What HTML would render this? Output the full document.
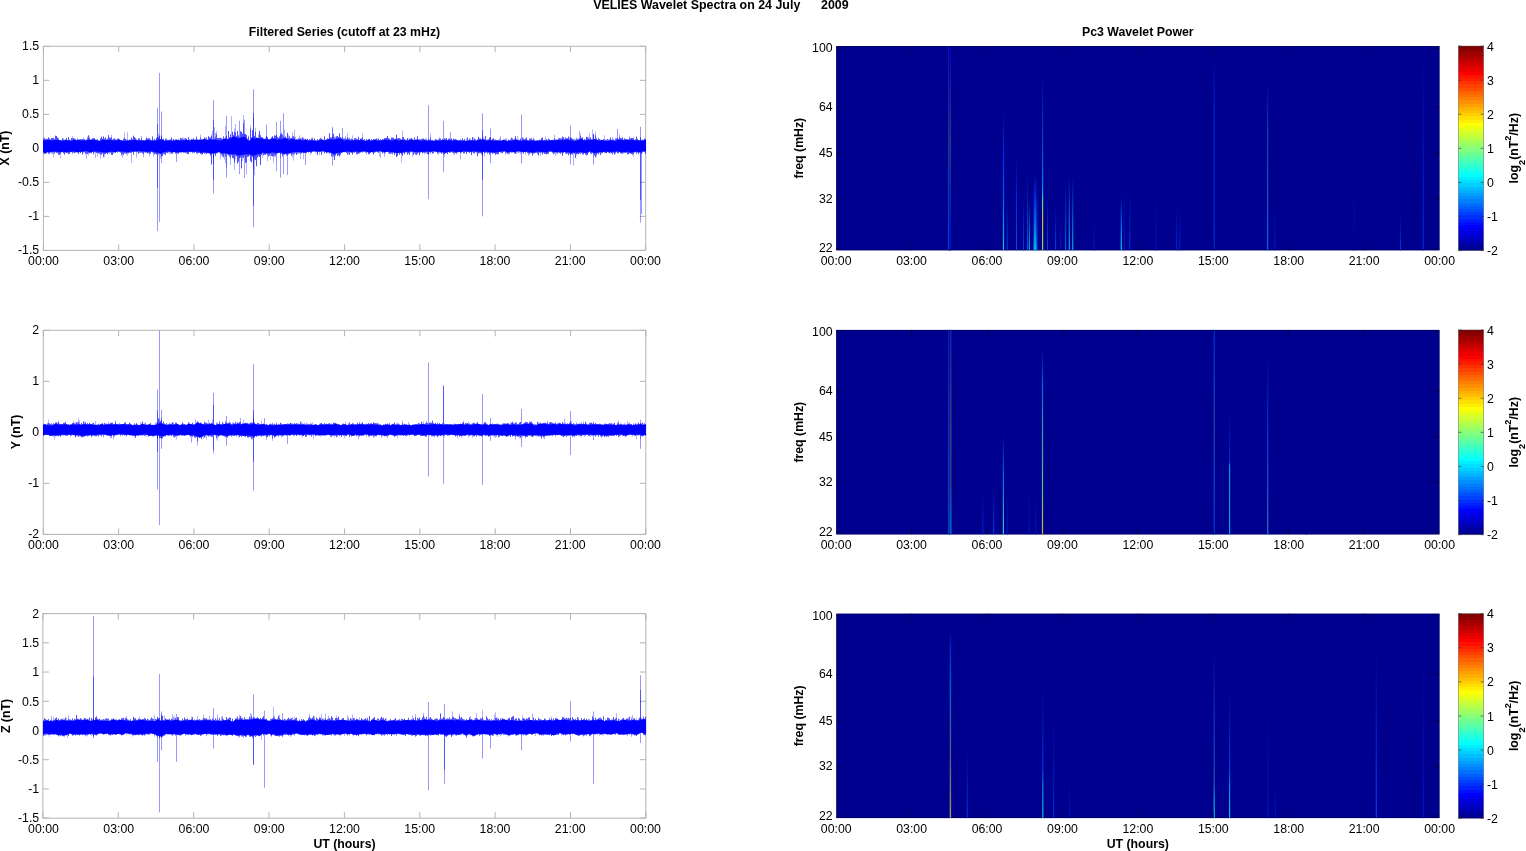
<!DOCTYPE html>
<html><head><meta charset="utf-8"><title>VELIES Wavelet Spectra</title>
<style>html,body{margin:0;padding:0;background:#fff;width:1526px;height:851px;overflow:hidden}svg{display:block;will-change:transform}</style>
</head><body>
<svg width="1526" height="851" viewBox="0 0 1526 851" font-family="'Liberation Sans', Arial, Helvetica, sans-serif" fill="#000"><defs><linearGradient id="g1" gradientUnits="userSpaceOnUse" x1="0" y1="46.00" x2="0" y2="250.40"><stop offset="0.0000" stop-color="rgb(0, 20, 180)"/><stop offset="0.4599" stop-color="rgb(20, 60, 150)"/><stop offset="0.9247" stop-color="rgb(0, 60, 220)"/><stop offset="0.9980" stop-color="rgb(0, 60, 220)"/></linearGradient><linearGradient id="g2" gradientUnits="userSpaceOnUse" x1="0" y1="46.00" x2="0" y2="250.40"><stop offset="0.0000" stop-color="rgb(0, 0, 160)"/><stop offset="0.4599" stop-color="rgb(10, 30, 150)"/><stop offset="0.9247" stop-color="rgb(0, 15, 175)"/><stop offset="0.9980" stop-color="rgb(0, 15, 175)"/></linearGradient><linearGradient id="g3" gradientUnits="userSpaceOnUse" x1="0" y1="46.00" x2="0" y2="250.40"><stop offset="0.0000" stop-color="rgb(0, 0, 185)"/><stop offset="0.4599" stop-color="rgb(60, 60, 130)"/><stop offset="0.9247" stop-color="rgb(0, 20, 190)"/><stop offset="0.9980" stop-color="rgb(0, 20, 190)"/></linearGradient><linearGradient id="g4" gradientUnits="userSpaceOnUse" x1="0" y1="107.00" x2="0" y2="250.40"><stop offset="0.0000" stop-color="rgb(0, 0, 143)"/><stop offset="0.3696" stop-color="rgb(0, 50, 230)"/><stop offset="0.6485" stop-color="rgb(0, 100, 240)"/><stop offset="0.9275" stop-color="rgb(0, 180, 220)"/><stop offset="0.9972" stop-color="rgb(30, 200, 200)"/></linearGradient><linearGradient id="g5" gradientUnits="userSpaceOnUse" x1="0" y1="195.00" x2="0" y2="250.40"><stop offset="0.0000" stop-color="rgb(0, 0, 143)"/><stop offset="0.9928" stop-color="rgb(0, 60, 230)"/></linearGradient><linearGradient id="g6" gradientUnits="userSpaceOnUse" x1="0" y1="156.00" x2="0" y2="250.40"><stop offset="0.0000" stop-color="rgb(0, 0, 143)"/><stop offset="0.4661" stop-color="rgb(0, 40, 230)"/><stop offset="0.9958" stop-color="rgb(0, 80, 240)"/></linearGradient><linearGradient id="g7" gradientUnits="userSpaceOnUse" x1="0" y1="195.00" x2="0" y2="250.40"><stop offset="0.0000" stop-color="rgb(0, 0, 143)"/><stop offset="0.9928" stop-color="rgb(0, 60, 230)"/></linearGradient><linearGradient id="g8" gradientUnits="userSpaceOnUse" x1="0" y1="171.00" x2="0" y2="250.40"><stop offset="0.0000" stop-color="rgb(0, 0, 143)"/><stop offset="0.9950" stop-color="rgb(0, 90, 240)"/></linearGradient><linearGradient id="g9" gradientUnits="userSpaceOnUse" x1="0" y1="201.00" x2="0" y2="250.40"><stop offset="0.0000" stop-color="rgb(0, 0, 143)"/><stop offset="0.9919" stop-color="rgb(0, 170, 220)"/></linearGradient><linearGradient id="g10" gradientUnits="userSpaceOnUse" x1="0" y1="185.00" x2="0" y2="250.40"><stop offset="0.0000" stop-color="rgb(0, 0, 143)"/><stop offset="0.6881" stop-color="rgb(0, 50, 230)"/><stop offset="0.9939" stop-color="rgb(0, 120, 240)"/></linearGradient><linearGradient id="g11" gradientUnits="userSpaceOnUse" x1="0" y1="171.00" x2="0" y2="250.40"><stop offset="0.0000" stop-color="rgb(0, 0, 143)"/><stop offset="0.3652" stop-color="rgb(0, 50, 240)"/><stop offset="0.7431" stop-color="rgb(0, 150, 240)"/><stop offset="0.9950" stop-color="rgb(0, 220, 230)"/></linearGradient><linearGradient id="g12" gradientUnits="userSpaceOnUse" x1="0" y1="175.00" x2="0" y2="250.40"><stop offset="0.0000" stop-color="rgb(0, 0, 143)"/><stop offset="0.3316" stop-color="rgb(0, 60, 240)"/><stop offset="0.7294" stop-color="rgb(0, 170, 240)"/><stop offset="0.9947" stop-color="rgb(20, 230, 220)"/></linearGradient><linearGradient id="g13" gradientUnits="userSpaceOnUse" x1="0" y1="190.00" x2="0" y2="250.40"><stop offset="0.0000" stop-color="rgb(0, 0, 143)"/><stop offset="0.6623" stop-color="rgb(0, 50, 230)"/><stop offset="0.9934" stop-color="rgb(0, 110, 240)"/></linearGradient><linearGradient id="g14" gradientUnits="userSpaceOnUse" x1="0" y1="74.00" x2="0" y2="250.40"><stop offset="0.0000" stop-color="rgb(0, 0, 143)"/><stop offset="0.4875" stop-color="rgb(0, 90, 220)"/><stop offset="0.6519" stop-color="rgb(0, 140, 230)"/><stop offset="0.7143" stop-color="rgb(60, 220, 150)"/><stop offset="0.8390" stop-color="rgb(220, 180, 40)"/><stop offset="0.9977" stop-color="rgb(150, 220, 80)"/></linearGradient><linearGradient id="g15" gradientUnits="userSpaceOnUse" x1="0" y1="195.00" x2="0" y2="250.40"><stop offset="0.0000" stop-color="rgb(0, 0, 143)"/><stop offset="0.9928" stop-color="rgb(0, 70, 230)"/></linearGradient><linearGradient id="g16" gradientUnits="userSpaceOnUse" x1="0" y1="206.00" x2="0" y2="250.40"><stop offset="0.0000" stop-color="rgb(0, 0, 143)"/><stop offset="0.9910" stop-color="rgb(0, 70, 230)"/></linearGradient><linearGradient id="g17" gradientUnits="userSpaceOnUse" x1="0" y1="215.00" x2="0" y2="250.40"><stop offset="0.0000" stop-color="rgb(0, 0, 143)"/><stop offset="0.9887" stop-color="rgb(0, 30, 200)"/></linearGradient><linearGradient id="g18" gradientUnits="userSpaceOnUse" x1="0" y1="180.00" x2="0" y2="250.40"><stop offset="0.0000" stop-color="rgb(0, 0, 143)"/><stop offset="0.9943" stop-color="rgb(0, 110, 240)"/></linearGradient><linearGradient id="g19" gradientUnits="userSpaceOnUse" x1="0" y1="176.00" x2="0" y2="250.40"><stop offset="0.0000" stop-color="rgb(0, 0, 143)"/><stop offset="0.9946" stop-color="rgb(0, 170, 230)"/></linearGradient><linearGradient id="g20" gradientUnits="userSpaceOnUse" x1="0" y1="177.00" x2="0" y2="250.40"><stop offset="0.0000" stop-color="rgb(0, 0, 143)"/><stop offset="0.9946" stop-color="rgb(0, 170, 230)"/></linearGradient><linearGradient id="g21" gradientUnits="userSpaceOnUse" x1="0" y1="222.00" x2="0" y2="250.40"><stop offset="0.0000" stop-color="rgb(0, 0, 143)"/><stop offset="0.9859" stop-color="rgb(0, 30, 200)"/></linearGradient><linearGradient id="g22" gradientUnits="userSpaceOnUse" x1="0" y1="196.00" x2="0" y2="250.40"><stop offset="0.0000" stop-color="rgb(0, 0, 143)"/><stop offset="0.5331" stop-color="rgb(0, 110, 240)"/><stop offset="0.9926" stop-color="rgb(0, 210, 230)"/></linearGradient><linearGradient id="g23" gradientUnits="userSpaceOnUse" x1="0" y1="189.00" x2="0" y2="250.40"><stop offset="0.0000" stop-color="rgb(0, 0, 143)"/><stop offset="0.9935" stop-color="rgb(0, 30, 200)"/></linearGradient><linearGradient id="g24" gradientUnits="userSpaceOnUse" x1="0" y1="191.00" x2="0" y2="250.40"><stop offset="0.0000" stop-color="rgb(0, 0, 143)"/><stop offset="0.9933" stop-color="rgb(0, 60, 230)"/></linearGradient><linearGradient id="g25" gradientUnits="userSpaceOnUse" x1="0" y1="191.00" x2="0" y2="250.40"><stop offset="0.0000" stop-color="rgb(0, 0, 143)"/><stop offset="0.9933" stop-color="rgb(0, 20, 185)"/></linearGradient><linearGradient id="g26" gradientUnits="userSpaceOnUse" x1="0" y1="201.00" x2="0" y2="250.40"><stop offset="0.0000" stop-color="rgb(0, 0, 143)"/><stop offset="0.9919" stop-color="rgb(0, 50, 220)"/></linearGradient><linearGradient id="g27" gradientUnits="userSpaceOnUse" x1="0" y1="204.00" x2="0" y2="250.40"><stop offset="0.0000" stop-color="rgb(0, 0, 143)"/><stop offset="0.9914" stop-color="rgb(0, 40, 215)"/></linearGradient><linearGradient id="g28" gradientUnits="userSpaceOnUse" x1="0" y1="56.00" x2="0" y2="250.40"><stop offset="0.0000" stop-color="rgb(0, 0, 143)"/><stop offset="0.2263" stop-color="rgb(0, 30, 200)"/><stop offset="0.9979" stop-color="rgb(0, 45, 205)"/></linearGradient><linearGradient id="g29" gradientUnits="userSpaceOnUse" x1="0" y1="84.00" x2="0" y2="250.40"><stop offset="0.0000" stop-color="rgb(0, 0, 143)"/><stop offset="0.2764" stop-color="rgb(20, 60, 180)"/><stop offset="0.6971" stop-color="rgb(30, 80, 190)"/><stop offset="0.9976" stop-color="rgb(0, 100, 230)"/></linearGradient><linearGradient id="g30" gradientUnits="userSpaceOnUse" x1="0" y1="205.00" x2="0" y2="250.40"><stop offset="0.0000" stop-color="rgb(0, 0, 143)"/><stop offset="0.9912" stop-color="rgb(0, 30, 200)"/></linearGradient><linearGradient id="g31" gradientUnits="userSpaceOnUse" x1="0" y1="186.00" x2="0" y2="250.40"><stop offset="0.0000" stop-color="rgb(0, 0, 143)"/><stop offset="0.4348" stop-color="rgb(0, 10, 165)"/><stop offset="0.9938" stop-color="rgb(0, 0, 143)"/></linearGradient><linearGradient id="g32" gradientUnits="userSpaceOnUse" x1="0" y1="216.00" x2="0" y2="250.40"><stop offset="0.0000" stop-color="rgb(0, 0, 143)"/><stop offset="0.9884" stop-color="rgb(0, 60, 230)"/></linearGradient><linearGradient id="g33" gradientUnits="userSpaceOnUse" x1="0" y1="47.00" x2="0" y2="250.40"><stop offset="0.0000" stop-color="rgb(0, 0, 143)"/><stop offset="0.9980" stop-color="rgb(0, 40, 210)"/></linearGradient><linearGradient id="cbar" x1="0" y1="0" x2="0" y2="1"><stop offset="0.00000" stop-color="rgb(128,0,0)"/><stop offset="0.01562" stop-color="rgb(128,0,0)"/><stop offset="0.01562" stop-color="rgb(143,0,0)"/><stop offset="0.03125" stop-color="rgb(143,0,0)"/><stop offset="0.03125" stop-color="rgb(159,0,0)"/><stop offset="0.04688" stop-color="rgb(159,0,0)"/><stop offset="0.04688" stop-color="rgb(175,0,0)"/><stop offset="0.06250" stop-color="rgb(175,0,0)"/><stop offset="0.06250" stop-color="rgb(191,0,0)"/><stop offset="0.07812" stop-color="rgb(191,0,0)"/><stop offset="0.07812" stop-color="rgb(207,0,0)"/><stop offset="0.09375" stop-color="rgb(207,0,0)"/><stop offset="0.09375" stop-color="rgb(223,0,0)"/><stop offset="0.10938" stop-color="rgb(223,0,0)"/><stop offset="0.10938" stop-color="rgb(239,0,0)"/><stop offset="0.12500" stop-color="rgb(239,0,0)"/><stop offset="0.12500" stop-color="rgb(255,0,0)"/><stop offset="0.14062" stop-color="rgb(255,0,0)"/><stop offset="0.14062" stop-color="rgb(255,16,0)"/><stop offset="0.15625" stop-color="rgb(255,16,0)"/><stop offset="0.15625" stop-color="rgb(255,32,0)"/><stop offset="0.17188" stop-color="rgb(255,32,0)"/><stop offset="0.17188" stop-color="rgb(255,48,0)"/><stop offset="0.18750" stop-color="rgb(255,48,0)"/><stop offset="0.18750" stop-color="rgb(255,64,0)"/><stop offset="0.20312" stop-color="rgb(255,64,0)"/><stop offset="0.20312" stop-color="rgb(255,80,0)"/><stop offset="0.21875" stop-color="rgb(255,80,0)"/><stop offset="0.21875" stop-color="rgb(255,96,0)"/><stop offset="0.23438" stop-color="rgb(255,96,0)"/><stop offset="0.23438" stop-color="rgb(255,112,0)"/><stop offset="0.25000" stop-color="rgb(255,112,0)"/><stop offset="0.25000" stop-color="rgb(255,128,0)"/><stop offset="0.26562" stop-color="rgb(255,128,0)"/><stop offset="0.26562" stop-color="rgb(255,143,0)"/><stop offset="0.28125" stop-color="rgb(255,143,0)"/><stop offset="0.28125" stop-color="rgb(255,159,0)"/><stop offset="0.29688" stop-color="rgb(255,159,0)"/><stop offset="0.29688" stop-color="rgb(255,175,0)"/><stop offset="0.31250" stop-color="rgb(255,175,0)"/><stop offset="0.31250" stop-color="rgb(255,191,0)"/><stop offset="0.32812" stop-color="rgb(255,191,0)"/><stop offset="0.32812" stop-color="rgb(255,207,0)"/><stop offset="0.34375" stop-color="rgb(255,207,0)"/><stop offset="0.34375" stop-color="rgb(255,223,0)"/><stop offset="0.35938" stop-color="rgb(255,223,0)"/><stop offset="0.35938" stop-color="rgb(255,239,0)"/><stop offset="0.37500" stop-color="rgb(255,239,0)"/><stop offset="0.37500" stop-color="rgb(255,255,0)"/><stop offset="0.39062" stop-color="rgb(255,255,0)"/><stop offset="0.39062" stop-color="rgb(239,255,16)"/><stop offset="0.40625" stop-color="rgb(239,255,16)"/><stop offset="0.40625" stop-color="rgb(223,255,32)"/><stop offset="0.42188" stop-color="rgb(223,255,32)"/><stop offset="0.42188" stop-color="rgb(207,255,48)"/><stop offset="0.43750" stop-color="rgb(207,255,48)"/><stop offset="0.43750" stop-color="rgb(191,255,64)"/><stop offset="0.45312" stop-color="rgb(191,255,64)"/><stop offset="0.45312" stop-color="rgb(175,255,80)"/><stop offset="0.46875" stop-color="rgb(175,255,80)"/><stop offset="0.46875" stop-color="rgb(159,255,96)"/><stop offset="0.48438" stop-color="rgb(159,255,96)"/><stop offset="0.48438" stop-color="rgb(143,255,112)"/><stop offset="0.50000" stop-color="rgb(143,255,112)"/><stop offset="0.50000" stop-color="rgb(128,255,128)"/><stop offset="0.51562" stop-color="rgb(128,255,128)"/><stop offset="0.51562" stop-color="rgb(112,255,143)"/><stop offset="0.53125" stop-color="rgb(112,255,143)"/><stop offset="0.53125" stop-color="rgb(96,255,159)"/><stop offset="0.54688" stop-color="rgb(96,255,159)"/><stop offset="0.54688" stop-color="rgb(80,255,175)"/><stop offset="0.56250" stop-color="rgb(80,255,175)"/><stop offset="0.56250" stop-color="rgb(64,255,191)"/><stop offset="0.57812" stop-color="rgb(64,255,191)"/><stop offset="0.57812" stop-color="rgb(48,255,207)"/><stop offset="0.59375" stop-color="rgb(48,255,207)"/><stop offset="0.59375" stop-color="rgb(32,255,223)"/><stop offset="0.60938" stop-color="rgb(32,255,223)"/><stop offset="0.60938" stop-color="rgb(16,255,239)"/><stop offset="0.62500" stop-color="rgb(16,255,239)"/><stop offset="0.62500" stop-color="rgb(0,255,255)"/><stop offset="0.64062" stop-color="rgb(0,255,255)"/><stop offset="0.64062" stop-color="rgb(0,239,255)"/><stop offset="0.65625" stop-color="rgb(0,239,255)"/><stop offset="0.65625" stop-color="rgb(0,223,255)"/><stop offset="0.67188" stop-color="rgb(0,223,255)"/><stop offset="0.67188" stop-color="rgb(0,207,255)"/><stop offset="0.68750" stop-color="rgb(0,207,255)"/><stop offset="0.68750" stop-color="rgb(0,191,255)"/><stop offset="0.70312" stop-color="rgb(0,191,255)"/><stop offset="0.70312" stop-color="rgb(0,175,255)"/><stop offset="0.71875" stop-color="rgb(0,175,255)"/><stop offset="0.71875" stop-color="rgb(0,159,255)"/><stop offset="0.73438" stop-color="rgb(0,159,255)"/><stop offset="0.73438" stop-color="rgb(0,143,255)"/><stop offset="0.75000" stop-color="rgb(0,143,255)"/><stop offset="0.75000" stop-color="rgb(0,128,255)"/><stop offset="0.76562" stop-color="rgb(0,128,255)"/><stop offset="0.76562" stop-color="rgb(0,112,255)"/><stop offset="0.78125" stop-color="rgb(0,112,255)"/><stop offset="0.78125" stop-color="rgb(0,96,255)"/><stop offset="0.79688" stop-color="rgb(0,96,255)"/><stop offset="0.79688" stop-color="rgb(0,80,255)"/><stop offset="0.81250" stop-color="rgb(0,80,255)"/><stop offset="0.81250" stop-color="rgb(0,64,255)"/><stop offset="0.82812" stop-color="rgb(0,64,255)"/><stop offset="0.82812" stop-color="rgb(0,48,255)"/><stop offset="0.84375" stop-color="rgb(0,48,255)"/><stop offset="0.84375" stop-color="rgb(0,32,255)"/><stop offset="0.85938" stop-color="rgb(0,32,255)"/><stop offset="0.85938" stop-color="rgb(0,16,255)"/><stop offset="0.87500" stop-color="rgb(0,16,255)"/><stop offset="0.87500" stop-color="rgb(0,0,255)"/><stop offset="0.89062" stop-color="rgb(0,0,255)"/><stop offset="0.89062" stop-color="rgb(0,0,239)"/><stop offset="0.90625" stop-color="rgb(0,0,239)"/><stop offset="0.90625" stop-color="rgb(0,0,223)"/><stop offset="0.92188" stop-color="rgb(0,0,223)"/><stop offset="0.92188" stop-color="rgb(0,0,207)"/><stop offset="0.93750" stop-color="rgb(0,0,207)"/><stop offset="0.93750" stop-color="rgb(0,0,191)"/><stop offset="0.95312" stop-color="rgb(0,0,191)"/><stop offset="0.95312" stop-color="rgb(0,0,175)"/><stop offset="0.96875" stop-color="rgb(0,0,175)"/><stop offset="0.96875" stop-color="rgb(0,0,159)"/><stop offset="0.98438" stop-color="rgb(0,0,159)"/><stop offset="0.98438" stop-color="rgb(0,0,143)"/><stop offset="1.00000" stop-color="rgb(0,0,143)"/></linearGradient><linearGradient id="g34" gradientUnits="userSpaceOnUse" x1="0" y1="329.90" x2="0" y2="534.50"><stop offset="0.0000" stop-color="rgb(0, 40, 200)"/><stop offset="0.4594" stop-color="rgb(0, 70, 215)"/><stop offset="0.9971" stop-color="rgb(0, 80, 220)"/></linearGradient><linearGradient id="g35" gradientUnits="userSpaceOnUse" x1="0" y1="329.90" x2="0" y2="534.50"><stop offset="0.0000" stop-color="rgb(0, 10, 170)"/><stop offset="0.4594" stop-color="rgb(20, 30, 150)"/><stop offset="0.9971" stop-color="rgb(0, 60, 190)"/></linearGradient><linearGradient id="g36" gradientUnits="userSpaceOnUse" x1="0" y1="329.90" x2="0" y2="534.50"><stop offset="0.0000" stop-color="rgb(40, 40, 160)"/><stop offset="0.4594" stop-color="rgb(100, 80, 100)"/><stop offset="0.7527" stop-color="rgb(90, 80, 110)"/><stop offset="0.9238" stop-color="rgb(0, 150, 200)"/><stop offset="0.9971" stop-color="rgb(0, 150, 200)"/></linearGradient><linearGradient id="g37" gradientUnits="userSpaceOnUse" x1="0" y1="490.90" x2="0" y2="534.50"><stop offset="0.0000" stop-color="rgb(0, 0, 143)"/><stop offset="0.9862" stop-color="rgb(0, 40, 220)"/></linearGradient><linearGradient id="g38" gradientUnits="userSpaceOnUse" x1="0" y1="487.40" x2="0" y2="534.50"><stop offset="0.0000" stop-color="rgb(0, 0, 143)"/><stop offset="0.9873" stop-color="rgb(0, 70, 230)"/></linearGradient><linearGradient id="g39" gradientUnits="userSpaceOnUse" x1="0" y1="434.50" x2="0" y2="534.50"><stop offset="0.0000" stop-color="rgb(0, 0, 143)"/><stop offset="0.3940" stop-color="rgb(0, 100, 230)"/><stop offset="0.9940" stop-color="rgb(60, 200, 180)"/></linearGradient><linearGradient id="g40" gradientUnits="userSpaceOnUse" x1="0" y1="492.90" x2="0" y2="534.50"><stop offset="0.0000" stop-color="rgb(0, 0, 143)"/><stop offset="0.9856" stop-color="rgb(0, 25, 190)"/></linearGradient><linearGradient id="g41" gradientUnits="userSpaceOnUse" x1="0" y1="487.40" x2="0" y2="534.50"><stop offset="0.0000" stop-color="rgb(0, 0, 143)"/><stop offset="0.9873" stop-color="rgb(0, 25, 190)"/></linearGradient><linearGradient id="g42" gradientUnits="userSpaceOnUse" x1="0" y1="492.90" x2="0" y2="534.50"><stop offset="0.0000" stop-color="rgb(0, 0, 143)"/><stop offset="0.9856" stop-color="rgb(0, 25, 190)"/></linearGradient><linearGradient id="g43" gradientUnits="userSpaceOnUse" x1="0" y1="348.90" x2="0" y2="534.50"><stop offset="0.0000" stop-color="rgb(0, 0, 143)"/><stop offset="0.1886" stop-color="rgb(0, 100, 220)"/><stop offset="0.4580" stop-color="rgb(60, 160, 170)"/><stop offset="0.8028" stop-color="rgb(100, 200, 120)"/><stop offset="0.9537" stop-color="rgb(200, 180, 60)"/><stop offset="0.9968" stop-color="rgb(200, 180, 60)"/></linearGradient><linearGradient id="g44" gradientUnits="userSpaceOnUse" x1="0" y1="329.90" x2="0" y2="534.50"><stop offset="0.0000" stop-color="rgb(0, 50, 215)"/><stop offset="0.4594" stop-color="rgb(40, 70, 170)"/><stop offset="0.9971" stop-color="rgb(0, 60, 220)"/></linearGradient><linearGradient id="g45" gradientUnits="userSpaceOnUse" x1="0" y1="409.50" x2="0" y2="534.50"><stop offset="0.0000" stop-color="rgb(0, 0, 143)"/><stop offset="0.4192" stop-color="rgb(0, 40, 210)"/><stop offset="0.4512" stop-color="rgb(0, 150, 220)"/><stop offset="0.9952" stop-color="rgb(0, 160, 220)"/></linearGradient><linearGradient id="g46" gradientUnits="userSpaceOnUse" x1="0" y1="356.40" x2="0" y2="534.50"><stop offset="0.0000" stop-color="rgb(0, 0, 143)"/><stop offset="0.4351" stop-color="rgb(0, 60, 220)"/><stop offset="0.9966" stop-color="rgb(40, 120, 200)"/></linearGradient><linearGradient id="g47" gradientUnits="userSpaceOnUse" x1="0" y1="397.90" x2="0" y2="534.50"><stop offset="0.0000" stop-color="rgb(0, 0, 143)"/><stop offset="0.6296" stop-color="rgb(0, 5, 155)"/><stop offset="0.8492" stop-color="rgb(0, 0, 143)"/></linearGradient><linearGradient id="g48" gradientUnits="userSpaceOnUse" x1="0" y1="630.60" x2="0" y2="818.10"><stop offset="0.0000" stop-color="rgb(0, 0, 143)"/><stop offset="0.0907" stop-color="rgb(0, 40, 200)"/><stop offset="0.2965" stop-color="rgb(0, 100, 200)"/><stop offset="0.6827" stop-color="rgb(90, 90, 120)"/><stop offset="0.9973" stop-color="rgb(150, 160, 90)"/></linearGradient><linearGradient id="g49" gradientUnits="userSpaceOnUse" x1="0" y1="749.10" x2="0" y2="818.10"><stop offset="0.0000" stop-color="rgb(0, 0, 143)"/><stop offset="0.9928" stop-color="rgb(0, 60, 220)"/></linearGradient><linearGradient id="g50" gradientUnits="userSpaceOnUse" x1="0" y1="683.60" x2="0" y2="818.10"><stop offset="0.0000" stop-color="rgb(0, 0, 143)"/><stop offset="0.6245" stop-color="rgb(0, 50, 220)"/><stop offset="0.7361" stop-color="rgb(0, 120, 230)"/><stop offset="0.9963" stop-color="rgb(0, 200, 220)"/></linearGradient><linearGradient id="g51" gradientUnits="userSpaceOnUse" x1="0" y1="717.60" x2="0" y2="818.10"><stop offset="0.0000" stop-color="rgb(0, 0, 143)"/><stop offset="0.9950" stop-color="rgb(0, 50, 220)"/></linearGradient><linearGradient id="g52" gradientUnits="userSpaceOnUse" x1="0" y1="779.60" x2="0" y2="818.10"><stop offset="0.0000" stop-color="rgb(0, 0, 143)"/><stop offset="0.9870" stop-color="rgb(0, 25, 190)"/></linearGradient><linearGradient id="g53" gradientUnits="userSpaceOnUse" x1="0" y1="650.30" x2="0" y2="818.10"><stop offset="0.0000" stop-color="rgb(0, 0, 143)"/><stop offset="0.4011" stop-color="rgb(20, 50, 190)"/><stop offset="0.7884" stop-color="rgb(40, 80, 180)"/><stop offset="0.9076" stop-color="rgb(0, 170, 220)"/><stop offset="0.9970" stop-color="rgb(0, 200, 220)"/></linearGradient><linearGradient id="g54" gradientUnits="userSpaceOnUse" x1="0" y1="692.00" x2="0" y2="818.10"><stop offset="0.0000" stop-color="rgb(0, 0, 143)"/><stop offset="0.5995" stop-color="rgb(0, 60, 225)"/><stop offset="0.7581" stop-color="rgb(0, 140, 230)"/><stop offset="0.9960" stop-color="rgb(0, 190, 225)"/></linearGradient><linearGradient id="g55" gradientUnits="userSpaceOnUse" x1="0" y1="709.60" x2="0" y2="818.10"><stop offset="0.0000" stop-color="rgb(0, 0, 143)"/><stop offset="0.9954" stop-color="rgb(0, 25, 190)"/></linearGradient><linearGradient id="g56" gradientUnits="userSpaceOnUse" x1="0" y1="782.60" x2="0" y2="818.10"><stop offset="0.0000" stop-color="rgb(0, 0, 143)"/><stop offset="0.9859" stop-color="rgb(0, 25, 190)"/></linearGradient><linearGradient id="g57" gradientUnits="userSpaceOnUse" x1="0" y1="649.00" x2="0" y2="818.10"><stop offset="0.0000" stop-color="rgb(0, 0, 143)"/><stop offset="0.9970" stop-color="rgb(0, 60, 255)"/></linearGradient><linearGradient id="g58" gradientUnits="userSpaceOnUse" x1="0" y1="651.60" x2="0" y2="818.10"><stop offset="0.0000" stop-color="rgb(0, 0, 143)"/><stop offset="0.9970" stop-color="rgb(0, 25, 195)"/></linearGradient></defs><rect width="1526" height="851" fill="#fff"/><text x="720.90" y="9.40" text-anchor="middle" font-weight="bold" font-size="12.42" >VELIES Wavelet Spectra on 24 July&#160;&#160;&#160;&#160;&#160;&#160;2009</text>
<text x="344.50" y="36.20" text-anchor="middle" font-weight="bold" font-size="12.3" >Filtered Series (cutoff at 23 mHz)</text>
<text x="1137.80" y="36.20" text-anchor="middle" font-weight="bold" font-size="12.3" >Pc3 Wavelet Power</text>
<path d="M43.4 46.3H645.7V250.4H43.4Z" fill="none" stroke="#b4b4b4" stroke-width="1"/>
<path d="M43.40 46.3v6M43.40 250.4v-6M118.69 46.3v6M118.69 250.4v-6M193.98 46.3v6M193.98 250.4v-6M269.26 46.3v6M269.26 250.4v-6M344.55 46.3v6M344.55 250.4v-6M419.84 46.3v6M419.84 250.4v-6M495.13 46.3v6M495.13 250.4v-6M570.41 46.3v6M570.41 250.4v-6M645.70 46.3v6M645.70 250.4v-6M43.4 46.30h6M645.7 46.30h-6M43.4 80.32h6M645.7 80.32h-6M43.4 114.33h6M645.7 114.33h-6M43.4 148.35h6M645.7 148.35h-6M43.4 182.37h6M645.7 182.37h-6M43.4 216.38h6M645.7 216.38h-6M43.4 250.40h6M645.7 250.40h-6" stroke="#b4b4b4" stroke-width="1" fill="none"/>
<path d="M43.5 137.1V153.1M44.5 138.1V154.0M45.5 139.1V153.8M46.5 138.8V153.7M47.5 139.0V152.2M48.5 137.4V153.7M49.5 138.6V153.9M50.5 139.6V152.5M51.5 137.8V153.4M52.5 138.0V154.5M53.5 137.9V157.3M54.5 139.1V153.7M55.5 135.3V152.2M56.5 136.0V152.9M57.5 137.5V152.9M58.5 138.5V154.7M59.5 140.0V154.7M60.5 140.1V158.4M61.5 140.4V152.3M62.5 138.4V152.2M63.5 138.2V153.4M64.5 139.8V154.5M65.5 138.9V152.6M66.5 138.2V153.1M67.5 140.2V152.8M68.5 137.1V154.1M69.5 139.6V153.8M70.5 140.1V152.2M71.5 137.9V152.1M72.5 135.8V154.3M73.5 138.1V152.5M74.5 138.5V153.1M75.5 139.2V152.6M76.5 140.2V152.1M77.5 138.7V152.7M78.5 139.6V154.0M79.5 139.3V152.2M80.5 139.4V153.4M81.5 139.1V152.0M82.5 139.2V154.4M83.5 137.3V152.4M84.5 139.1V152.7M85.5 140.1V154.8M86.5 139.1V158.8M87.5 136.4V154.0M88.5 135.3V155.4M89.5 136.4V153.3M90.5 139.8V152.5M91.5 139.3V153.2M92.5 138.3V151.9M93.5 138.2V154.8M94.5 138.1V152.5M95.5 139.5V158.3M96.5 139.7V153.0M97.5 139.4V157.0M98.5 140.3V153.3M99.5 140.6V153.7M100.5 138.3V158.7M101.5 136.0V154.6M102.5 138.7V153.1M103.5 136.4V157.7M104.5 138.6V157.2M105.5 137.4V154.1M106.5 139.5V153.0M107.5 138.7V154.2M108.5 135.2V152.6M109.5 136.9V154.3M110.5 137.9V152.8M111.5 134.8V154.8M112.5 139.6V154.8M113.5 139.1V153.8M114.5 138.3V152.5M115.5 139.4V152.9M116.5 139.7V151.9M117.5 138.7V152.6M118.5 137.8V151.5M119.5 139.1V152.1M120.5 140.1V152.6M121.5 140.4V156.1M122.5 140.2V158.3M123.5 138.8V155.0M124.5 132.6V153.2M125.5 139.0V153.3M126.5 139.6V154.1M127.5 132.2V155.9M128.5 140.4V153.3M129.5 139.6V152.6M130.5 139.7V152.9M131.5 137.7V162.9M132.5 139.2V151.8M133.5 135.7V155.3M134.5 137.0V151.7M135.5 137.8V151.5M136.5 139.2V157.7M137.5 140.3V152.2M138.5 138.4V153.7M139.5 138.6V152.7M140.5 140.1V152.6M141.5 135.6V152.6M142.5 140.3V153.2M143.5 140.1V157.3M144.5 140.5V152.7M145.5 139.7V152.7M146.5 137.7V152.5M147.5 138.6V153.4M148.5 137.7V153.0M149.5 138.4V156.7M150.5 139.5V153.6M151.5 140.3V151.6M152.5 136.5V152.4M153.5 140.5V156.6M154.5 138.9V154.4M155.5 140.0V153.8M156.5 137.8V154.3M157.5 137.1V153.2M158.5 133.7V154.4M159.5 135.7V153.3M160.5 139.1V158.6M161.5 135.5V157.1M162.5 139.1V155.9M163.5 138.7V153.8M164.5 140.6V154.4M165.5 138.9V154.9M166.5 138.0V153.0M167.5 140.4V153.1M168.5 140.3V152.8M169.5 139.4V154.0M170.5 139.5V153.9M171.5 137.5V153.6M172.5 140.6V153.6M173.5 139.0V152.2M174.5 140.0V152.4M175.5 139.4V153.5M176.5 139.3V152.9M177.5 140.0V154.3M178.5 139.3V153.7M179.5 140.4V152.2M180.5 137.9V152.6M181.5 138.4V153.6M182.5 137.4V152.1M183.5 137.6V152.8M184.5 137.9V152.5M185.5 138.1V153.0M186.5 138.8V153.8M187.5 140.0V154.3M188.5 137.0V154.2M189.5 139.5V152.2M190.5 139.8V152.2M191.5 138.9V151.8M192.5 139.3V153.9M193.5 137.8V152.5M194.5 139.8V152.8M195.5 139.5V152.0M196.5 136.7V153.3M197.5 139.6V153.5M198.5 139.6V153.1M199.5 139.4V152.9M200.5 134.7V153.8M201.5 139.3V155.2M202.5 139.5V154.3M203.5 139.1V152.7M204.5 137.3V153.6M205.5 138.5V153.7M206.5 137.6V154.0M207.5 139.6V153.1M208.5 136.3V153.3M209.5 137.4V153.4M210.5 137.6V156.5M211.5 134.0V164.5M212.5 130.7V153.6M213.5 139.1V164.1M214.5 127.1V153.8M215.5 132.9V155.8M216.5 131.1V153.4M217.5 138.1V153.2M218.5 138.0V152.4M219.5 137.9V152.5M220.5 137.3V159.4M221.5 138.1V155.7M222.5 139.0V157.0M223.5 136.4V157.9M224.5 138.5V159.7M225.5 125.9V163.5M226.5 136.2V168.6M227.5 138.8V154.2M228.5 131.0V156.0M229.5 137.0V156.4M230.5 133.9V165.2M231.5 115.8V155.3M232.5 131.8V157.8M233.5 135.0V158.5M234.5 128.5V169.9M235.5 123.9V159.6M236.5 136.2V156.3M237.5 131.0V163.5M238.5 135.3V161.9M239.5 137.2V158.2M240.5 131.2V157.5M241.5 131.9V168.9M242.5 133.7V161.1M243.5 115.0V158.0M244.5 134.2V155.5M245.5 133.9V162.7M246.5 135.0V174.3M247.5 138.8V156.8M248.5 135.6V156.5M249.5 139.9V155.7M250.5 125.3V161.0M251.5 137.3V162.5M252.5 130.2V156.9M253.5 117.6V169.3M254.5 135.9V175.4M255.5 127.7V160.1M256.5 137.5V166.6M257.5 137.9V157.7M258.5 134.0V156.1M259.5 130.9V157.1M260.5 134.3V164.9M261.5 137.2V155.1M262.5 137.4V158.0M263.5 138.5V155.3M264.5 138.8V154.7M265.5 138.3V154.8M266.5 136.0V153.7M267.5 137.1V161.1M268.5 139.0V156.5M269.5 139.3V155.6M270.5 138.6V159.6M271.5 137.3V155.9M272.5 136.2V156.5M273.5 138.3V162.6M274.5 135.3V157.2M275.5 135.9V156.3M276.5 134.9V154.0M277.5 137.1V153.5M278.5 137.9V152.9M279.5 136.5V153.0M280.5 134.3V158.5M281.5 132.6V153.8M282.5 134.7V157.0M283.5 136.7V154.4M284.5 129.4V154.6M285.5 136.1V154.3M286.5 138.2V156.1M287.5 132.9V155.3M288.5 135.1V155.0M289.5 136.3V153.8M290.5 138.0V153.7M291.5 138.1V155.6M292.5 132.3V157.3M293.5 136.1V160.6M294.5 129.7V155.5M295.5 136.6V153.6M296.5 139.0V154.9M297.5 139.2V153.5M298.5 138.4V154.3M299.5 135.2V153.1M300.5 138.3V159.1M301.5 138.0V153.7M302.5 137.1V152.6M303.5 138.4V159.3M304.5 139.3V153.1M305.5 138.7V152.8M306.5 139.5V153.3M307.5 138.8V151.8M308.5 140.1V152.6M309.5 139.0V151.9M310.5 140.1V154.9M311.5 138.4V153.1M312.5 137.3V151.6M313.5 140.0V151.6M314.5 138.4V151.5M315.5 140.5V152.3M316.5 140.7V152.2M317.5 139.3V154.9M318.5 140.0V151.9M319.5 138.9V154.8M320.5 138.1V151.9M321.5 138.4V154.7M322.5 139.4V152.2M323.5 139.8V152.0M324.5 135.6V153.3M325.5 140.1V152.1M326.5 139.0V153.4M327.5 138.3V152.5M328.5 139.0V152.5M329.5 133.4V153.9M330.5 137.5V152.7M331.5 137.7V156.5M332.5 128.8V154.6M333.5 133.7V156.3M334.5 137.3V160.0M335.5 136.2V155.6M336.5 135.9V153.8M337.5 136.1V155.9M338.5 137.0V155.2M339.5 133.5V156.4M340.5 137.2V154.8M341.5 137.8V152.7M342.5 136.8V152.5M343.5 138.5V152.4M344.5 138.7V152.2M345.5 135.9V152.1M346.5 139.0V152.8M347.5 133.4V154.5M348.5 138.4V154.9M349.5 137.5V154.6M350.5 139.4V152.3M351.5 138.8V152.4M352.5 135.4V154.8M353.5 140.0V152.5M354.5 138.2V152.7M355.5 138.1V151.8M356.5 138.8V154.1M357.5 139.3V154.3M358.5 136.8V153.5M359.5 139.9V153.4M360.5 138.7V152.5M361.5 138.5V152.1M362.5 133.5V152.5M363.5 139.8V152.0M364.5 139.0V151.9M365.5 140.4V152.8M366.5 138.9V154.8M367.5 139.9V152.4M368.5 139.1V154.3M369.5 138.8V153.8M370.5 140.4V152.9M371.5 139.2V152.1M372.5 140.1V152.6M373.5 139.1V154.5M374.5 139.3V152.7M375.5 138.9V152.2M376.5 138.4V151.6M377.5 139.6V152.3M378.5 138.4V152.7M379.5 140.0V156.5M380.5 139.2V158.2M381.5 140.0V151.6M382.5 138.9V153.9M383.5 139.3V152.6M384.5 138.2V156.8M385.5 138.0V152.7M386.5 137.9V152.0M387.5 136.1V151.7M388.5 138.1V153.8M389.5 138.7V153.8M390.5 139.7V153.8M391.5 137.6V154.1M392.5 137.7V154.6M393.5 137.7V152.6M394.5 139.0V155.1M395.5 138.8V153.2M396.5 134.8V157.1M397.5 138.5V155.7M398.5 138.0V153.0M399.5 138.2V154.7M400.5 138.8V153.1M401.5 139.8V162.7M402.5 130.5V155.8M403.5 137.0V152.8M404.5 139.0V154.2M405.5 138.8V152.5M406.5 139.9V152.3M407.5 138.1V154.5M408.5 139.7V153.3M409.5 138.7V154.8M410.5 138.8V152.9M411.5 138.1V151.9M412.5 138.7V156.9M413.5 139.8V155.0M414.5 137.5V153.7M415.5 139.4V154.4M416.5 139.6V154.8M417.5 136.4V153.7M418.5 139.5V152.7M419.5 139.2V155.1M420.5 139.6V153.3M421.5 138.9V152.1M422.5 138.8V153.4M423.5 138.5V152.6M424.5 139.4V154.5M425.5 139.3V152.7M426.5 137.8V153.9M427.5 140.6V154.0M428.5 139.0V154.4M429.5 139.7V152.6M430.5 133.8V154.3M431.5 140.1V152.1M432.5 140.2V153.8M433.5 140.5V153.7M434.5 140.4V151.7M435.5 138.9V152.1M436.5 139.6V151.9M437.5 140.2V153.5M438.5 138.9V155.2M439.5 137.3V153.3M440.5 138.4V152.7M441.5 139.9V153.7M442.5 138.8V152.5M443.5 140.0V154.8M444.5 138.0V156.9M445.5 138.7V153.3M446.5 138.0V152.5M447.5 140.0V154.0M448.5 138.7V152.1M449.5 138.7V152.8M450.5 139.7V152.5M451.5 138.5V151.6M452.5 140.5V152.7M453.5 138.2V154.6M454.5 139.1V154.9M455.5 139.1V153.0M456.5 139.6V153.7M457.5 140.0V152.8M458.5 140.4V152.2M459.5 140.2V152.1M460.5 139.3V159.5M461.5 140.2V152.5M462.5 138.2V152.0M463.5 140.4V153.4M464.5 139.1V153.3M465.5 140.7V151.8M466.5 138.2V153.9M467.5 136.9V151.7M468.5 140.0V152.1M469.5 138.7V152.9M470.5 139.5V152.2M471.5 140.0V155.1M472.5 137.1V152.4M473.5 137.6V153.0M474.5 137.7V154.0M475.5 139.3V152.1M476.5 140.3V153.2M477.5 139.3V156.2M478.5 136.9V153.4M479.5 138.1V153.1M480.5 137.9V153.2M481.5 139.3V155.3M482.5 137.8V156.2M483.5 136.7V152.0M484.5 139.3V156.5M485.5 136.0V152.9M486.5 139.7V152.3M487.5 139.7V153.6M488.5 139.5V152.7M489.5 137.4V154.5M490.5 137.6V152.9M491.5 139.7V152.6M492.5 138.9V154.0M493.5 138.2V153.1M494.5 139.8V153.2M495.5 139.5V154.8M496.5 140.2V153.9M497.5 140.4V154.5M498.5 140.1V154.0M499.5 138.1V152.0M500.5 136.3V152.4M501.5 140.6V153.6M502.5 140.1V153.1M503.5 139.6V151.7M504.5 139.7V151.4M505.5 138.7V155.1M506.5 138.0V152.8M507.5 140.9V153.8M508.5 139.3V154.6M509.5 140.3V153.4M510.5 139.6V152.2M511.5 137.6V152.9M512.5 138.6V152.4M513.5 139.6V152.2M514.5 137.8V153.4M515.5 136.3V153.8M516.5 139.3V153.8M517.5 136.0V152.7M518.5 138.9V152.7M519.5 140.2V152.6M520.5 138.6V154.3M521.5 140.6V152.4M522.5 137.5V152.3M523.5 137.6V153.8M524.5 139.3V152.0M525.5 137.9V154.7M526.5 137.5V152.1M527.5 140.1V153.1M528.5 140.7V156.0M529.5 137.9V154.2M530.5 138.7V152.7M531.5 137.9V153.1M532.5 140.0V155.5M533.5 137.7V153.4M534.5 139.2V153.5M535.5 140.7V153.0M536.5 140.4V152.8M537.5 139.9V153.8M538.5 140.4V155.5M539.5 139.7V152.9M540.5 139.8V156.3M541.5 138.1V152.6M542.5 137.6V154.5M543.5 140.4V152.6M544.5 139.5V153.9M545.5 136.3V153.7M546.5 139.2V154.8M547.5 140.4V154.0M548.5 138.0V153.6M549.5 139.4V151.9M550.5 140.2V151.6M551.5 140.1V151.7M552.5 139.8V152.7M553.5 139.7V154.4M554.5 134.5V153.5M555.5 139.5V156.0M556.5 139.3V154.1M557.5 139.7V153.6M558.5 138.4V152.6M559.5 138.0V153.0M560.5 138.3V153.8M561.5 138.6V152.9M562.5 135.7V155.7M563.5 137.3V153.2M564.5 138.8V152.1M565.5 136.8V153.5M566.5 138.4V154.0M567.5 138.4V153.4M568.5 136.5V155.2M569.5 137.4V153.8M570.5 137.0V154.9M571.5 137.9V154.3M572.5 138.8V155.0M573.5 139.4V165.5M574.5 138.6V153.8M575.5 139.6V157.9M576.5 137.3V155.8M577.5 138.2V154.0M578.5 138.9V154.1M579.5 130.8V153.3M580.5 133.0V153.8M581.5 137.9V153.0M582.5 137.4V154.9M583.5 139.9V155.0M584.5 139.1V153.1M585.5 139.6V154.5M586.5 136.8V155.3M587.5 137.2V154.9M588.5 137.0V152.8M589.5 133.4V151.8M590.5 137.3V153.4M591.5 139.4V153.9M592.5 129.6V152.9M593.5 134.2V155.5M594.5 139.1V155.4M595.5 131.6V158.2M596.5 138.5V156.5M597.5 139.8V153.8M598.5 137.6V154.2M599.5 139.1V152.7M600.5 139.9V155.0M601.5 139.7V153.2M602.5 140.0V153.1M603.5 139.1V152.1M604.5 135.3V152.6M605.5 140.0V153.1M606.5 139.0V153.4M607.5 139.0V152.2M608.5 139.7V152.7M609.5 139.5V153.2M610.5 137.3V153.6M611.5 140.1V153.2M612.5 137.1V154.4M613.5 138.9V152.6M614.5 140.4V154.6M615.5 138.1V153.8M616.5 138.5V152.2M617.5 138.3V152.9M618.5 138.9V153.4M619.5 134.6V152.2M620.5 138.1V153.1M621.5 138.1V153.8M622.5 137.3V153.5M623.5 139.7V153.1M624.5 138.3V152.5M625.5 139.0V152.8M626.5 139.0V152.7M627.5 139.7V154.6M628.5 139.4V154.1M629.5 135.7V153.2M630.5 138.5V153.3M631.5 137.8V154.0M632.5 138.2V154.6M633.5 137.3V156.9M634.5 139.8V152.6M635.5 139.4V152.2M636.5 136.6V154.6M637.5 138.9V152.5M638.5 140.1V154.2M639.5 140.0V152.6M640.5 137.5V152.8M641.5 140.1V153.6M642.5 139.5V153.6M643.5 140.3V151.4M644.5 138.6V152.2M645.5 138.9V154.3" stroke="#0000ff" stroke-opacity="0.3" stroke-width="1" fill="none"/>
<path d="M43.5 139.6V153.1M44.5 138.1V154.0M45.5 139.1V153.7M46.5 138.8V153.1M47.5 139.0V152.2M48.5 137.4V153.7M49.5 138.6V153.8M50.5 139.6V152.5M51.5 138.2V152.6M52.5 138.0V152.5M53.5 137.9V152.3M54.5 139.1V153.7M55.5 135.9V152.2M56.5 136.0V152.9M57.5 137.5V152.8M58.5 138.5V154.7M59.5 140.0V154.7M60.5 140.1V153.7M61.5 140.4V152.3M62.5 138.4V152.2M63.5 139.7V153.1M64.5 139.8V154.5M65.5 139.8V152.6M66.5 138.2V153.1M67.5 140.2V152.8M68.5 137.1V154.1M69.5 139.6V153.8M70.5 140.4V152.2M71.5 137.9V152.1M72.5 138.6V152.6M73.5 138.1V152.5M74.5 138.5V153.1M75.5 139.3V152.6M76.5 140.2V152.1M77.5 138.7V152.4M78.5 139.6V154.0M79.5 139.3V152.2M80.5 139.4V153.1M81.5 139.1V152.0M82.5 139.2V154.4M83.5 139.5V152.4M84.5 139.1V151.7M85.5 140.1V153.6M86.5 140.1V153.4M87.5 138.3V154.0M88.5 135.3V152.9M89.5 138.3V153.3M90.5 139.8V152.5M91.5 139.5V153.2M92.5 138.3V151.9M93.5 138.2V153.7M94.5 138.1V152.5M95.5 139.5V152.0M96.5 139.7V153.0M97.5 139.4V153.2M98.5 140.3V153.3M99.5 140.6V153.7M100.5 138.3V154.4M101.5 137.1V154.6M102.5 138.7V153.1M103.5 136.4V156.7M104.5 138.6V154.1M105.5 137.4V154.1M106.5 139.5V153.0M107.5 138.7V154.2M108.5 135.2V152.6M109.5 137.8V152.2M110.5 137.9V152.8M111.5 137.2V154.8M112.5 139.6V154.8M113.5 139.1V152.4M114.5 138.3V152.5M115.5 139.4V152.9M116.5 139.7V151.9M117.5 138.7V152.6M118.5 138.9V151.5M119.5 139.1V152.1M120.5 140.1V152.6M121.5 140.4V154.6M122.5 140.2V153.8M123.5 138.8V155.0M124.5 137.8V153.2M125.5 139.0V153.3M126.5 139.6V154.1M127.5 140.1V152.6M128.5 140.4V153.3M129.5 139.6V152.6M130.5 139.7V152.9M131.5 137.7V152.7M132.5 139.2V151.8M133.5 135.7V154.2M134.5 137.0V151.7M135.5 138.4V151.5M136.5 139.6V152.3M137.5 140.3V152.2M138.5 138.4V153.7M139.5 138.6V152.7M140.5 140.1V152.6M141.5 138.2V152.6M142.5 140.3V153.2M143.5 140.1V154.3M144.5 140.5V151.9M145.5 139.7V152.7M146.5 137.7V152.5M147.5 138.6V153.4M148.5 138.8V153.0M149.5 138.4V153.7M150.5 139.5V153.6M151.5 140.4V151.6M152.5 136.6V152.4M153.5 140.5V152.9M154.5 138.9V154.4M155.5 140.0V153.8M156.5 137.8V154.3M157.5 137.7V153.2M158.5 137.0V154.4M159.5 135.7V153.3M160.5 139.1V154.0M161.5 135.5V155.7M162.5 139.1V155.9M163.5 138.7V153.8M164.5 140.6V154.2M165.5 138.9V154.9M166.5 139.2V152.8M167.5 140.4V153.1M168.5 140.3V152.1M169.5 140.2V151.7M170.5 139.5V152.3M171.5 137.5V153.6M172.5 140.6V153.6M173.5 139.0V152.2M174.5 140.0V152.4M175.5 139.4V153.5M176.5 139.3V152.9M177.5 140.0V152.8M178.5 139.3V153.7M179.5 140.4V152.2M180.5 137.9V152.6M181.5 138.4V152.2M182.5 139.1V152.1M183.5 139.6V152.8M184.5 139.6V152.5M185.5 138.1V153.0M186.5 138.8V152.7M187.5 140.0V153.6M188.5 137.0V154.1M189.5 139.5V152.2M190.5 139.8V152.2M191.5 138.9V151.8M192.5 139.3V152.4M193.5 138.6V152.5M194.5 139.8V152.8M195.5 139.5V152.0M196.5 136.7V153.3M197.5 139.6V153.5M198.5 139.6V153.1M199.5 139.4V152.9M200.5 137.5V153.8M201.5 139.3V153.9M202.5 139.5V154.3M203.5 139.1V152.7M204.5 137.3V153.6M205.5 138.5V153.0M206.5 137.7V154.0M207.5 139.6V153.1M208.5 136.3V153.3M209.5 137.4V153.4M210.5 137.6V155.2M211.5 136.1V164.5M212.5 138.9V153.6M213.5 139.1V158.5M214.5 139.0V153.8M215.5 136.7V155.8M216.5 134.2V153.4M217.5 138.1V153.2M218.5 138.0V152.4M219.5 137.9V152.5M220.5 138.3V153.9M221.5 138.1V154.4M222.5 139.0V155.6M223.5 136.4V156.8M224.5 138.5V153.4M225.5 137.4V156.6M226.5 136.2V154.4M227.5 138.8V154.2M228.5 131.0V154.9M229.5 137.0V156.4M230.5 134.8V158.3M231.5 137.4V155.3M232.5 131.8V157.8M233.5 135.0V158.5M234.5 131.8V162.9M235.5 132.4V155.5M236.5 136.2V156.3M237.5 131.0V163.5M238.5 135.3V161.5M239.5 137.2V158.2M240.5 131.2V157.5M241.5 131.9V168.0M242.5 133.7V157.1M243.5 123.1V158.0M244.5 134.2V155.5M245.5 133.9V162.7M246.5 135.0V162.2M247.5 138.8V156.8M248.5 136.6V156.5M249.5 139.9V155.7M250.5 128.5V161.0M251.5 137.3V162.5M252.5 130.2V156.9M253.5 136.9V162.2M254.5 135.9V159.4M255.5 131.9V160.1M256.5 137.5V165.9M257.5 137.9V157.4M258.5 137.5V156.1M259.5 130.9V157.1M260.5 135.5V164.9M261.5 137.2V155.1M262.5 137.4V153.1M263.5 138.5V155.3M264.5 138.8V154.7M265.5 138.3V154.8M266.5 136.0V153.7M267.5 137.1V154.7M268.5 139.0V156.5M269.5 139.4V155.6M270.5 138.6V154.0M271.5 137.5V155.9M272.5 136.2V156.5M273.5 138.3V155.9M274.5 135.3V154.9M275.5 135.9V156.3M276.5 134.9V153.4M277.5 137.1V153.5M278.5 137.9V152.9M279.5 136.5V153.0M280.5 134.3V153.9M281.5 133.5V153.8M282.5 134.7V155.9M283.5 137.2V154.4M284.5 137.3V154.6M285.5 136.8V153.9M286.5 138.2V154.6M287.5 132.9V155.3M288.5 138.2V153.8M289.5 136.3V153.8M290.5 138.0V153.7M291.5 138.1V155.6M292.5 136.4V154.0M293.5 136.4V154.1M294.5 137.5V153.3M295.5 139.8V152.8M296.5 139.0V154.9M297.5 139.2V153.5M298.5 138.4V152.7M299.5 138.5V153.1M300.5 138.3V153.7M301.5 139.3V153.2M302.5 137.1V152.6M303.5 138.4V153.0M304.5 139.3V153.1M305.5 138.7V152.8M306.5 139.5V153.1M307.5 138.8V151.8M308.5 140.1V152.6M309.5 139.0V151.9M310.5 140.1V152.4M311.5 138.4V153.1M312.5 138.5V151.6M313.5 140.3V151.6M314.5 138.4V151.5M315.5 140.5V152.3M316.5 140.7V152.2M317.5 139.3V154.9M318.5 140.0V151.9M319.5 139.1V152.0M320.5 138.1V151.9M321.5 138.9V154.7M322.5 139.4V151.1M323.5 139.8V152.0M324.5 136.7V153.3M325.5 140.1V152.1M326.5 139.0V153.4M327.5 138.3V152.5M328.5 139.0V152.5M329.5 133.4V153.5M330.5 137.5V152.7M331.5 137.7V156.5M332.5 136.9V154.1M333.5 133.7V156.3M334.5 137.3V160.0M335.5 138.5V155.6M336.5 136.4V153.8M337.5 136.1V155.9M338.5 137.0V155.2M339.5 133.5V156.4M340.5 137.2V154.8M341.5 137.8V152.7M342.5 139.1V152.5M343.5 138.5V152.0M344.5 138.7V152.2M345.5 137.8V152.1M346.5 139.0V152.8M347.5 137.3V154.5M348.5 138.4V152.4M349.5 138.9V154.6M350.5 139.4V152.3M351.5 138.8V152.4M352.5 139.0V154.4M353.5 140.0V152.5M354.5 138.2V152.7M355.5 138.1V151.8M356.5 138.8V154.1M357.5 139.3V154.3M358.5 136.8V153.5M359.5 139.9V153.4M360.5 138.7V152.5M361.5 138.5V152.1M362.5 137.4V152.5M363.5 139.8V152.0M364.5 139.0V151.9M365.5 140.4V152.5M366.5 138.9V152.7M367.5 139.9V152.1M368.5 139.1V154.3M369.5 138.8V153.8M370.5 140.4V152.9M371.5 139.2V152.1M372.5 140.1V152.6M373.5 139.1V154.5M374.5 139.3V152.7M375.5 139.6V152.2M376.5 138.5V151.5M377.5 139.6V152.3M378.5 138.4V152.7M379.5 140.0V151.3M380.5 139.3V151.3M381.5 140.0V151.6M382.5 138.9V152.8M383.5 139.3V152.6M384.5 138.2V153.7M385.5 138.0V152.7M386.5 137.9V152.0M387.5 136.1V151.7M388.5 138.1V152.6M389.5 138.7V153.8M390.5 139.7V153.8M391.5 137.6V152.8M392.5 137.7V153.8M393.5 137.7V152.6M394.5 139.0V155.1M395.5 138.8V152.7M396.5 134.8V157.1M397.5 138.5V155.7M398.5 138.0V153.0M399.5 138.2V154.7M400.5 138.8V153.1M401.5 139.8V154.3M402.5 137.3V155.8M403.5 137.0V152.8M404.5 139.0V154.1M405.5 140.2V152.5M406.5 140.1V152.3M407.5 138.1V154.5M408.5 139.7V153.3M409.5 138.7V154.8M410.5 138.8V151.5M411.5 138.1V151.9M412.5 138.9V152.1M413.5 139.8V154.6M414.5 137.5V152.5M415.5 139.6V154.4M416.5 139.6V154.8M417.5 136.4V153.7M418.5 139.5V152.7M419.5 139.2V155.1M420.5 139.6V152.4M421.5 138.9V152.1M422.5 138.8V153.4M423.5 138.5V152.6M424.5 139.4V152.7M425.5 139.3V152.7M426.5 140.2V152.2M427.5 140.6V154.0M428.5 139.2V154.4M429.5 139.7V152.2M430.5 137.5V152.6M431.5 140.1V152.1M432.5 140.2V153.4M433.5 140.5V152.9M434.5 140.4V151.7M435.5 138.9V152.1M436.5 139.6V151.9M437.5 140.2V153.5M438.5 139.7V152.4M439.5 138.6V152.3M440.5 138.9V152.7M441.5 139.9V153.7M442.5 138.8V152.5M443.5 140.0V153.7M444.5 138.5V154.1M445.5 138.7V153.3M446.5 138.0V152.5M447.5 140.0V154.0M448.5 138.7V152.1M449.5 138.7V152.8M450.5 139.7V152.5M451.5 138.6V151.6M452.5 140.5V152.6M453.5 138.8V152.9M454.5 139.1V152.9M455.5 139.1V153.0M456.5 139.6V153.7M457.5 140.0V152.3M458.5 140.4V152.2M459.5 140.4V152.1M460.5 139.3V153.1M461.5 140.2V152.5M462.5 138.2V151.7M463.5 140.4V153.4M464.5 139.1V153.3M465.5 140.7V151.8M466.5 140.6V153.9M467.5 137.8V151.7M468.5 140.3V152.1M469.5 138.7V152.9M470.5 139.5V152.2M471.5 140.0V155.1M472.5 137.1V151.9M473.5 140.1V153.0M474.5 139.2V153.2M475.5 139.3V152.1M476.5 140.3V152.1M477.5 139.3V156.2M478.5 136.9V153.3M479.5 138.7V153.1M480.5 138.8V153.2M481.5 139.3V153.5M482.5 137.8V154.9M483.5 139.5V152.0M484.5 139.3V153.4M485.5 136.0V152.9M486.5 139.7V152.3M487.5 139.7V153.6M488.5 139.5V152.7M489.5 137.6V154.5M490.5 137.6V152.9M491.5 140.1V152.6M492.5 138.9V153.6M493.5 138.2V153.1M494.5 139.8V153.2M495.5 139.5V154.8M496.5 140.2V153.9M497.5 140.4V154.5M498.5 140.3V154.0M499.5 140.7V152.0M500.5 139.2V152.4M501.5 140.6V152.4M502.5 140.1V153.1M503.5 139.6V151.7M504.5 139.7V151.4M505.5 139.3V152.6M506.5 140.2V152.8M507.5 140.9V153.8M508.5 139.8V153.5M509.5 140.3V153.4M510.5 139.6V152.2M511.5 137.6V152.5M512.5 138.6V152.4M513.5 139.6V152.2M514.5 139.8V153.4M515.5 136.3V153.8M516.5 139.3V151.8M517.5 140.1V151.4M518.5 140.1V152.7M519.5 140.2V151.5M520.5 138.6V151.7M521.5 140.6V152.4M522.5 137.5V152.3M523.5 139.1V153.8M524.5 139.3V152.0M525.5 138.8V152.6M526.5 137.7V152.1M527.5 140.1V153.1M528.5 140.7V153.5M529.5 139.3V154.2M530.5 138.7V152.7M531.5 138.8V153.1M532.5 140.0V155.5M533.5 138.5V153.4M534.5 140.6V153.5M535.5 140.7V153.0M536.5 140.4V152.8M537.5 139.9V153.8M538.5 140.4V155.5M539.5 139.7V152.3M540.5 139.8V152.8M541.5 138.1V152.6M542.5 137.6V154.5M543.5 140.4V152.6M544.5 140.1V153.9M545.5 140.0V153.7M546.5 139.2V154.2M547.5 140.4V154.0M548.5 139.0V153.6M549.5 139.4V151.9M550.5 140.2V151.6M551.5 140.1V151.7M552.5 139.8V152.7M553.5 140.0V154.2M554.5 138.0V152.9M555.5 139.5V152.6M556.5 139.7V152.6M557.5 139.7V153.6M558.5 138.4V152.6M559.5 138.1V153.0M560.5 138.3V153.8M561.5 138.6V152.9M562.5 137.1V155.7M563.5 137.3V152.9M564.5 138.8V152.1M565.5 137.8V153.5M566.5 138.4V153.9M567.5 138.4V153.4M568.5 136.5V155.2M569.5 139.9V153.4M570.5 137.6V154.9M571.5 137.9V154.3M572.5 138.8V153.7M573.5 139.4V153.0M574.5 140.6V153.8M575.5 139.6V157.9M576.5 139.0V154.0M577.5 139.5V154.0M578.5 139.7V154.1M579.5 138.1V153.3M580.5 136.2V153.8M581.5 137.9V153.0M582.5 137.4V154.2M583.5 139.9V153.8M584.5 139.1V153.1M585.5 139.6V154.5M586.5 136.8V155.3M587.5 137.2V154.9M588.5 138.6V152.8M589.5 139.5V151.6M590.5 137.3V153.4M591.5 139.4V153.9M592.5 139.4V152.9M593.5 134.2V153.8M594.5 139.1V155.4M595.5 135.5V157.0M596.5 138.5V155.0M597.5 139.8V152.9M598.5 138.1V154.2M599.5 139.1V152.7M600.5 139.9V155.0M601.5 139.7V153.2M602.5 140.0V153.1M603.5 139.1V152.1M604.5 139.5V152.6M605.5 140.0V153.1M606.5 140.2V153.1M607.5 139.0V152.2M608.5 139.7V152.7M609.5 139.5V153.2M610.5 137.7V152.6M611.5 140.1V153.2M612.5 139.3V154.4M613.5 139.9V152.6M614.5 140.4V154.6M615.5 139.1V153.2M616.5 138.5V152.2M617.5 138.3V152.9M618.5 139.2V153.4M619.5 136.9V152.2M620.5 138.1V153.1M621.5 138.4V153.8M622.5 137.4V153.5M623.5 139.7V153.1M624.5 138.3V152.5M625.5 139.0V152.8M626.5 139.4V152.7M627.5 139.7V154.2M628.5 139.4V154.1M629.5 137.8V153.2M630.5 138.5V153.3M631.5 137.8V154.0M632.5 138.2V154.6M633.5 138.1V153.9M634.5 139.9V152.6M635.5 139.4V152.2M636.5 136.6V153.3M637.5 138.9V152.5M638.5 140.1V154.2M639.5 140.0V152.6M640.5 137.5V152.8M641.5 140.5V153.6M642.5 139.5V152.1M643.5 140.3V151.4M644.5 138.6V152.2M645.5 138.9V153.4" stroke="#0000ff" stroke-opacity="0.55" stroke-width="1" fill="none"/>
<path d="M43.5 140.3V152.2M44.5 140.3V152.6M45.5 140.3V152.7M46.5 140.2V152.5M47.5 140.1V152.2M48.5 139.9V152.1M49.5 139.8V152.0M50.5 140.1V151.9M51.5 140.4V151.8M52.5 140.3V151.7M53.5 140.2V151.7M54.5 140.1V151.6M55.5 140.1V151.5M56.5 139.9V151.7M57.5 139.9V152.0M58.5 140.0V152.2M59.5 140.3V152.0M60.5 140.4V152.0M61.5 140.5V151.9M62.5 140.7V151.8M63.5 140.7V151.7M64.5 140.5V151.9M65.5 140.2V152.0M66.5 140.0V152.1M67.5 140.3V152.1M68.5 140.6V152.0M69.5 140.7V151.8M70.5 140.8V151.8M71.5 140.8V151.8M72.5 140.5V151.6M73.5 140.1V151.4M74.5 139.9V151.5M75.5 140.1V151.8M76.5 140.3V152.1M77.5 140.3V152.2M78.5 140.1V152.0M79.5 140.1V151.8M80.5 140.2V151.8M81.5 140.3V151.7M82.5 140.3V151.7M83.5 140.4V151.5M84.5 140.5V151.3M85.5 140.5V151.1M86.5 140.3V151.2M87.5 140.0V151.4M88.5 139.7V151.8M89.5 139.7V152.1M90.5 139.8V152.4M91.5 139.8V152.2M92.5 139.8V151.8M93.5 139.8V151.4M94.5 139.9V151.4M95.5 140.2V151.5M96.5 140.4V151.6M97.5 140.7V151.7M98.5 141.0V151.6M99.5 141.0V151.7M100.5 140.6V152.0M101.5 140.1V152.2M102.5 139.6V152.3M103.5 139.7V152.4M104.5 140.0V152.4M105.5 140.1V152.5M106.5 140.0V152.5M107.5 139.9V152.4M108.5 140.0V152.2M109.5 139.9V151.9M110.5 139.9V151.7M111.5 140.1V151.7M112.5 140.3V151.8M113.5 140.4V151.8M114.5 140.4V152.0M115.5 140.4V152.0M116.5 140.4V151.7M117.5 140.2V151.3M118.5 140.0V151.3M119.5 140.1V151.5M120.5 140.4V151.6M121.5 140.6V151.6M122.5 140.9V151.7M123.5 141.1V151.7M124.5 140.9V151.8M125.5 140.8V151.8M126.5 140.8V152.1M127.5 140.7V152.4M128.5 140.6V152.2M129.5 140.4V151.8M130.5 140.3V151.6M131.5 140.3V151.6M132.5 140.4V151.6M133.5 140.2V151.5M134.5 139.9V151.5M135.5 139.9V151.4M136.5 140.2V151.3M137.5 140.4V151.2M138.5 140.5V151.0M139.5 140.4V151.0M140.5 140.3V151.2M141.5 140.4V151.5M142.5 140.6V151.5M143.5 140.8V151.4M144.5 140.7V151.4M145.5 140.4V151.7M146.5 140.1V151.9M147.5 140.0V151.9M148.5 140.1V151.7M149.5 140.4V151.7M150.5 140.6V151.6M151.5 140.6V151.5M152.5 140.5V151.5M153.5 140.5V151.8M154.5 140.6V152.1M155.5 140.7V152.3M156.5 140.5V152.3M157.5 140.0V152.5M158.5 139.5V152.7M159.5 139.6V153.0M160.5 139.4V153.5M161.5 139.4V153.4M162.5 139.8V152.8M163.5 140.4V152.2M164.5 140.7V152.0M165.5 140.8V152.0M166.5 140.6V151.8M167.5 140.4V151.5M168.5 140.3V151.4M169.5 140.4V151.6M170.5 140.4V151.9M171.5 140.5V152.1M172.5 140.6V152.2M173.5 140.7V152.1M174.5 140.7V152.0M175.5 140.5V152.0M176.5 140.3V152.4M177.5 140.2V152.5M178.5 140.3V152.3M179.5 140.4V152.2M180.5 140.5V152.2M181.5 140.4V152.0M182.5 140.3V151.8M183.5 140.3V151.9M184.5 140.2V152.0M185.5 140.0V151.9M186.5 139.8V151.8M187.5 140.0V151.8M188.5 140.3V151.8M189.5 140.5V151.7M190.5 140.4V151.6M191.5 140.0V151.6M192.5 139.9V151.7M193.5 140.0V151.7M194.5 139.9V151.7M195.5 139.8V151.7M196.5 139.8V151.7M197.5 139.9V151.6M198.5 140.0V151.7M199.5 140.1V152.1M200.5 140.1V152.6M201.5 139.9V152.8M202.5 139.6V152.6M203.5 139.3V152.4M204.5 139.3V152.3M205.5 139.7V152.4M206.5 140.2V152.6M207.5 140.1V152.7M208.5 139.8V152.9M209.5 139.4V153.3M210.5 139.2V153.6M211.5 139.6V153.6M212.5 140.2V153.3M213.5 140.0V153.1M214.5 139.6V153.1M215.5 139.5V153.0M216.5 139.7V152.7M217.5 140.1V152.3M218.5 140.4V152.0M219.5 140.4V152.2M220.5 140.4V152.7M221.5 140.3V153.0M222.5 139.8V153.2M223.5 139.2V153.4M224.5 138.9V153.4M225.5 139.0V153.3M226.5 139.3V153.5M227.5 139.4V153.9M228.5 139.2V154.1M229.5 138.7V154.2M230.5 138.3V154.2M231.5 137.8V154.1M232.5 137.0V154.3M233.5 136.5V154.4M234.5 136.8V154.0M235.5 137.2V154.0M236.5 137.4V154.7M237.5 137.8V155.4M238.5 138.3V155.4M239.5 138.4V155.2M240.5 137.7V155.1M241.5 137.2V155.0M242.5 137.1V154.8M243.5 137.0V154.7M244.5 136.9V154.4M245.5 137.3V154.3M246.5 138.6V154.3M247.5 139.8V154.4M248.5 140.6V154.3M249.5 141.0V154.3M250.5 140.2V154.7M251.5 138.5V155.1M252.5 137.8V155.3M253.5 138.3V155.4M254.5 138.7V155.4M255.5 138.4V155.3M256.5 138.0V154.7M257.5 138.1V154.2M258.5 138.4V154.0M259.5 138.5V154.2M260.5 138.4V154.1M261.5 138.4V153.3M262.5 138.7V152.6M263.5 139.2V152.7M264.5 139.4V153.2M265.5 139.4V153.3M266.5 139.4V153.2M267.5 139.5V153.1M268.5 139.7V153.1M269.5 139.7V153.0M270.5 139.6V152.8M271.5 139.0V152.5M272.5 138.5V152.4M273.5 138.4V152.6M274.5 138.7V152.9M275.5 139.1V153.0M276.5 139.6V152.9M277.5 139.8V152.8M278.5 139.4V152.7M279.5 139.1V152.4M280.5 139.3V152.3M281.5 139.3V152.6M282.5 139.0V153.2M283.5 138.6V153.6M284.5 138.3V153.7M285.5 138.4V153.6M286.5 138.5V153.4M287.5 138.9V153.2M288.5 139.5V153.1M289.5 139.9V153.1M290.5 139.5V152.8M291.5 139.0V152.5M292.5 138.9V152.3M293.5 139.1V152.1M294.5 139.5V152.1M295.5 139.8V152.1M296.5 140.0V152.1M297.5 140.1V152.0M298.5 140.0V151.9M299.5 139.8V151.9M300.5 139.7V152.0M301.5 140.0V152.1M302.5 140.3V152.3M303.5 140.3V152.5M304.5 140.1V152.5M305.5 139.9V152.4M306.5 140.0V152.1M307.5 140.4V151.8M308.5 140.6V151.8M309.5 140.5V151.8M310.5 140.3V151.8M311.5 140.3V151.6M312.5 140.4V151.3M313.5 140.5V151.2M314.5 140.5V151.1M315.5 140.7V151.3M316.5 140.8V151.4M317.5 140.7V151.5M318.5 140.5V151.5M319.5 140.3V151.5M320.5 140.1V151.4M321.5 139.9V151.1M322.5 140.0V150.9M323.5 140.2V150.9M324.5 140.3V151.2M325.5 140.2V151.7M326.5 140.2V152.1M327.5 139.8V152.1M328.5 139.2V152.1M329.5 139.0V152.3M330.5 139.3V152.6M331.5 139.5V152.9M332.5 139.6V153.4M333.5 139.6V153.9M334.5 139.6V154.0M335.5 139.2V153.5M336.5 138.9V153.0M337.5 138.7V152.8M338.5 138.5V152.8M339.5 138.7V152.8M340.5 139.0V152.7M341.5 139.2V152.5M342.5 139.6V152.1M343.5 140.2V151.8M344.5 140.6V151.8M345.5 140.5V151.8M346.5 140.0V151.6M347.5 139.9V151.5M348.5 140.2V151.5M349.5 140.6V151.7M350.5 140.7V152.2M351.5 140.5V152.4M352.5 140.3V152.0M353.5 140.3V151.6M354.5 140.2V151.5M355.5 140.3V151.7M356.5 140.3V151.7M357.5 140.3V151.7M358.5 140.2V151.8M359.5 140.0V152.0M360.5 139.7V151.8M361.5 139.7V151.5M362.5 140.1V151.2M363.5 140.5V151.0M364.5 140.8V151.1M365.5 141.0V151.3M366.5 141.0V151.6M367.5 140.6V152.0M368.5 140.2V152.3M369.5 140.3V152.4M370.5 140.7V152.1M371.5 140.8V152.0M372.5 140.6V152.0M373.5 140.2V151.9M374.5 139.7V151.6M375.5 139.8V151.4M376.5 140.2V151.4M377.5 140.7V151.5M378.5 140.7V151.4M379.5 140.6V151.2M380.5 140.6V151.3M381.5 140.6V151.6M382.5 140.5V151.8M383.5 140.1V151.9M384.5 139.7V152.0M385.5 139.6V152.0M386.5 139.7V151.8M387.5 139.9V151.6M388.5 140.0V151.7M389.5 140.1V152.0M390.5 140.3V152.1M391.5 140.5V152.1M392.5 140.5V152.1M393.5 140.2V152.3M394.5 139.7V152.6M395.5 139.6V152.7M396.5 139.6V153.0M397.5 140.0V153.2M398.5 140.3V152.8M399.5 140.3V152.6M400.5 140.0V152.7M401.5 139.9V152.8M402.5 139.9V152.5M403.5 140.0V152.1M404.5 140.4V151.8M405.5 140.6V151.7M406.5 140.4V151.7M407.5 140.3V151.8M408.5 140.4V151.8M409.5 140.3V151.6M410.5 139.9V151.4M411.5 139.8V151.4M412.5 140.0V151.5M413.5 140.3V151.6M414.5 140.4V151.9M415.5 140.0V152.1M416.5 139.7V152.1M417.5 139.8V152.0M418.5 140.0V151.9M419.5 140.4V151.8M420.5 140.7V151.8M421.5 140.7V151.8M422.5 140.5V151.8M423.5 140.3V151.9M424.5 140.2V151.9M425.5 140.2V151.7M426.5 140.4V151.5M427.5 140.6V151.5M428.5 140.7V151.6M429.5 140.6V151.7M430.5 140.6V151.7M431.5 140.7V151.6M432.5 140.8V151.2M433.5 140.9V151.0M434.5 140.9V151.0M435.5 140.7V151.3M436.5 140.5V151.8M437.5 140.5V151.9M438.5 140.7V151.8M439.5 140.7V151.6M440.5 140.6V151.9M441.5 140.5V152.1M442.5 140.2V152.2M443.5 140.1V152.3M444.5 140.1V152.6M445.5 140.3V152.7M446.5 140.4V152.4M447.5 140.4V152.2M448.5 140.4V152.0M449.5 140.2V151.8M450.5 140.2V151.5M451.5 140.3V151.5M452.5 140.5V151.5M453.5 140.5V151.6M454.5 140.4V151.9M455.5 140.2V152.2M456.5 140.3V152.1M457.5 140.6V151.9M458.5 140.7V151.8M459.5 140.8V151.9M460.5 140.8V152.0M461.5 140.9V151.9M462.5 140.8V151.5M463.5 140.5V151.2M464.5 140.6V151.2M465.5 140.9V151.5M466.5 141.0V151.7M467.5 140.9V151.6M468.5 140.7V151.5M469.5 140.6V151.7M470.5 140.6V151.8M471.5 140.5V151.7M472.5 140.4V151.5M473.5 140.4V151.3M474.5 140.6V151.3M475.5 140.9V151.5M476.5 140.8V151.6M477.5 140.4V151.6M478.5 140.0V151.7M479.5 139.9V151.8M480.5 139.9V151.8M481.5 139.9V151.9M482.5 139.7V152.0M483.5 139.5V151.9M484.5 139.8V151.7M485.5 140.5V151.6M486.5 140.8V151.7M487.5 140.7V151.8M488.5 140.3V152.0M489.5 140.0V152.3M490.5 140.2V152.3M491.5 140.6V152.3M492.5 140.6V152.3M493.5 140.5V152.5M494.5 140.6V152.6M495.5 140.7V152.5M496.5 140.6V152.3M497.5 140.4V152.0M498.5 140.5V151.8M499.5 140.7V151.7M500.5 140.9V151.6M501.5 140.8V151.5M502.5 140.4V151.4M503.5 140.0V151.3M504.5 140.2V151.2M505.5 140.7V151.5M506.5 141.0V151.9M507.5 141.0V152.1M508.5 140.7V152.0M509.5 140.5V151.8M510.5 140.5V151.7M511.5 140.6V151.7M512.5 140.6V151.8M513.5 140.3V152.0M514.5 139.9V152.2M515.5 139.6V152.1M516.5 139.8V151.6M517.5 140.2V151.2M518.5 140.5V151.1M519.5 140.6V151.2M520.5 140.7V151.6M521.5 140.7V151.8M522.5 140.6V151.7M523.5 140.5V151.8M524.5 140.3V152.0M525.5 140.3V152.0M526.5 140.4V151.7M527.5 140.6V151.6M528.5 140.7V151.8M529.5 140.7V152.1M530.5 140.6V152.3M531.5 140.5V152.5M532.5 140.5V152.6M533.5 140.6V152.5M534.5 140.8V152.2M535.5 140.8V151.8M536.5 140.9V151.6M537.5 140.9V151.7M538.5 140.9V151.8M539.5 140.8V151.9M540.5 140.6V151.8M541.5 140.4V151.8M542.5 140.5V151.9M543.5 140.6V152.2M544.5 140.7V152.2M545.5 140.7V152.2M546.5 140.6V152.2M547.5 140.6V152.0M548.5 140.6V151.5M549.5 140.5V151.2M550.5 140.4V151.3M551.5 140.3V151.4M552.5 140.3V151.7M553.5 140.4V152.0M554.5 140.5V152.0M555.5 140.4V151.9M556.5 140.2V152.0M557.5 140.0V152.0M558.5 140.0V151.8M559.5 140.1V151.8M560.5 140.2V152.0M561.5 140.0V152.0M562.5 139.8V152.1M563.5 139.9V152.0M564.5 140.1V151.9M565.5 140.0V152.0M566.5 139.6V152.2M567.5 139.3V152.3M568.5 139.5V152.3M569.5 139.9V152.5M570.5 140.1V152.8M571.5 140.2V152.9M572.5 140.5V152.7M573.5 140.7V152.5M574.5 140.8V152.4M575.5 140.8V152.4M576.5 140.6V152.6M577.5 140.1V152.7M578.5 139.8V152.5M579.5 139.6V152.2M580.5 139.3V152.0M581.5 139.1V152.1M582.5 139.4V152.4M583.5 140.0V152.7M584.5 140.4V152.8M585.5 140.5V152.8M586.5 140.2V152.8M587.5 139.8V152.5M588.5 139.6V152.0M589.5 139.6V151.5M590.5 139.8V151.6M591.5 139.8V152.0M592.5 139.7V152.3M593.5 139.4V152.5M594.5 139.3V152.8M595.5 139.4V152.9M596.5 139.7V152.9M597.5 140.0V152.6M598.5 140.4V152.2M599.5 140.6V152.1M600.5 140.5V152.0M601.5 140.2V152.0M602.5 140.3V152.0M603.5 140.5V152.0M604.5 140.8V151.9M605.5 140.8V151.7M606.5 140.9V151.6M607.5 141.1V151.8M608.5 140.9V151.9M609.5 140.5V152.0M610.5 140.2V151.9M611.5 140.2V151.8M612.5 140.4V151.7M613.5 140.5V151.8M614.5 140.8V151.8M615.5 140.8V151.7M616.5 140.4V151.3M617.5 139.9V151.2M618.5 139.6V151.6M619.5 139.5V152.0M620.5 139.7V152.2M621.5 139.9V152.0M622.5 140.0V151.8M623.5 140.2V152.0M624.5 140.2V152.3M625.5 139.9V152.2M626.5 139.7V151.9M627.5 139.7V151.6M628.5 140.0V151.9M629.5 140.1V152.4M630.5 139.9V152.7M631.5 139.8V152.5M632.5 139.9V152.3M633.5 140.1V152.0M634.5 140.4V151.8M635.5 140.4V151.7M636.5 140.2V151.7M637.5 140.1V151.8M638.5 140.4V152.0M639.5 140.7V152.1M640.5 140.7V152.0M641.5 140.7V151.7M642.5 140.7V151.4M643.5 140.4V151.4M644.5 140.1V151.4M645.5 140.0V151.2" stroke="#0000ff" stroke-width="1" fill="none"/>
<path d="M157.5 108.0V231.0M159.5 72.8V221.8M161.5 111.5V163.0M176.5 140.0V162.0M213.5 100.0V193.5M226.5 115.8V177.6M239.5 120.8V174.0M244.5 119.6V178.0M253.5 89.3V227.0M266.5 124.6V150.0M276.5 122.0V171.0M280.5 120.8V177.7M283.5 113.3V174.0M287.5 140.0V175.0M305.5 140.0V165.0M332.5 127.0V165.6M342.5 128.0V150.0M428.5 105.2V199.2M443.5 120.9V172.2M450.5 132.0V150.0M482.5 113.3V216.4M490.5 128.5V163.3M521.5 114.5V163.3M570.5 125.4V164.3M593.5 134.0V164.6M617.5 129.0V150.0M640.5 126.7V222.5M641.5 140.0V214.0" stroke="#0000ff" stroke-opacity="0.4" stroke-width="1" fill="none"/>
<path d="M157.5 124.0V188.0M253.5 113.0V206.0M213.5 120.0V180.0M482.5 130.0V180.0M640.5 150.0V200.0" stroke="#0000ff" stroke-opacity="0.45" stroke-width="1" fill="none"/>
<text x="39.20" y="50.20" text-anchor="end" font-weight="normal" font-size="12.3" >1.5</text>
<text x="39.20" y="84.20" text-anchor="end" font-weight="normal" font-size="12.3" >1</text>
<text x="39.20" y="118.20" text-anchor="end" font-weight="normal" font-size="12.3" >0.5</text>
<text x="39.20" y="152.20" text-anchor="end" font-weight="normal" font-size="12.3" >0</text>
<text x="39.20" y="186.20" text-anchor="end" font-weight="normal" font-size="12.3" >-0.5</text>
<text x="39.20" y="220.20" text-anchor="end" font-weight="normal" font-size="12.3" >-1</text>
<text x="39.20" y="254.20" text-anchor="end" font-weight="normal" font-size="12.3" >-1.5</text>
<text x="43.50" y="265.10" text-anchor="middle" font-weight="normal" font-size="12.3" >00:00</text>
<text x="118.75" y="265.10" text-anchor="middle" font-weight="normal" font-size="12.3" >03:00</text>
<text x="194.00" y="265.10" text-anchor="middle" font-weight="normal" font-size="12.3" >06:00</text>
<text x="269.25" y="265.10" text-anchor="middle" font-weight="normal" font-size="12.3" >09:00</text>
<text x="344.50" y="265.10" text-anchor="middle" font-weight="normal" font-size="12.3" >12:00</text>
<text x="419.75" y="265.10" text-anchor="middle" font-weight="normal" font-size="12.3" >15:00</text>
<text x="495.00" y="265.10" text-anchor="middle" font-weight="normal" font-size="12.3" >18:00</text>
<text x="570.25" y="265.10" text-anchor="middle" font-weight="normal" font-size="12.3" >21:00</text>
<text x="645.50" y="265.10" text-anchor="middle" font-weight="normal" font-size="12.3" >00:00</text>
<text transform="translate(9.3 148.00) rotate(-90)" text-anchor="middle" font-weight="bold" font-size="12.3">X (nT)</text>
<path d="M43.3 330.3H645.8V534.4H43.3Z" fill="none" stroke="#b4b4b4" stroke-width="1"/>
<path d="M43.30 330.3v6M43.30 534.4v-6M118.61 330.3v6M118.61 534.4v-6M193.93 330.3v6M193.93 534.4v-6M269.24 330.3v6M269.24 534.4v-6M344.55 330.3v6M344.55 534.4v-6M419.86 330.3v6M419.86 534.4v-6M495.18 330.3v6M495.18 534.4v-6M570.49 330.3v6M570.49 534.4v-6M645.80 330.3v6M645.80 534.4v-6M43.3 330.30h6M645.8 330.30h-6M43.3 381.32h6M645.8 381.32h-6M43.3 432.35h6M645.8 432.35h-6M43.3 483.38h6M645.8 483.38h-6M43.3 534.40h6M645.8 534.40h-6" stroke="#b4b4b4" stroke-width="1" fill="none"/>
<path d="M43.5 424.3V435.8M44.5 423.9V435.5M45.5 424.1V434.7M46.5 424.8V434.8M47.5 423.5V434.9M48.5 419.6V435.1M49.5 423.5V436.0M50.5 423.9V436.0M51.5 423.5V435.8M52.5 424.6V436.2M53.5 423.3V436.2M54.5 423.4V439.5M55.5 422.4V436.2M56.5 422.3V436.0M57.5 423.3V435.5M58.5 420.4V437.0M59.5 423.7V435.7M60.5 423.8V437.1M61.5 424.2V435.6M62.5 424.1V435.1M63.5 423.0V436.0M64.5 423.0V435.1M65.5 421.4V435.9M66.5 423.9V435.6M67.5 424.7V435.7M68.5 424.2V435.0M69.5 424.8V434.9M70.5 424.2V436.1M71.5 424.2V435.4M72.5 423.1V434.8M73.5 420.7V435.1M74.5 423.1V435.4M75.5 422.3V437.3M76.5 422.2V435.4M77.5 421.8V435.6M78.5 418.5V437.0M79.5 420.5V436.2M80.5 424.6V437.1M81.5 423.1V437.5M82.5 424.5V437.0M83.5 421.5V437.9M84.5 421.2V436.6M85.5 422.3V435.8M86.5 423.9V435.5M87.5 423.2V437.2M88.5 424.1V435.9M89.5 422.9V435.5M90.5 423.9V435.2M91.5 424.1V436.8M92.5 423.4V435.9M93.5 422.9V435.4M94.5 424.4V435.9M95.5 421.1V436.4M96.5 424.8V436.6M97.5 424.7V435.4M98.5 423.7V437.3M99.5 424.8V434.8M100.5 423.7V435.2M101.5 423.8V436.2M102.5 423.2V434.5M103.5 424.7V437.5M104.5 422.6V434.7M105.5 423.8V434.8M106.5 423.6V435.5M107.5 424.3V435.7M108.5 421.5V435.5M109.5 423.7V436.0M110.5 423.1V438.4M111.5 422.6V438.3M112.5 422.8V435.2M113.5 424.2V439.2M114.5 424.1V436.7M115.5 420.0V435.3M116.5 424.2V435.2M117.5 423.8V435.0M118.5 424.4V434.6M119.5 423.5V434.4M120.5 424.1V435.8M121.5 424.1V434.8M122.5 424.0V435.4M123.5 423.9V434.8M124.5 422.4V435.3M125.5 422.4V435.1M126.5 424.4V436.3M127.5 424.2V435.0M128.5 424.2V435.0M129.5 422.6V435.6M130.5 423.2V435.3M131.5 424.2V435.4M132.5 425.0V435.8M133.5 424.8V435.6M134.5 423.3V437.2M135.5 424.6V437.7M136.5 423.2V435.5M137.5 424.2V435.7M138.5 424.9V435.8M139.5 425.1V435.3M140.5 422.1V435.4M141.5 423.3V435.3M142.5 420.8V435.7M143.5 423.9V435.2M144.5 423.6V435.8M145.5 422.1V436.9M146.5 424.4V435.3M147.5 424.7V435.2M148.5 424.2V437.1M149.5 423.9V435.8M150.5 423.1V436.0M151.5 424.9V435.7M152.5 424.8V436.9M153.5 424.9V436.4M154.5 424.9V435.8M155.5 423.4V435.7M156.5 422.0V435.4M157.5 422.6V438.9M158.5 418.4V435.8M159.5 419.1V437.8M160.5 421.0V438.2M161.5 417.7V438.6M162.5 423.6V438.3M163.5 421.8V436.8M164.5 423.3V436.3M165.5 424.3V436.3M166.5 423.2V435.2M167.5 424.5V435.7M168.5 424.0V435.8M169.5 422.5V435.5M170.5 423.9V435.5M171.5 423.6V436.1M172.5 422.3V435.3M173.5 422.0V436.6M174.5 424.5V437.4M175.5 422.7V436.8M176.5 422.8V439.4M177.5 423.9V436.1M178.5 424.0V435.4M179.5 425.0V435.6M180.5 424.9V434.9M181.5 424.4V435.6M182.5 421.9V435.7M183.5 423.8V435.4M184.5 424.0V435.5M185.5 424.1V435.4M186.5 424.9V435.1M187.5 424.1V435.2M188.5 422.4V434.8M189.5 422.7V435.5M190.5 424.0V436.5M191.5 423.9V435.9M192.5 422.1V436.9M193.5 424.2V435.5M194.5 424.5V437.4M195.5 419.4V437.7M196.5 421.6V436.7M197.5 421.4V445.3M198.5 422.2V437.3M199.5 423.0V438.1M200.5 422.4V437.7M201.5 422.9V439.7M202.5 424.1V437.0M203.5 423.8V438.8M204.5 421.3V437.6M205.5 422.7V436.5M206.5 422.9V439.5M207.5 423.5V435.6M208.5 419.6V437.1M209.5 422.9V435.9M210.5 422.8V436.5M211.5 423.0V437.5M212.5 419.2V436.8M213.5 424.3V434.8M214.5 424.7V435.0M215.5 425.0V435.4M216.5 422.2V439.3M217.5 423.5V440.8M218.5 423.9V437.1M219.5 420.9V435.9M220.5 424.1V435.4M221.5 424.5V435.3M222.5 422.1V435.9M223.5 423.7V436.0M224.5 424.0V436.4M225.5 420.7V437.1M226.5 422.3V436.4M227.5 423.5V437.6M228.5 423.2V436.1M229.5 421.8V436.0M230.5 422.8V436.2M231.5 424.2V436.4M232.5 422.5V435.3M233.5 422.8V435.9M234.5 423.7V435.9M235.5 421.5V435.2M236.5 423.5V436.2M237.5 422.2V435.2M238.5 423.2V437.9M239.5 422.0V437.0M240.5 417.8V435.6M241.5 423.9V436.7M242.5 423.3V436.2M243.5 419.7V436.0M244.5 423.2V436.3M245.5 422.3V436.9M246.5 423.4V435.8M247.5 422.9V437.7M248.5 423.7V437.4M249.5 423.4V437.0M250.5 422.7V437.2M251.5 422.5V439.9M252.5 422.7V439.4M253.5 416.9V437.2M254.5 422.5V437.7M255.5 423.8V436.1M256.5 424.2V436.8M257.5 422.9V435.6M258.5 423.1V436.3M259.5 424.3V436.5M260.5 424.0V436.0M261.5 420.7V436.6M262.5 424.0V435.8M263.5 423.6V436.0M264.5 424.0V435.3M265.5 424.5V435.4M266.5 423.9V440.4M267.5 424.7V437.0M268.5 425.1V435.5M269.5 424.0V436.4M270.5 423.6V435.0M271.5 424.2V435.7M272.5 422.6V440.8M273.5 424.5V435.7M274.5 423.3V437.9M275.5 424.4V436.8M276.5 421.8V436.4M277.5 424.9V435.5M278.5 423.8V436.5M279.5 424.6V435.2M280.5 422.8V435.5M281.5 423.5V437.6M282.5 424.2V436.4M283.5 424.5V435.8M284.5 424.3V435.2M285.5 424.0V435.3M286.5 424.2V435.6M287.5 423.5V435.2M288.5 423.9V435.2M289.5 423.6V435.3M290.5 423.0V435.5M291.5 423.5V434.7M292.5 422.9V434.6M293.5 424.4V435.7M294.5 423.2V435.4M295.5 423.9V434.8M296.5 423.3V436.0M297.5 423.1V434.7M298.5 423.7V435.2M299.5 424.2V435.3M300.5 421.1V435.2M301.5 421.6V435.3M302.5 423.5V437.6M303.5 424.1V435.8M304.5 422.5V434.9M305.5 424.4V437.0M306.5 422.4V436.4M307.5 423.8V434.6M308.5 423.9V434.8M309.5 424.3V435.5M310.5 423.7V434.9M311.5 423.7V436.6M312.5 422.3V435.3M313.5 424.7V438.8M314.5 424.6V434.8M315.5 424.2V436.0M316.5 424.6V435.7M317.5 424.8V435.2M318.5 425.2V435.7M319.5 423.9V435.7M320.5 423.4V436.7M321.5 423.0V435.4M322.5 424.0V435.5M323.5 424.5V435.3M324.5 423.1V435.3M325.5 424.0V435.5M326.5 423.7V435.4M327.5 424.2V434.8M328.5 423.6V434.9M329.5 423.2V435.5M330.5 423.9V437.6M331.5 423.7V436.9M332.5 424.4V435.6M333.5 422.6V435.8M334.5 423.3V437.7M335.5 422.3V435.8M336.5 423.6V437.7M337.5 423.9V436.4M338.5 424.0V434.9M339.5 424.1V436.0M340.5 425.1V435.2M341.5 424.9V436.9M342.5 423.8V435.1M343.5 423.7V435.7M344.5 424.2V438.3M345.5 421.8V436.1M346.5 424.7V436.0M347.5 425.0V434.6M348.5 423.6V434.7M349.5 422.6V437.1M350.5 424.6V435.2M351.5 424.1V436.4M352.5 422.9V436.0M353.5 423.7V436.0M354.5 424.4V435.7M355.5 424.0V435.1M356.5 424.5V436.2M357.5 422.7V435.4M358.5 424.0V439.2M359.5 421.6V437.0M360.5 423.8V435.4M361.5 423.6V435.5M362.5 422.1V435.6M363.5 424.3V436.0M364.5 424.0V435.1M365.5 424.4V434.5M366.5 423.6V436.2M367.5 424.1V434.6M368.5 423.1V436.4M369.5 424.4V437.3M370.5 423.3V435.4M371.5 423.3V436.0M372.5 424.0V435.5M373.5 422.2V438.1M374.5 423.2V436.2M375.5 423.2V436.3M376.5 423.5V436.3M377.5 423.1V435.1M378.5 423.8V434.9M379.5 424.4V435.3M380.5 424.3V435.0M381.5 425.1V438.0M382.5 425.3V436.4M383.5 424.4V435.7M384.5 424.7V436.2M385.5 423.6V436.0M386.5 424.0V436.8M387.5 423.5V438.2M388.5 424.3V435.7M389.5 422.8V435.1M390.5 425.0V434.9M391.5 424.4V435.2M392.5 423.9V435.4M393.5 423.9V435.7M394.5 422.7V436.6M395.5 424.6V436.1M396.5 423.8V436.0M397.5 422.7V438.0M398.5 422.8V435.3M399.5 424.3V435.4M400.5 424.8V435.4M401.5 424.9V435.3M402.5 420.6V435.3M403.5 424.7V436.0M404.5 423.8V435.1M405.5 424.1V435.8M406.5 424.3V436.8M407.5 424.8V435.4M408.5 422.0V435.0M409.5 424.1V435.9M410.5 425.1V434.7M411.5 425.2V434.6M412.5 424.7V434.9M413.5 424.7V435.1M414.5 424.4V436.0M415.5 424.1V436.1M416.5 424.0V435.7M417.5 424.3V434.8M418.5 423.0V435.0M419.5 422.6V434.8M420.5 424.1V436.0M421.5 421.6V436.0M422.5 423.7V436.0M423.5 421.3V436.0M424.5 424.0V436.0M425.5 423.2V436.6M426.5 420.8V436.5M427.5 423.0V435.1M428.5 424.4V435.1M429.5 422.7V435.9M430.5 422.6V435.0M431.5 422.5V436.2M432.5 420.6V436.2M433.5 423.1V436.7M434.5 423.9V437.6M435.5 422.9V435.5M436.5 424.2V436.2M437.5 422.4V437.1M438.5 424.0V436.0M439.5 423.1V435.4M440.5 424.0V436.1M441.5 424.3V435.6M442.5 423.2V435.2M443.5 424.1V435.6M444.5 423.8V437.1M445.5 424.4V434.8M446.5 424.1V434.9M447.5 424.4V435.6M448.5 424.4V435.5M449.5 423.9V435.4M450.5 424.0V434.8M451.5 424.3V434.9M452.5 424.4V435.0M453.5 424.7V435.1M454.5 423.6V435.2M455.5 424.0V436.5M456.5 424.0V435.4M457.5 424.5V438.4M458.5 424.1V435.2M459.5 424.1V436.6M460.5 423.6V436.0M461.5 424.1V437.9M462.5 422.9V436.2M463.5 421.6V435.6M464.5 424.6V435.7M465.5 423.0V435.9M466.5 423.2V435.2M467.5 423.1V435.5M468.5 422.1V437.3M469.5 423.6V436.3M470.5 424.5V435.5M471.5 424.3V435.3M472.5 423.5V437.8M473.5 422.8V436.4M474.5 422.3V436.3M475.5 423.6V435.1M476.5 423.4V436.5M477.5 422.2V435.2M478.5 423.8V435.5M479.5 424.0V436.1M480.5 424.3V435.8M481.5 424.6V436.2M482.5 424.4V436.8M483.5 423.8V435.0M484.5 422.3V435.3M485.5 422.4V436.0M486.5 423.0V435.8M487.5 423.9V435.3M488.5 425.0V436.7M489.5 423.9V436.4M490.5 424.0V435.4M491.5 424.1V436.0M492.5 423.5V436.0M493.5 424.5V436.5M494.5 424.0V436.4M495.5 423.9V438.0M496.5 423.9V437.3M497.5 423.6V435.3M498.5 424.3V437.3M499.5 423.8V436.5M500.5 424.6V435.6M501.5 424.8V435.9M502.5 423.4V436.1M503.5 423.4V435.7M504.5 423.5V435.5M505.5 423.4V436.6M506.5 423.0V436.8M507.5 423.3V436.5M508.5 423.2V435.9M509.5 424.2V435.4M510.5 422.4V437.0M511.5 422.7V435.0M512.5 421.8V436.5M513.5 422.6V436.0M514.5 423.7V435.5M515.5 422.1V439.8M516.5 422.7V436.1M517.5 424.2V436.7M518.5 423.9V436.8M519.5 422.7V438.5M520.5 421.8V437.8M521.5 424.5V435.7M522.5 424.1V437.2M523.5 423.4V435.8M524.5 422.9V436.0M525.5 421.9V437.5M526.5 422.0V436.8M527.5 422.3V436.8M528.5 423.6V435.4M529.5 421.0V435.6M530.5 421.8V435.5M531.5 421.7V437.1M532.5 423.1V437.0M533.5 424.4V436.3M534.5 424.6V435.4M535.5 424.3V435.9M536.5 424.7V436.6M537.5 421.7V435.7M538.5 422.5V436.5M539.5 422.0V436.2M540.5 422.9V436.4M541.5 423.5V438.5M542.5 423.4V435.9M543.5 423.1V437.9M544.5 422.6V439.3M545.5 422.7V436.0M546.5 423.5V436.0M547.5 420.9V435.6M548.5 423.9V436.0M549.5 422.5V435.7M550.5 422.1V435.7M551.5 422.3V435.4M552.5 422.8V436.5M553.5 423.6V434.9M554.5 423.3V434.8M555.5 422.2V436.1M556.5 424.3V435.0M557.5 422.6V435.1M558.5 423.3V435.0M559.5 422.8V434.8M560.5 423.0V435.3M561.5 424.2V435.8M562.5 422.0V436.3M563.5 423.4V436.9M564.5 418.8V436.3M565.5 422.4V435.6M566.5 423.7V437.4M567.5 423.5V435.7M568.5 424.1V435.7M569.5 423.0V435.8M570.5 421.6V435.0M571.5 420.8V435.4M572.5 424.0V436.8M573.5 423.3V436.2M574.5 423.9V437.8M575.5 424.4V435.7M576.5 422.0V436.0M577.5 423.9V435.4M578.5 423.8V435.7M579.5 423.3V435.5M580.5 423.1V436.2M581.5 421.6V436.7M582.5 424.1V435.1M583.5 421.5V435.2M584.5 424.1V437.1M585.5 421.5V435.5M586.5 423.6V434.8M587.5 424.8V434.8M588.5 424.0V435.9M589.5 422.6V435.9M590.5 422.9V436.9M591.5 422.7V436.4M592.5 423.7V435.7M593.5 421.4V435.0M594.5 424.2V435.5M595.5 423.0V436.4M596.5 424.4V435.4M597.5 424.2V435.1M598.5 424.1V436.6M599.5 423.7V434.9M600.5 423.9V436.2M601.5 424.5V437.2M602.5 424.3V436.3M603.5 424.7V435.4M604.5 423.8V437.1M605.5 423.6V436.1M606.5 424.0V437.1M607.5 424.0V436.4M608.5 423.8V437.3M609.5 423.3V435.3M610.5 423.6V435.9M611.5 423.2V435.7M612.5 424.6V435.4M613.5 423.5V435.7M614.5 422.9V435.5M615.5 424.9V434.9M616.5 424.6V435.6M617.5 422.7V435.0M618.5 420.7V437.0M619.5 424.5V436.6M620.5 423.4V435.4M621.5 423.9V435.0M622.5 424.5V435.8M623.5 424.3V436.0M624.5 423.5V435.7M625.5 424.7V437.3M626.5 424.5V436.3M627.5 421.0V435.2M628.5 423.0V435.3M629.5 422.0V434.8M630.5 424.1V434.8M631.5 424.0V435.2M632.5 425.0V436.8M633.5 423.7V435.1M634.5 424.8V435.7M635.5 423.3V435.9M636.5 424.0V439.2M637.5 423.8V435.3M638.5 422.5V435.4M639.5 424.1V435.1M640.5 423.2V439.2M641.5 423.2V436.2M642.5 422.6V436.3M643.5 424.3V436.1M644.5 423.1V435.4M645.5 424.0V435.8" stroke="#0000ff" stroke-opacity="0.3" stroke-width="1" fill="none"/>
<path d="M43.5 424.3V435.8M44.5 423.9V435.0M45.5 424.1V434.7M46.5 424.8V434.8M47.5 423.5V434.9M48.5 423.0V435.1M49.5 423.5V436.0M50.5 423.9V436.0M51.5 423.5V435.8M52.5 424.6V436.2M53.5 423.3V436.2M54.5 424.0V435.9M55.5 422.6V436.2M56.5 422.3V436.0M57.5 423.3V435.5M58.5 422.1V435.7M59.5 423.9V435.7M60.5 423.9V436.3M61.5 424.2V435.6M62.5 424.1V435.1M63.5 423.0V434.8M64.5 423.0V435.1M65.5 422.0V435.9M66.5 423.9V435.6M67.5 424.7V435.7M68.5 424.2V435.0M69.5 424.8V434.9M70.5 424.7V436.1M71.5 424.2V435.4M72.5 423.1V434.8M73.5 422.7V435.1M74.5 423.6V435.4M75.5 424.3V437.3M76.5 422.2V435.4M77.5 423.3V435.6M78.5 422.1V437.0M79.5 423.8V435.8M80.5 424.6V436.0M81.5 423.1V437.2M82.5 424.5V437.0M83.5 421.5V436.2M84.5 423.8V436.4M85.5 422.3V435.8M86.5 424.1V435.5M87.5 423.2V436.0M88.5 424.1V435.9M89.5 422.9V435.5M90.5 423.9V435.2M91.5 424.1V436.8M92.5 423.4V435.9M93.5 422.9V435.4M94.5 424.4V435.9M95.5 424.7V436.2M96.5 424.8V436.1M97.5 424.7V435.4M98.5 423.9V435.9M99.5 424.8V434.8M100.5 424.1V435.2M101.5 423.8V436.2M102.5 423.2V434.5M103.5 424.7V435.8M104.5 423.2V434.7M105.5 423.8V434.8M106.5 423.6V435.5M107.5 424.3V435.7M108.5 424.0V435.5M109.5 423.7V436.0M110.5 423.1V436.0M111.5 422.6V436.6M112.5 422.8V435.2M113.5 424.2V436.7M114.5 424.1V435.6M115.5 422.2V435.3M116.5 424.2V435.2M117.5 423.8V435.0M118.5 424.6V434.6M119.5 423.5V434.4M120.5 424.1V435.8M121.5 424.1V434.8M122.5 424.0V435.4M123.5 423.9V434.8M124.5 423.1V435.3M125.5 422.4V435.1M126.5 424.4V436.3M127.5 424.2V435.0M128.5 424.2V435.0M129.5 422.6V435.3M130.5 424.0V435.3M131.5 424.2V435.4M132.5 425.0V435.8M133.5 424.8V435.6M134.5 423.5V435.7M135.5 424.6V437.7M136.5 423.2V435.5M137.5 424.2V435.7M138.5 424.9V435.8M139.5 425.1V435.3M140.5 424.7V435.4M141.5 424.2V435.3M142.5 421.9V435.7M143.5 423.9V434.7M144.5 423.6V435.8M145.5 424.4V435.0M146.5 424.4V435.3M147.5 424.7V435.2M148.5 424.2V436.2M149.5 423.9V435.8M150.5 423.1V436.0M151.5 424.9V435.7M152.5 424.8V436.1M153.5 424.9V436.4M154.5 424.9V435.8M155.5 423.4V435.7M156.5 424.2V435.4M157.5 422.6V438.3M158.5 418.4V435.8M159.5 422.6V437.8M160.5 421.0V438.2M161.5 419.7V438.6M162.5 423.6V438.3M163.5 421.8V436.8M164.5 423.8V436.3M165.5 424.3V436.3M166.5 423.2V435.2M167.5 424.5V435.4M168.5 424.0V435.8M169.5 423.7V435.5M170.5 423.9V435.1M171.5 423.6V436.1M172.5 422.3V434.5M173.5 423.8V436.6M174.5 424.5V437.4M175.5 422.7V436.4M176.5 422.8V435.3M177.5 423.9V436.1M178.5 424.0V435.4M179.5 425.0V435.6M180.5 424.9V434.9M181.5 424.4V435.6M182.5 422.8V435.7M183.5 423.8V435.4M184.5 424.0V435.5M185.5 424.7V435.4M186.5 424.9V435.1M187.5 424.1V435.2M188.5 422.4V434.8M189.5 423.5V435.5M190.5 424.0V436.5M191.5 423.9V435.9M192.5 423.1V436.9M193.5 424.3V435.5M194.5 424.5V437.4M195.5 423.6V437.7M196.5 423.0V436.7M197.5 421.4V441.7M198.5 422.2V437.3M199.5 423.0V438.1M200.5 422.4V437.7M201.5 423.3V438.6M202.5 424.1V437.0M203.5 423.8V435.8M204.5 422.3V437.5M205.5 422.7V436.2M206.5 422.9V435.0M207.5 423.5V435.6M208.5 424.3V436.2M209.5 422.9V435.9M210.5 424.0V435.6M211.5 423.0V436.7M212.5 422.9V436.5M213.5 424.3V434.8M214.5 424.7V435.0M215.5 425.0V435.4M216.5 423.8V437.7M217.5 423.5V435.3M218.5 423.9V436.8M219.5 422.4V435.9M220.5 424.1V435.2M221.5 424.5V435.3M222.5 422.1V435.9M223.5 423.7V436.0M224.5 424.0V436.4M225.5 422.2V437.1M226.5 423.7V436.4M227.5 423.5V437.6M228.5 423.3V436.1M229.5 421.9V436.0M230.5 423.1V435.2M231.5 424.2V436.4M232.5 424.4V435.3M233.5 422.8V435.9M234.5 423.8V435.9M235.5 422.3V435.2M236.5 423.5V436.2M237.5 422.7V435.2M238.5 423.2V435.1M239.5 422.0V437.0M240.5 421.6V435.6M241.5 423.9V436.7M242.5 423.3V436.2M243.5 423.6V436.0M244.5 423.2V436.3M245.5 423.1V436.9M246.5 423.4V435.8M247.5 423.1V437.4M248.5 423.7V437.4M249.5 423.4V437.0M250.5 422.7V437.2M251.5 422.5V438.6M252.5 422.7V438.2M253.5 418.7V436.8M254.5 422.5V437.7M255.5 423.8V436.1M256.5 424.2V436.8M257.5 422.9V435.6M258.5 423.1V435.6M259.5 424.3V435.6M260.5 424.0V435.6M261.5 424.2V436.6M262.5 424.0V435.8M263.5 423.6V436.0M264.5 424.0V435.3M265.5 424.5V435.4M266.5 423.9V437.2M267.5 424.7V437.0M268.5 425.1V435.5M269.5 424.0V436.4M270.5 423.6V435.0M271.5 424.2V435.0M272.5 423.7V438.4M273.5 424.5V435.7M274.5 424.2V437.3M275.5 424.7V436.8M276.5 423.7V435.7M277.5 424.9V435.5M278.5 423.8V436.5M279.5 424.6V435.2M280.5 422.8V435.3M281.5 423.5V435.6M282.5 424.2V436.4M283.5 424.5V435.8M284.5 424.3V435.2M285.5 424.0V435.3M286.5 424.2V435.6M287.5 423.5V435.2M288.5 423.9V435.2M289.5 423.6V435.3M290.5 423.0V435.5M291.5 423.5V434.7M292.5 424.0V434.6M293.5 424.4V435.7M294.5 423.2V435.4M295.5 423.9V434.8M296.5 423.3V436.0M297.5 424.6V434.7M298.5 423.7V435.1M299.5 424.2V435.3M300.5 422.4V435.2M301.5 424.2V435.3M302.5 423.5V435.8M303.5 424.1V435.8M304.5 424.5V434.9M305.5 424.4V437.0M306.5 424.5V436.4M307.5 423.8V434.6M308.5 423.9V434.8M309.5 424.3V435.5M310.5 423.7V434.9M311.5 423.7V436.5M312.5 424.9V435.1M313.5 424.7V435.1M314.5 424.6V434.6M315.5 424.2V436.0M316.5 424.6V435.7M317.5 424.8V435.2M318.5 425.2V435.7M319.5 423.9V435.7M320.5 423.4V435.5M321.5 423.0V435.4M322.5 424.0V435.5M323.5 424.5V435.3M324.5 423.1V435.3M325.5 424.0V435.5M326.5 423.7V435.4M327.5 424.2V434.8M328.5 423.6V434.9M329.5 423.2V434.8M330.5 424.6V435.6M331.5 423.7V436.6M332.5 424.4V435.6M333.5 422.6V435.8M334.5 423.3V435.1M335.5 423.4V435.8M336.5 423.6V436.7M337.5 423.9V436.4M338.5 424.5V434.9M339.5 424.1V436.0M340.5 425.1V435.2M341.5 424.9V436.9M342.5 423.8V435.1M343.5 423.7V435.7M344.5 424.2V435.2M345.5 424.2V436.1M346.5 424.7V436.0M347.5 425.0V434.6M348.5 423.6V434.7M349.5 422.6V436.6M350.5 424.6V435.2M351.5 424.1V436.4M352.5 423.4V436.0M353.5 423.7V436.0M354.5 424.4V435.7M355.5 424.0V435.1M356.5 424.5V436.2M357.5 422.7V435.4M358.5 424.0V435.6M359.5 423.3V435.8M360.5 423.8V435.4M361.5 423.6V435.5M362.5 422.4V435.6M363.5 424.3V435.4M364.5 424.1V435.1M365.5 424.4V434.5M366.5 423.6V435.4M367.5 424.1V434.6M368.5 423.1V436.4M369.5 424.4V435.4M370.5 423.3V435.4M371.5 423.3V436.0M372.5 424.0V435.5M373.5 422.2V436.6M374.5 423.2V436.2M375.5 423.2V436.3M376.5 423.5V436.1M377.5 423.1V435.1M378.5 423.8V434.9M379.5 424.4V435.3M380.5 424.3V434.9M381.5 425.1V436.1M382.5 425.3V435.4M383.5 424.4V435.7M384.5 424.7V436.2M385.5 424.3V436.0M386.5 424.4V435.7M387.5 423.7V436.5M388.5 424.3V435.7M389.5 423.5V434.7M390.5 425.1V434.9M391.5 424.4V435.2M392.5 423.9V435.2M393.5 423.9V435.7M394.5 422.7V436.6M395.5 424.6V436.1M396.5 423.8V436.0M397.5 424.2V435.1M398.5 424.1V435.3M399.5 424.3V435.4M400.5 424.8V435.4M401.5 424.9V435.3M402.5 423.0V435.3M403.5 424.7V436.0M404.5 423.8V435.1M405.5 424.1V435.8M406.5 424.3V435.7M407.5 424.8V435.4M408.5 424.9V435.0M409.5 424.1V435.4M410.5 425.1V434.7M411.5 425.2V434.6M412.5 424.7V434.9M413.5 424.7V435.1M414.5 424.4V436.0M415.5 424.1V436.1M416.5 424.0V435.7M417.5 424.3V434.8M418.5 423.0V435.0M419.5 423.9V434.8M420.5 424.1V436.0M421.5 421.6V436.0M422.5 423.7V436.0M423.5 423.8V436.0M424.5 424.0V436.0M425.5 423.4V436.6M426.5 422.6V436.5M427.5 423.0V435.1M428.5 424.4V435.1M429.5 422.7V435.2M430.5 422.6V435.0M431.5 422.9V436.2M432.5 420.8V436.2M433.5 423.1V435.9M434.5 423.9V436.1M435.5 422.9V435.5M436.5 424.2V436.2M437.5 423.2V437.1M438.5 424.5V436.0M439.5 423.1V435.4M440.5 424.0V436.1M441.5 424.3V435.6M442.5 423.2V435.2M443.5 424.1V435.6M444.5 423.8V435.8M445.5 424.4V434.6M446.5 424.1V434.9M447.5 424.4V435.6M448.5 424.4V435.5M449.5 424.6V435.4M450.5 424.0V434.8M451.5 424.3V434.9M452.5 424.4V435.0M453.5 424.7V435.1M454.5 423.6V435.2M455.5 424.0V436.5M456.5 424.0V435.4M457.5 424.5V436.0M458.5 424.1V435.1M459.5 424.1V436.6M460.5 423.6V436.0M461.5 424.1V435.5M462.5 422.9V435.7M463.5 421.6V435.6M464.5 424.6V435.5M465.5 423.0V435.9M466.5 423.5V435.1M467.5 423.1V435.2M468.5 423.9V435.3M469.5 423.6V435.5M470.5 424.5V435.5M471.5 424.3V435.0M472.5 423.5V435.2M473.5 422.8V435.9M474.5 423.6V436.3M475.5 423.8V435.1M476.5 423.4V436.5M477.5 422.2V435.2M478.5 423.8V435.5M479.5 424.0V436.1M480.5 424.4V435.8M481.5 424.6V436.2M482.5 424.5V435.7M483.5 423.8V435.0M484.5 422.3V435.3M485.5 422.4V436.0M486.5 424.2V435.5M487.5 424.5V435.3M488.5 425.0V436.7M489.5 423.9V436.0M490.5 424.4V435.4M491.5 424.1V435.2M492.5 423.5V435.4M493.5 424.5V435.0M494.5 424.0V436.4M495.5 423.9V435.3M496.5 423.9V435.3M497.5 423.6V435.3M498.5 424.3V437.3M499.5 424.3V436.5M500.5 424.6V435.6M501.5 424.8V435.9M502.5 424.4V436.1M503.5 423.4V435.4M504.5 423.5V435.5M505.5 423.4V435.7M506.5 424.0V436.8M507.5 423.3V436.5M508.5 423.2V435.9M509.5 424.2V435.4M510.5 424.7V437.0M511.5 422.7V435.0M512.5 421.8V436.5M513.5 423.3V436.0M514.5 423.7V435.5M515.5 422.8V436.8M516.5 422.7V436.1M517.5 424.2V436.5M518.5 423.9V436.8M519.5 422.7V435.8M520.5 421.9V437.8M521.5 424.5V435.7M522.5 424.1V436.3M523.5 423.4V435.8M524.5 422.9V436.0M525.5 421.9V437.5M526.5 422.0V436.8M527.5 422.3V436.8M528.5 423.6V435.4M529.5 422.6V435.6M530.5 421.8V435.5M531.5 421.7V436.3M532.5 423.2V437.0M533.5 424.4V436.3M534.5 424.6V435.4M535.5 424.3V435.9M536.5 424.7V435.5M537.5 421.9V435.7M538.5 423.7V436.5M539.5 423.9V436.2M540.5 422.9V436.4M541.5 423.5V438.5M542.5 423.4V435.9M543.5 423.1V437.3M544.5 423.0V436.8M545.5 422.7V436.0M546.5 423.5V436.0M547.5 422.4V435.6M548.5 424.0V436.0M549.5 422.6V435.7M550.5 422.1V435.2M551.5 422.3V435.4M552.5 422.8V435.5M553.5 423.6V434.9M554.5 423.3V434.7M555.5 423.0V436.1M556.5 424.3V435.0M557.5 423.8V435.1M558.5 423.3V435.0M559.5 422.8V434.8M560.5 423.0V435.3M561.5 424.2V435.8M562.5 422.3V436.3M563.5 423.4V436.9M564.5 423.8V436.3M565.5 423.9V435.6M566.5 423.9V436.6M567.5 423.5V435.7M568.5 424.1V435.4M569.5 423.0V435.8M570.5 421.7V435.0M571.5 423.8V435.4M572.5 424.0V436.8M573.5 423.3V436.1M574.5 423.9V436.2M575.5 424.4V435.7M576.5 423.8V436.0M577.5 423.9V434.9M578.5 423.8V435.2M579.5 423.9V435.5M580.5 424.0V436.2M581.5 423.5V436.0M582.5 424.1V435.1M583.5 423.3V435.2M584.5 424.1V434.9M585.5 422.0V435.5M586.5 423.8V434.8M587.5 424.8V434.8M588.5 424.0V435.9M589.5 423.5V435.9M590.5 422.9V434.8M591.5 422.7V434.8M592.5 423.7V435.7M593.5 422.9V435.0M594.5 424.3V435.5M595.5 423.0V436.4M596.5 424.4V435.4M597.5 424.2V435.1M598.5 424.1V436.6M599.5 423.7V434.9M600.5 423.9V436.2M601.5 424.5V437.2M602.5 424.3V436.3M603.5 424.7V435.4M604.5 423.8V437.1M605.5 423.6V436.1M606.5 424.0V436.3M607.5 424.0V436.4M608.5 423.8V436.4M609.5 423.3V435.3M610.5 423.6V435.9M611.5 423.2V435.7M612.5 424.6V435.4M613.5 423.8V435.7M614.5 422.9V435.5M615.5 424.9V434.9M616.5 424.9V435.6M617.5 423.5V435.0M618.5 422.5V436.6M619.5 424.5V436.2M620.5 423.9V435.4M621.5 423.9V435.0M622.5 424.5V435.8M623.5 424.3V436.0M624.5 423.7V435.7M625.5 424.7V436.4M626.5 424.7V436.3M627.5 424.2V435.2M628.5 424.3V435.3M629.5 423.9V434.8M630.5 424.1V434.8M631.5 424.0V435.2M632.5 425.0V434.9M633.5 423.7V435.1M634.5 424.8V435.7M635.5 423.3V435.9M636.5 424.3V435.0M637.5 423.8V435.3M638.5 422.5V435.4M639.5 424.1V435.1M640.5 423.2V435.6M641.5 423.8V436.2M642.5 422.6V436.3M643.5 424.3V436.1M644.5 423.4V435.1M645.5 424.0V435.8" stroke="#0000ff" stroke-opacity="0.55" stroke-width="1" fill="none"/>
<path d="M43.5 424.7V435.0M44.5 424.6V434.8M45.5 424.6V434.6M46.5 424.9V434.6M47.5 425.1V434.7M48.5 425.2V434.9M49.5 425.4V435.1M50.5 425.5V435.4M51.5 425.4V435.4M52.5 425.1V435.2M53.5 424.7V435.0M54.5 424.4V435.1M55.5 424.2V435.3M56.5 424.2V435.4M57.5 424.3V435.4M58.5 424.5V435.2M59.5 424.6V435.0M60.5 424.6V434.8M61.5 424.7V434.7M62.5 424.5V434.6M63.5 424.3V434.6M64.5 424.3V434.8M65.5 424.3V434.9M66.5 424.4V434.8M67.5 424.7V434.7M68.5 424.9V434.7M69.5 425.0V434.7M70.5 424.9V434.7M71.5 424.7V434.6M72.5 424.4V434.7M73.5 424.3V434.9M74.5 424.4V435.1M75.5 424.6V435.4M76.5 424.7V435.4M77.5 424.6V435.2M78.5 424.4V435.1M79.5 424.4V435.2M80.5 424.7V435.4M81.5 424.7V435.6M82.5 424.5V435.8M83.5 424.2V435.9M84.5 424.1V435.9M85.5 424.3V435.7M86.5 424.5V435.3M87.5 424.6V435.1M88.5 424.5V435.1M89.5 424.4V435.1M90.5 424.4V435.1M91.5 424.5V435.2M92.5 424.8V435.1M93.5 425.0V435.0M94.5 425.1V434.9M95.5 425.0V434.9M96.5 424.9V434.9M97.5 425.1V434.8M98.5 425.2V434.6M99.5 424.9V434.6M100.5 424.5V434.6M101.5 424.2V434.3M102.5 424.4V434.2M103.5 424.7V434.3M104.5 424.9V434.6M105.5 424.8V434.7M106.5 424.6V434.8M107.5 424.5V434.9M108.5 424.5V435.2M109.5 424.3V435.5M110.5 424.2V435.5M111.5 424.3V435.3M112.5 424.6V435.0M113.5 424.5V434.9M114.5 424.4V434.9M115.5 424.3V434.9M116.5 424.2V434.7M117.5 424.4V434.3M118.5 424.7V434.2M119.5 424.7V434.2M120.5 424.6V434.2M121.5 424.4V434.3M122.5 424.2V434.3M123.5 424.2V434.5M124.5 424.3V434.7M125.5 424.4V434.7M126.5 424.5V434.6M127.5 424.6V434.6M128.5 424.5V434.7M129.5 424.5V434.8M130.5 424.8V435.0M131.5 425.0V435.2M132.5 425.2V435.3M133.5 425.3V435.3M134.5 425.2V435.5M135.5 425.0V435.6M136.5 425.0V435.4M137.5 425.1V435.1M138.5 425.2V435.1M139.5 425.1V435.0M140.5 424.8V434.9M141.5 424.3V434.9M142.5 424.1V434.8M143.5 424.3V434.6M144.5 424.7V434.4M145.5 425.0V434.3M146.5 425.0V434.5M147.5 424.9V435.0M148.5 424.8V435.5M149.5 424.7V435.7M150.5 424.8V435.5M151.5 425.0V435.5M152.5 425.1V435.5M153.5 425.1V435.6M154.5 425.1V435.5M155.5 425.0V435.4M156.5 424.8V435.3M157.5 424.4V435.4M158.5 423.8V435.3M159.5 423.3V435.4M160.5 423.1V435.8M161.5 423.4V436.0M162.5 423.7V435.9M163.5 424.1V435.8M164.5 424.6V435.7M165.5 424.9V435.4M166.5 425.1V435.0M167.5 425.1V434.9M168.5 425.1V435.0M169.5 424.9V434.9M170.5 424.7V434.7M171.5 424.7V434.6M172.5 424.9V434.5M173.5 424.9V434.6M174.5 424.5V435.0M175.5 424.1V435.2M176.5 424.1V435.3M177.5 424.4V435.3M178.5 424.9V435.2M179.5 425.1V435.1M180.5 424.9V434.9M181.5 424.6V434.8M182.5 424.7V434.9M183.5 424.8V435.2M184.5 424.9V435.4M185.5 425.0V435.3M186.5 424.9V435.0M187.5 424.5V434.7M188.5 424.1V434.8M189.5 424.0V435.1M190.5 424.1V435.3M191.5 424.4V435.2M192.5 424.8V435.1M193.5 424.9V435.3M194.5 424.6V435.6M195.5 423.9V435.9M196.5 423.2V436.2M197.5 422.9V436.6M198.5 423.2V436.9M199.5 423.6V437.1M200.5 423.7V437.0M201.5 423.8V436.7M202.5 424.2V436.2M203.5 424.6V435.7M204.5 424.5V435.2M205.5 424.3V434.9M206.5 424.3V434.9M207.5 424.5V435.0M208.5 424.4V435.1M209.5 424.2V435.2M210.5 424.1V435.1M211.5 424.1V434.7M212.5 424.2V434.5M213.5 424.5V434.5M214.5 424.9V434.7M215.5 425.2V434.9M216.5 425.1V435.1M217.5 424.6V435.3M218.5 424.3V435.3M219.5 424.3V435.1M220.5 424.5V435.1M221.5 424.7V435.0M222.5 424.7V435.1M223.5 424.3V435.3M224.5 424.0V435.4M225.5 424.0V435.5M226.5 423.8V435.9M227.5 423.6V435.9M228.5 423.6V435.3M229.5 424.0V434.8M230.5 424.5V434.9M231.5 424.8V435.1M232.5 424.7V435.2M233.5 424.3V435.2M234.5 424.2V435.2M235.5 424.3V435.1M236.5 424.3V434.9M237.5 424.0V434.8M238.5 423.8V435.0M239.5 424.0V435.3M240.5 424.4V435.5M241.5 424.3V435.4M242.5 424.1V435.3M243.5 423.9V435.5M244.5 423.8V435.7M245.5 423.6V435.8M246.5 423.6V435.7M247.5 423.9V435.7M248.5 424.3V435.7M249.5 424.6V435.7M250.5 424.4V435.8M251.5 424.2V435.9M252.5 423.9V436.0M253.5 423.9V436.2M254.5 423.9V436.2M255.5 424.2V435.9M256.5 424.5V435.7M257.5 424.7V435.6M258.5 424.8V435.4M259.5 424.7V435.2M260.5 424.6V435.2M261.5 424.4V435.2M262.5 424.3V435.2M263.5 424.3V435.2M264.5 424.6V435.3M265.5 424.9V435.3M266.5 425.2V435.2M267.5 425.3V435.0M268.5 425.1V434.9M269.5 425.0V434.8M270.5 425.0V434.7M271.5 425.2V434.7M272.5 425.5V435.0M273.5 425.4V435.4M274.5 425.1V435.7M275.5 424.9V435.6M276.5 424.9V435.3M277.5 425.0V435.1M278.5 424.9V435.0M279.5 424.8V435.0M280.5 424.9V435.1M281.5 425.0V435.1M282.5 424.9V435.1M283.5 424.6V435.0M284.5 424.4V434.9M285.5 424.3V434.8M286.5 424.4V434.8M287.5 424.6V434.9M288.5 424.6V435.1M289.5 424.6V435.2M290.5 424.6V434.9M291.5 424.7V434.6M292.5 424.7V434.5M293.5 424.6V434.4M294.5 424.4V434.4M295.5 424.4V434.5M296.5 424.4V434.6M297.5 424.6V434.5M298.5 424.7V434.5M299.5 424.6V434.6M300.5 424.6V434.6M301.5 424.8V434.7M302.5 424.8V435.0M303.5 424.6V435.2M304.5 424.7V434.9M305.5 424.8V434.5M306.5 425.0V434.5M307.5 425.2V434.5M308.5 425.2V434.6M309.5 425.1V434.6M310.5 425.1V434.6M311.5 425.2V434.3M312.5 425.1V434.0M313.5 425.0V434.1M314.5 424.8V434.5M315.5 424.7V434.7M316.5 424.8V434.7M317.5 425.1V434.7M318.5 425.3V434.9M319.5 425.0V435.0M320.5 424.6V434.9M321.5 424.4V435.0M322.5 424.5V435.2M323.5 424.6V435.2M324.5 424.7V435.2M325.5 424.7V435.0M326.5 424.6V434.8M327.5 424.5V434.7M328.5 424.5V434.7M329.5 424.6V434.8M330.5 424.7V434.9M331.5 424.8V435.0M332.5 424.7V435.2M333.5 424.3V435.1M334.5 423.7V434.9M335.5 423.7V434.7M336.5 424.2V434.7M337.5 424.6V434.6M338.5 424.8V434.7M339.5 425.0V434.9M340.5 425.1V435.1M341.5 425.0V434.9M342.5 424.9V434.7M343.5 424.6V434.6M344.5 424.4V434.8M345.5 424.6V434.9M346.5 424.9V434.7M347.5 425.2V434.4M348.5 425.3V434.4M349.5 425.0V434.7M350.5 424.7V434.9M351.5 424.5V435.2M352.5 424.6V435.4M353.5 424.7V435.2M354.5 424.9V434.8M355.5 424.9V434.5M356.5 424.8V434.6M357.5 424.5V434.9M358.5 424.3V435.1M359.5 424.4V435.2M360.5 424.5V435.3M361.5 424.4V435.3M362.5 424.3V435.2M363.5 424.5V434.8M364.5 424.8V434.5M365.5 424.8V434.3M366.5 424.6V434.2M367.5 424.6V434.5M368.5 424.6V435.0M369.5 424.5V435.4M370.5 424.3V435.3M371.5 424.2V435.0M372.5 424.4V434.8M373.5 424.6V434.9M374.5 424.6V435.0M375.5 424.5V435.0M376.5 424.7V435.0M377.5 424.9V434.9M378.5 425.1V434.8M379.5 425.3V434.7M380.5 425.4V434.9M381.5 425.4V434.9M382.5 425.4V435.0M383.5 425.2V435.3M384.5 424.9V435.6M385.5 424.6V435.6M386.5 424.7V435.2M387.5 424.9V434.8M388.5 425.0V434.8M389.5 425.2V434.7M390.5 425.4V434.5M391.5 425.1V434.5M392.5 424.6V434.9M393.5 424.4V435.3M394.5 424.6V435.3M395.5 424.9V435.1M396.5 425.0V434.9M397.5 424.9V434.8M398.5 424.9V434.9M399.5 425.1V434.9M400.5 425.3V435.0M401.5 425.2V434.9M402.5 425.0V434.9M403.5 424.8V434.9M404.5 424.9V435.1M405.5 425.1V435.0M406.5 425.1V434.8M407.5 425.0V434.5M408.5 425.0V434.4M409.5 425.2V434.6M410.5 425.4V434.7M411.5 425.4V434.5M412.5 425.1V434.4M413.5 424.8V434.5M414.5 424.8V434.8M415.5 424.9V434.9M416.5 424.9V434.8M417.5 424.8V434.7M418.5 424.8V434.7M419.5 424.7V434.6M420.5 424.4V434.6M421.5 424.2V434.8M422.5 424.2V435.0M423.5 424.4V435.2M424.5 424.5V435.2M425.5 424.7V435.2M426.5 424.8V435.0M427.5 424.8V434.7M428.5 424.7V434.7M429.5 424.5V434.9M430.5 424.4V435.0M431.5 424.2V434.9M432.5 424.2V435.1M433.5 424.2V435.3M434.5 424.1V435.2M435.5 424.1V434.9M436.5 424.3V434.8M437.5 424.5V434.8M438.5 424.5V435.0M439.5 424.3V435.1M440.5 424.2V435.1M441.5 424.5V435.1M442.5 424.9V435.0M443.5 425.0V434.7M444.5 424.9V434.4M445.5 424.6V434.5M446.5 424.4V434.6M447.5 424.5V434.7M448.5 424.6V434.7M449.5 424.6V434.6M450.5 424.7V434.6M451.5 424.9V434.6M452.5 424.9V434.7M453.5 424.8V434.9M454.5 424.7V435.0M455.5 424.7V435.2M456.5 424.7V435.2M457.5 424.5V435.0M458.5 424.4V435.0M459.5 424.2V435.3M460.5 424.2V435.5M461.5 424.2V435.5M462.5 424.3V435.4M463.5 424.4V435.2M464.5 424.6V435.3M465.5 424.6V435.2M466.5 424.4V434.8M467.5 424.3V434.4M468.5 424.6V434.4M469.5 424.8V434.7M470.5 424.8V434.8M471.5 424.8V434.7M472.5 424.7V434.8M473.5 424.3V435.1M474.5 424.1V435.2M475.5 424.2V435.0M476.5 424.3V434.8M477.5 424.1V434.9M478.5 424.1V434.9M479.5 424.3V435.0M480.5 424.5V435.3M481.5 424.7V435.5M482.5 424.8V435.3M483.5 424.7V434.8M484.5 424.4V434.5M485.5 424.3V434.7M486.5 424.5V435.0M487.5 425.0V435.2M488.5 425.1V435.5M489.5 424.9V435.5M490.5 424.6V435.1M491.5 424.6V434.9M492.5 424.6V434.9M493.5 424.5V434.9M494.5 424.5V435.0M495.5 424.5V435.1M496.5 424.6V435.1M497.5 424.7V434.9M498.5 424.8V434.9M499.5 425.0V435.0M500.5 425.1V435.1M501.5 424.9V435.3M502.5 424.6V435.3M503.5 424.5V435.2M504.5 424.4V435.3M505.5 424.4V435.6M506.5 424.2V435.9M507.5 424.2V435.7M508.5 424.5V435.4M509.5 424.8V435.1M510.5 424.8V434.9M511.5 424.6V434.9M512.5 424.3V435.2M513.5 424.3V435.3M514.5 424.5V435.3M515.5 424.6V435.3M516.5 424.8V435.2M517.5 424.9V435.3M518.5 424.8V435.4M519.5 424.8V435.4M520.5 424.7V435.3M521.5 424.7V435.0M522.5 424.5V434.9M523.5 424.2V435.3M524.5 423.8V435.8M525.5 423.8V435.8M526.5 423.9V435.4M527.5 423.9V435.1M528.5 423.8V435.1M529.5 423.6V435.2M530.5 423.5V435.2M531.5 423.7V435.2M532.5 424.1V435.3M533.5 424.7V435.4M534.5 425.2V435.2M535.5 425.5V435.0M536.5 425.1V435.1M537.5 424.6V435.2M538.5 424.3V435.3M539.5 424.1V435.3M540.5 423.9V435.4M541.5 423.9V435.6M542.5 423.8V435.6M543.5 423.7V435.6M544.5 423.8V435.5M545.5 424.1V435.3M546.5 424.2V435.3M547.5 424.3V435.1M548.5 424.4V435.0M549.5 424.5V435.1M550.5 424.4V435.1M551.5 424.2V434.9M552.5 424.0V434.9M553.5 423.9V434.8M554.5 424.0V434.6M555.5 424.3V434.6M556.5 424.5V434.7M557.5 424.4V434.9M558.5 424.2V434.9M559.5 423.9V434.8M560.5 424.0V434.8M561.5 424.2V435.0M562.5 424.3V435.2M563.5 424.2V435.3M564.5 424.3V435.2M565.5 424.4V435.1M566.5 424.4V435.1M567.5 424.3V435.2M568.5 424.2V435.2M569.5 424.3V435.0M570.5 424.4V434.8M571.5 424.3V435.1M572.5 424.5V435.4M573.5 425.0V435.4M574.5 425.4V435.2M575.5 425.3V434.9M576.5 425.0V434.7M577.5 424.7V434.6M578.5 424.4V434.7M579.5 424.3V434.6M580.5 424.4V434.5M581.5 424.4V434.6M582.5 424.3V434.8M583.5 424.3V434.9M584.5 424.4V434.7M585.5 424.3V434.5M586.5 424.4V434.4M587.5 424.8V434.5M588.5 425.0V434.5M589.5 424.9V434.4M590.5 424.7V434.5M591.5 424.5V434.7M592.5 424.4V434.8M593.5 424.4V434.9M594.5 424.4V434.9M595.5 424.4V434.8M596.5 424.5V434.6M597.5 424.5V434.6M598.5 424.6V434.7M599.5 424.7V434.9M600.5 424.8V434.9M601.5 424.9V434.9M602.5 425.0V435.1M603.5 425.0V435.3M604.5 424.8V435.5M605.5 424.6V435.4M606.5 424.7V435.4M607.5 424.7V435.4M608.5 424.7V435.3M609.5 424.7V435.3M610.5 424.7V435.2M611.5 424.8V435.2M612.5 424.7V435.4M613.5 424.7V435.4M614.5 424.8V435.1M615.5 425.0V434.9M616.5 425.1V434.8M617.5 424.9V434.8M618.5 424.7V434.6M619.5 424.8V434.3M620.5 424.8V434.3M621.5 424.9V434.5M622.5 425.1V434.6M623.5 425.2V434.9M624.5 425.3V435.3M625.5 425.1V435.5M626.5 424.8V435.3M627.5 424.6V435.0M628.5 424.5V434.6M629.5 424.6V434.4M630.5 424.8V434.4M631.5 425.2V434.4M632.5 425.4V434.5M633.5 425.1V434.7M634.5 424.8V434.9M635.5 424.8V435.0M636.5 425.0V434.8M637.5 425.0V434.7M638.5 424.7V434.5M639.5 424.4V434.5M640.5 424.3V434.6M641.5 424.5V435.0M642.5 424.9V435.2M643.5 425.0V435.1M644.5 424.8V435.0M645.5 424.7V435.0" stroke="#0000ff" stroke-width="1" fill="none"/>
<path d="M157.5 389.4V489.3M159.5 330.5V525.2M161.5 409.7V448.8M191.5 425.0V442.5M213.5 392.7V453.4M226.5 416.0V445.8M253.5 364.2V490.5M264.5 418.0V430.0M287.5 430.0V443.8M428.5 362.4V476.6M443.5 385.7V483.7M482.5 394.0V484.7M490.5 418.0V440.7M521.5 408.9V446.8M570.5 411.0V455.0M593.5 425.0V440.0M640.5 419.8V448.8" stroke="#0000ff" stroke-opacity="0.4" stroke-width="1" fill="none"/>
<path d="M157.5 410.0V452.0M253.5 410.0V462.0M443.5 386.0V425.0M213.5 405.0V450.0" stroke="#0000ff" stroke-opacity="0.45" stroke-width="1" fill="none"/>
<text x="39.20" y="334.20" text-anchor="end" font-weight="normal" font-size="12.3" >2</text>
<text x="39.20" y="385.20" text-anchor="end" font-weight="normal" font-size="12.3" >1</text>
<text x="39.20" y="436.20" text-anchor="end" font-weight="normal" font-size="12.3" >0</text>
<text x="39.20" y="487.20" text-anchor="end" font-weight="normal" font-size="12.3" >-1</text>
<text x="39.20" y="538.20" text-anchor="end" font-weight="normal" font-size="12.3" >-2</text>
<text x="43.50" y="549.10" text-anchor="middle" font-weight="normal" font-size="12.3" >00:00</text>
<text x="118.75" y="549.10" text-anchor="middle" font-weight="normal" font-size="12.3" >03:00</text>
<text x="194.00" y="549.10" text-anchor="middle" font-weight="normal" font-size="12.3" >06:00</text>
<text x="269.25" y="549.10" text-anchor="middle" font-weight="normal" font-size="12.3" >09:00</text>
<text x="344.50" y="549.10" text-anchor="middle" font-weight="normal" font-size="12.3" >12:00</text>
<text x="419.75" y="549.10" text-anchor="middle" font-weight="normal" font-size="12.3" >15:00</text>
<text x="495.00" y="549.10" text-anchor="middle" font-weight="normal" font-size="12.3" >18:00</text>
<text x="570.25" y="549.10" text-anchor="middle" font-weight="normal" font-size="12.3" >21:00</text>
<text x="645.50" y="549.10" text-anchor="middle" font-weight="normal" font-size="12.3" >00:00</text>
<text transform="translate(19.7 432.00) rotate(-90)" text-anchor="middle" font-weight="bold" font-size="12.3">Y (nT)</text>
<path d="M42.9 613.6H645.9V818.15H42.9Z" fill="none" stroke="#b4b4b4" stroke-width="1"/>
<path d="M42.90 613.6v6M42.90 818.15v-6M118.28 613.6v6M118.28 818.15v-6M193.65 613.6v6M193.65 818.15v-6M269.02 613.6v6M269.02 818.15v-6M344.40 613.6v6M344.40 818.15v-6M419.77 613.6v6M419.77 818.15v-6M495.15 613.6v6M495.15 818.15v-6M570.52 613.6v6M570.52 818.15v-6M645.90 613.6v6M645.90 818.15v-6M42.9 613.60h6M645.9 613.60h-6M42.9 642.82h6M645.9 642.82h-6M42.9 672.04h6M645.9 672.04h-6M42.9 701.26h6M645.9 701.26h-6M42.9 730.49h6M645.9 730.49h-6M42.9 759.71h6M645.9 759.71h-6M42.9 788.93h6M645.9 788.93h-6M42.9 818.15h6M645.9 818.15h-6" stroke="#b4b4b4" stroke-width="1" fill="none"/>
<path d="M43.5 720.4V735.6M44.5 718.3V735.3M45.5 719.1V735.9M46.5 720.2V734.7M47.5 719.8V734.3M48.5 719.0V735.0M49.5 720.9V736.7M50.5 720.3V734.9M51.5 716.1V734.4M52.5 720.0V734.5M53.5 717.3V734.4M54.5 719.6V734.8M55.5 718.3V734.4M56.5 717.6V734.8M57.5 719.8V735.2M58.5 718.7V736.3M59.5 720.4V736.3M60.5 719.4V735.8M61.5 718.5V736.1M62.5 719.2V736.2M63.5 718.2V736.2M64.5 719.4V736.9M65.5 717.4V735.4M66.5 718.0V735.2M67.5 720.0V738.1M68.5 715.3V735.9M69.5 719.7V733.7M70.5 719.5V733.8M71.5 720.3V734.4M72.5 718.5V735.6M73.5 720.3V735.1M74.5 718.9V734.7M75.5 719.5V735.5M76.5 715.0V734.6M77.5 718.9V734.8M78.5 718.4V734.8M79.5 719.4V735.8M80.5 718.1V734.8M81.5 719.0V734.4M82.5 720.0V735.6M83.5 718.5V734.5M84.5 718.0V734.7M85.5 718.0V736.2M86.5 719.3V736.3M87.5 718.9V736.3M88.5 719.5V734.6M89.5 717.6V734.0M90.5 720.7V734.8M91.5 718.1V735.8M92.5 719.5V734.5M93.5 718.5V736.6M94.5 720.0V734.9M95.5 717.5V735.1M96.5 715.6V735.4M97.5 718.8V734.6M98.5 719.4V733.8M99.5 718.7V733.5M100.5 719.2V733.8M101.5 719.7V733.6M102.5 719.8V733.9M103.5 719.0V734.5M104.5 719.7V734.2M105.5 718.7V733.9M106.5 718.4V734.1M107.5 718.9V733.6M108.5 718.6V734.8M109.5 720.7V735.1M110.5 720.1V735.6M111.5 718.3V734.4M112.5 719.5V735.1M113.5 718.4V734.5M114.5 719.8V734.3M115.5 719.4V735.0M116.5 718.6V734.8M117.5 720.4V734.0M118.5 719.7V733.9M119.5 719.2V734.4M120.5 719.9V734.5M121.5 718.3V735.3M122.5 718.4V735.1M123.5 717.8V734.7M124.5 719.7V734.2M125.5 717.5V733.4M126.5 716.3V735.0M127.5 719.4V733.5M128.5 719.8V734.1M129.5 720.4V734.7M130.5 719.2V735.0M131.5 720.9V734.6M132.5 720.4V736.5M133.5 716.8V735.5M134.5 718.3V734.9M135.5 718.2V735.4M136.5 719.8V734.8M137.5 719.8V734.6M138.5 718.7V735.4M139.5 716.2V735.0M140.5 719.3V734.5M141.5 719.6V734.9M142.5 719.6V736.0M143.5 719.4V734.5M144.5 717.7V735.8M145.5 718.5V734.8M146.5 720.1V734.5M147.5 718.2V735.1M148.5 719.6V734.4M149.5 719.9V734.5M150.5 719.3V733.4M151.5 717.5V733.5M152.5 718.7V734.1M153.5 719.1V734.0M154.5 715.2V736.7M155.5 719.0V735.0M156.5 719.4V736.1M157.5 716.8V736.7M158.5 718.2V735.9M159.5 718.1V738.3M160.5 720.4V736.7M161.5 714.1V737.5M162.5 715.9V736.9M163.5 720.4V735.8M164.5 715.5V735.7M165.5 718.4V734.7M166.5 719.4V734.1M167.5 719.6V734.5M168.5 719.6V734.5M169.5 718.4V734.3M170.5 720.4V734.2M171.5 718.9V734.7M172.5 714.1V735.7M173.5 716.7V734.3M174.5 716.3V734.2M175.5 718.0V736.1M176.5 719.9V734.5M177.5 717.1V734.7M178.5 717.1V735.2M179.5 720.4V735.3M180.5 720.5V735.9M181.5 720.4V735.1M182.5 718.7V734.5M183.5 720.5V733.8M184.5 717.5V733.7M185.5 718.9V735.5M186.5 719.4V734.2M187.5 718.5V734.5M188.5 719.6V734.8M189.5 719.7V734.7M190.5 719.9V734.6M191.5 716.5V735.2M192.5 717.2V734.6M193.5 720.3V734.3M194.5 719.5V734.6M195.5 720.5V733.9M196.5 719.7V734.5M197.5 715.7V734.5M198.5 719.4V734.9M199.5 719.1V734.6M200.5 720.1V735.8M201.5 719.6V735.3M202.5 719.8V734.8M203.5 714.5V734.6M204.5 718.2V733.9M205.5 718.6V734.0M206.5 718.4V736.4M207.5 719.6V734.3M208.5 719.5V734.3M209.5 715.9V733.9M210.5 719.2V734.4M211.5 720.7V735.0M212.5 717.4V734.8M213.5 719.4V734.7M214.5 719.9V734.9M215.5 718.5V734.6M216.5 719.9V734.4M217.5 714.1V735.8M218.5 720.6V734.4M219.5 717.3V734.2M220.5 720.4V736.1M221.5 716.4V735.4M222.5 715.8V734.7M223.5 719.2V735.3M224.5 720.3V734.7M225.5 720.0V735.6M226.5 717.1V735.3M227.5 718.9V736.4M228.5 718.3V735.0M229.5 717.7V734.7M230.5 717.8V734.9M231.5 721.4V735.3M232.5 718.8V735.8M233.5 721.0V734.8M234.5 720.3V735.1M235.5 718.6V735.5M236.5 717.6V735.5M237.5 716.0V736.0M238.5 719.5V737.9M239.5 714.8V736.5M240.5 716.0V735.4M241.5 717.3V736.9M242.5 718.3V736.6M243.5 719.8V738.1M244.5 717.3V736.0M245.5 718.9V737.4M246.5 719.0V736.6M247.5 719.0V735.1M248.5 718.9V735.2M249.5 716.7V736.4M250.5 713.0V736.9M251.5 714.0V736.1M252.5 718.4V738.4M253.5 717.5V737.4M254.5 717.5V735.6M255.5 718.7V736.9M256.5 718.5V736.1M257.5 717.3V735.4M258.5 718.4V735.7M259.5 719.0V736.2M260.5 718.0V735.4M261.5 719.1V739.8M262.5 717.7V734.0M263.5 716.2V736.1M264.5 719.5V734.3M265.5 718.8V734.4M266.5 718.8V735.1M267.5 720.5V734.4M268.5 720.7V734.1M269.5 720.8V733.9M270.5 718.7V735.2M271.5 718.8V736.4M272.5 718.5V734.6M273.5 706.6V734.7M274.5 715.5V735.6M275.5 719.0V735.8M276.5 719.2V736.0M277.5 718.7V736.2M278.5 715.9V735.8M279.5 714.7V736.6M280.5 719.2V735.7M281.5 720.1V735.7M282.5 718.9V736.7M283.5 719.9V735.1M284.5 718.8V734.7M285.5 719.5V734.9M286.5 720.3V734.7M287.5 718.8V735.0M288.5 717.5V735.6M289.5 719.0V735.0M290.5 718.6V736.9M291.5 718.1V735.3M292.5 716.8V734.4M293.5 719.6V735.0M294.5 716.5V735.8M295.5 718.3V734.0M296.5 717.7V733.8M297.5 720.8V733.7M298.5 720.8V734.3M299.5 719.7V734.7M300.5 721.2V734.9M301.5 719.1V735.1M302.5 720.5V735.1M303.5 719.1V734.9M304.5 720.0V735.3M305.5 721.5V734.5M306.5 720.5V735.8M307.5 720.3V735.9M308.5 718.1V734.8M309.5 713.9V734.4M310.5 718.1V734.8M311.5 718.7V734.6M312.5 717.7V735.4M313.5 715.5V735.0M314.5 716.0V736.0M315.5 720.3V736.4M316.5 717.5V734.8M317.5 718.8V734.8M318.5 719.5V734.3M319.5 716.7V734.1M320.5 717.9V734.3M321.5 713.9V734.3M322.5 718.8V735.3M323.5 718.0V735.5M324.5 719.4V735.3M325.5 713.6V735.5M326.5 720.1V735.0M327.5 719.1V735.0M328.5 715.6V734.9M329.5 718.2V734.8M330.5 719.1V734.8M331.5 716.2V735.3M332.5 717.7V734.1M333.5 720.2V734.8M334.5 719.8V736.2M335.5 718.1V735.4M336.5 715.5V734.5M337.5 718.0V734.9M338.5 716.6V734.6M339.5 719.7V735.2M340.5 720.0V736.4M341.5 718.9V734.4M342.5 718.4V734.2M343.5 718.0V734.0M344.5 720.1V735.7M345.5 719.9V733.6M346.5 720.5V734.4M347.5 715.2V735.3M348.5 716.8V734.1M349.5 720.6V735.0M350.5 718.0V733.9M351.5 719.3V734.0M352.5 714.4V734.7M353.5 717.9V736.6M354.5 718.6V734.7M355.5 720.0V734.9M356.5 718.5V735.7M357.5 719.1V735.0M358.5 719.4V736.3M359.5 717.0V734.5M360.5 720.2V734.4M361.5 718.2V734.6M362.5 719.4V734.2M363.5 719.8V734.1M364.5 719.2V733.7M365.5 718.3V734.3M366.5 718.7V735.2M367.5 717.2V734.3M368.5 720.5V734.3M369.5 716.1V734.6M370.5 721.0V734.4M371.5 719.8V734.8M372.5 719.0V735.1M373.5 718.0V735.0M374.5 717.0V735.8M375.5 720.1V734.2M376.5 720.2V734.3M377.5 718.7V733.9M378.5 718.7V734.4M379.5 720.3V734.0M380.5 718.4V734.7M381.5 716.4V735.4M382.5 717.7V736.1M383.5 717.8V734.8M384.5 719.7V735.4M385.5 718.5V734.4M386.5 718.2V734.2M387.5 721.0V735.2M388.5 720.3V734.0M389.5 719.8V734.4M390.5 719.2V734.3M391.5 720.4V736.0M392.5 720.0V734.2M393.5 720.0V734.5M394.5 719.3V734.7M395.5 718.2V734.3M396.5 720.7V735.9M397.5 719.8V733.6M398.5 720.0V734.1M399.5 719.2V734.2M400.5 720.5V734.3M401.5 718.9V734.5M402.5 719.1V734.5M403.5 719.8V734.9M404.5 718.7V735.0M405.5 720.1V736.1M406.5 720.1V734.1M407.5 719.7V734.2M408.5 717.4V734.7M409.5 720.3V734.4M410.5 719.8V734.6M411.5 719.3V735.4M412.5 715.3V735.6M413.5 718.2V735.1M414.5 719.8V735.0M415.5 713.9V736.5M416.5 720.4V735.9M417.5 718.1V734.5M418.5 718.7V734.8M419.5 717.5V735.4M420.5 720.2V735.7M421.5 719.5V735.1M422.5 717.5V734.8M423.5 712.8V735.6M424.5 716.8V735.4M425.5 719.0V735.8M426.5 716.9V735.4M427.5 719.7V735.6M428.5 719.2V736.8M429.5 717.4V735.1M430.5 717.3V735.4M431.5 718.6V735.1M432.5 719.5V735.0M433.5 719.9V735.0M434.5 719.3V734.9M435.5 718.8V734.6M436.5 718.4V735.1M437.5 718.4V735.2M438.5 720.2V736.0M439.5 719.1V734.0M440.5 713.5V734.7M441.5 718.8V734.5M442.5 718.6V734.7M443.5 716.9V734.8M444.5 718.2V736.3M445.5 719.5V736.2M446.5 718.8V737.0M447.5 718.5V736.0M448.5 718.9V735.0M449.5 717.5V735.9M450.5 719.3V734.7M451.5 718.9V736.8M452.5 711.4V735.4M453.5 716.9V734.4M454.5 718.3V734.2M455.5 718.3V735.2M456.5 719.0V735.5M457.5 718.6V735.1M458.5 719.0V735.1M459.5 714.0V735.4M460.5 718.4V734.7M461.5 717.0V734.6M462.5 718.0V733.7M463.5 719.4V734.8M464.5 718.9V735.0M465.5 720.1V735.7M466.5 718.5V737.8M467.5 720.1V735.3M468.5 719.8V734.5M469.5 717.3V734.4M470.5 716.0V735.3M471.5 719.0V735.1M472.5 719.7V736.3M473.5 720.0V736.5M474.5 718.1V735.8M475.5 718.2V735.5M476.5 713.2V734.9M477.5 718.6V735.0M478.5 719.5V734.2M479.5 719.7V736.1M480.5 718.3V734.6M481.5 718.6V734.6M482.5 709.9V734.5M483.5 719.6V734.2M484.5 720.0V734.1M485.5 720.5V734.4M486.5 716.3V734.2M487.5 718.3V734.7M488.5 719.7V734.7M489.5 719.1V736.2M490.5 720.6V735.2M491.5 719.4V735.1M492.5 720.1V735.7M493.5 719.7V735.5M494.5 714.7V733.8M495.5 712.4V734.3M496.5 717.8V735.1M497.5 717.8V737.0M498.5 718.6V734.2M499.5 720.4V734.6M500.5 718.4V736.2M501.5 719.6V734.7M502.5 718.0V733.8M503.5 719.1V734.8M504.5 719.2V734.5M505.5 719.9V735.1M506.5 719.8V734.5M507.5 719.5V735.0M508.5 718.3V736.6M509.5 717.8V735.5M510.5 719.8V735.3M511.5 717.3V734.5M512.5 716.6V734.7M513.5 716.1V734.9M514.5 719.8V734.3M515.5 718.6V735.1M516.5 718.4V735.7M517.5 720.5V735.5M518.5 717.8V734.7M519.5 718.9V734.2M520.5 720.2V734.2M521.5 720.5V735.3M522.5 715.2V734.3M523.5 718.0V735.1M524.5 718.7V734.4M525.5 719.6V735.9M526.5 718.4V735.3M527.5 718.8V734.4M528.5 717.7V734.2M529.5 717.4V733.8M530.5 719.9V733.9M531.5 720.0V734.8M532.5 713.7V734.5M533.5 717.5V733.9M534.5 719.9V733.8M535.5 718.7V736.0M536.5 720.0V733.3M537.5 720.3V734.4M538.5 717.8V733.7M539.5 719.1V735.0M540.5 719.5V734.7M541.5 719.1V735.4M542.5 720.2V734.7M543.5 720.1V735.4M544.5 718.5V734.6M545.5 718.8V734.8M546.5 720.3V735.4M547.5 720.1V735.0M548.5 720.2V734.5M549.5 717.2V735.2M550.5 719.9V734.4M551.5 716.8V736.1M552.5 719.8V735.0M553.5 718.6V735.4M554.5 720.4V735.2M555.5 718.0V734.8M556.5 717.4V735.1M557.5 718.7V734.8M558.5 719.5V735.0M559.5 719.9V733.2M560.5 720.0V733.3M561.5 719.4V735.5M562.5 717.1V734.7M563.5 717.4V735.1M564.5 717.5V734.9M565.5 718.7V735.3M566.5 717.9V734.9M567.5 717.9V734.5M568.5 717.9V734.1M569.5 718.7V734.7M570.5 718.1V733.9M571.5 720.6V733.6M572.5 717.3V734.2M573.5 718.8V733.9M574.5 719.8V734.1M575.5 718.9V734.5M576.5 720.1V735.1M577.5 717.3V735.3M578.5 717.0V735.9M579.5 720.3V735.7M580.5 720.3V735.0M581.5 718.2V734.6M582.5 720.0V735.0M583.5 719.2V736.6M584.5 717.6V735.4M585.5 720.2V734.8M586.5 718.7V735.5M587.5 719.9V734.0M588.5 719.4V734.4M589.5 719.5V735.9M590.5 720.6V736.6M591.5 720.4V734.6M592.5 715.6V733.9M593.5 718.4V734.5M594.5 719.9V735.0M595.5 717.7V734.3M596.5 719.2V733.9M597.5 719.0V734.4M598.5 718.2V733.6M599.5 717.9V735.8M600.5 716.9V734.8M601.5 718.4V734.7M602.5 720.1V734.4M603.5 715.7V735.5M604.5 721.1V733.9M605.5 719.7V734.0M606.5 720.0V734.7M607.5 717.8V734.5M608.5 717.9V734.5M609.5 718.1V734.4M610.5 720.0V734.9M611.5 719.7V734.7M612.5 719.6V734.3M613.5 717.1V733.9M614.5 719.5V734.3M615.5 717.8V734.5M616.5 713.3V733.3M617.5 720.7V733.6M618.5 718.8V735.1M619.5 719.2V734.6M620.5 719.9V734.6M621.5 719.2V734.8M622.5 718.6V734.8M623.5 718.0V735.1M624.5 719.7V734.9M625.5 719.6V734.5M626.5 718.6V734.7M627.5 718.5V736.2M628.5 717.4V734.2M629.5 716.7V734.3M630.5 720.3V733.9M631.5 716.8V736.9M632.5 714.8V734.5M633.5 717.4V734.6M634.5 718.3V735.3M635.5 719.9V735.2M636.5 717.7V736.1M637.5 720.4V734.7M638.5 719.5V734.1M639.5 717.8V733.5M640.5 717.9V733.1M641.5 718.6V732.6M642.5 718.9V733.1M643.5 716.0V734.6M644.5 718.8V735.1M645.5 716.5V736.2" stroke="#0000ff" stroke-opacity="0.3" stroke-width="1" fill="none"/>
<path d="M43.5 720.4V735.6M44.5 718.3V735.3M45.5 719.1V734.1M46.5 720.2V734.7M47.5 719.8V734.3M48.5 719.0V735.0M49.5 720.9V734.4M50.5 720.3V734.3M51.5 719.5V734.4M52.5 721.2V734.4M53.5 720.0V734.3M54.5 719.6V734.5M55.5 718.3V734.4M56.5 717.6V734.8M57.5 719.8V735.2M58.5 718.7V735.7M59.5 720.4V735.2M60.5 719.4V735.8M61.5 719.3V734.8M62.5 719.2V736.2M63.5 720.1V736.2M64.5 719.4V735.8M65.5 717.6V735.4M66.5 719.9V735.2M67.5 720.0V734.7M68.5 718.6V735.9M69.5 719.7V733.7M70.5 719.5V733.8M71.5 720.3V734.4M72.5 718.5V735.6M73.5 720.3V735.1M74.5 718.9V734.6M75.5 719.5V735.5M76.5 715.0V734.6M77.5 718.9V734.8M78.5 719.4V734.8M79.5 719.4V735.1M80.5 718.1V734.8M81.5 719.0V734.4M82.5 720.0V734.9M83.5 719.5V734.5M84.5 718.2V734.7M85.5 718.8V735.2M86.5 719.3V734.7M87.5 718.9V734.9M88.5 719.5V734.6M89.5 717.6V734.0M90.5 720.7V734.8M91.5 718.1V733.8M92.5 719.7V734.5M93.5 718.5V736.0M94.5 720.0V734.9M95.5 717.5V735.1M96.5 716.9V735.4M97.5 718.8V734.6M98.5 719.4V733.8M99.5 718.7V733.5M100.5 720.1V733.8M101.5 719.7V733.6M102.5 719.8V733.9M103.5 719.0V734.5M104.5 719.7V734.2M105.5 718.7V733.9M106.5 718.4V734.1M107.5 718.9V733.6M108.5 718.6V734.8M109.5 720.7V735.1M110.5 720.1V735.5M111.5 719.3V734.4M112.5 719.5V734.5M113.5 718.4V734.5M114.5 719.8V734.3M115.5 719.4V735.0M116.5 720.1V734.8M117.5 720.4V734.0M118.5 719.7V733.9M119.5 719.2V734.2M120.5 719.9V734.5M121.5 718.3V735.3M122.5 718.4V735.1M123.5 717.8V734.7M124.5 719.7V733.9M125.5 718.3V733.4M126.5 718.1V733.3M127.5 719.4V733.5M128.5 719.8V733.9M129.5 720.4V733.7M130.5 719.2V733.9M131.5 720.9V734.6M132.5 720.4V734.6M133.5 716.8V735.5M134.5 718.3V734.9M135.5 718.5V735.1M136.5 719.8V734.8M137.5 720.2V734.6M138.5 718.8V735.4M139.5 719.0V735.0M140.5 719.3V734.5M141.5 719.6V734.9M142.5 719.6V735.4M143.5 719.4V734.5M144.5 718.4V735.3M145.5 718.5V734.8M146.5 720.1V734.0M147.5 719.0V733.9M148.5 719.6V734.4M149.5 719.9V734.5M150.5 719.3V733.4M151.5 717.5V733.5M152.5 718.7V734.0M153.5 719.1V734.0M154.5 721.1V735.0M155.5 719.0V735.0M156.5 719.4V736.1M157.5 716.8V736.7M158.5 718.2V735.9M159.5 718.1V737.9M160.5 720.4V736.7M161.5 715.5V737.5M162.5 715.9V736.9M163.5 720.4V735.8M164.5 719.7V735.7M165.5 718.4V734.7M166.5 719.4V733.9M167.5 719.6V734.5M168.5 719.6V734.2M169.5 718.8V734.3M170.5 720.4V734.2M171.5 718.9V734.7M172.5 718.9V735.7M173.5 719.8V734.3M174.5 719.6V734.2M175.5 718.0V735.0M176.5 719.9V734.5M177.5 717.3V734.7M178.5 717.1V735.2M179.5 720.4V735.3M180.5 720.5V735.2M181.5 720.4V735.1M182.5 718.7V734.5M183.5 720.5V733.8M184.5 717.5V733.7M185.5 719.5V735.0M186.5 719.4V734.2M187.5 718.5V734.5M188.5 720.0V734.8M189.5 719.7V734.2M190.5 719.9V734.6M191.5 719.2V735.2M192.5 717.2V734.6M193.5 720.3V734.3M194.5 719.5V734.6M195.5 720.5V733.9M196.5 719.7V734.5M197.5 719.7V734.5M198.5 720.1V734.9M199.5 719.1V734.6M200.5 720.1V735.8M201.5 719.6V735.3M202.5 719.8V734.8M203.5 718.2V734.2M204.5 718.2V733.9M205.5 718.6V734.0M206.5 718.4V734.6M207.5 719.6V734.3M208.5 719.5V734.3M209.5 720.0V733.9M210.5 719.2V734.4M211.5 720.7V734.9M212.5 718.9V734.8M213.5 719.8V734.7M214.5 719.9V734.3M215.5 718.5V734.6M216.5 719.9V734.4M217.5 718.7V735.8M218.5 720.6V734.4M219.5 718.5V734.2M220.5 720.4V736.1M221.5 720.7V735.4M222.5 717.8V734.7M223.5 719.5V735.3M224.5 720.3V734.7M225.5 720.0V735.6M226.5 717.1V735.3M227.5 719.3V735.3M228.5 718.3V735.0M229.5 717.7V734.7M230.5 717.8V734.9M231.5 721.4V735.1M232.5 718.8V735.8M233.5 721.0V734.8M234.5 720.3V734.7M235.5 718.6V735.5M236.5 719.0V735.5M237.5 717.3V735.9M238.5 719.5V736.0M239.5 717.9V736.5M240.5 716.0V735.4M241.5 718.2V735.7M242.5 718.5V736.6M243.5 719.8V736.1M244.5 717.3V736.0M245.5 718.9V736.6M246.5 719.7V736.6M247.5 719.0V735.1M248.5 719.4V735.2M249.5 716.7V736.4M250.5 718.5V736.9M251.5 716.3V736.1M252.5 718.4V737.2M253.5 717.5V736.1M254.5 717.5V735.6M255.5 718.7V736.9M256.5 718.5V736.1M257.5 717.3V735.4M258.5 718.4V735.7M259.5 719.0V736.2M260.5 718.0V735.4M261.5 719.1V735.0M262.5 717.7V734.0M263.5 716.2V734.9M264.5 719.5V734.3M265.5 719.4V734.4M266.5 718.8V735.1M267.5 720.5V734.4M268.5 720.7V734.1M269.5 720.8V733.9M270.5 719.5V735.1M271.5 718.8V736.4M272.5 718.5V734.6M273.5 717.2V734.6M274.5 718.2V735.6M275.5 719.0V735.8M276.5 719.2V736.0M277.5 718.7V736.2M278.5 715.9V735.8M279.5 718.2V736.6M280.5 719.2V735.7M281.5 720.1V735.7M282.5 720.0V736.7M283.5 719.9V735.1M284.5 718.8V734.7M285.5 719.5V734.9M286.5 720.3V734.7M287.5 718.8V735.0M288.5 717.8V735.6M289.5 719.0V735.0M290.5 718.6V734.9M291.5 718.1V735.3M292.5 719.9V734.4M293.5 719.6V734.2M294.5 719.4V734.7M295.5 718.3V734.0M296.5 717.7V733.3M297.5 720.8V733.7M298.5 720.9V734.3M299.5 719.7V734.7M300.5 721.2V734.9M301.5 719.1V735.1M302.5 720.5V735.1M303.5 719.1V734.8M304.5 720.0V735.3M305.5 721.5V734.5M306.5 720.5V735.1M307.5 720.3V735.9M308.5 718.1V734.7M309.5 716.7V734.4M310.5 718.1V734.8M311.5 718.7V734.6M312.5 717.7V735.4M313.5 716.5V735.0M314.5 718.9V736.0M315.5 720.3V734.9M316.5 717.5V734.8M317.5 718.8V734.8M318.5 719.5V734.3M319.5 717.9V734.0M320.5 717.9V734.3M321.5 720.3V734.3M322.5 718.8V735.3M323.5 720.1V734.9M324.5 719.4V735.3M325.5 718.4V735.5M326.5 720.1V735.0M327.5 719.1V735.0M328.5 718.7V734.9M329.5 718.2V734.8M330.5 719.7V734.8M331.5 716.3V735.3M332.5 717.7V734.1M333.5 720.2V734.4M334.5 720.0V734.4M335.5 718.1V735.4M336.5 718.1V734.5M337.5 718.4V734.6M338.5 716.6V734.6M339.5 719.8V735.2M340.5 720.0V735.0M341.5 719.8V734.4M342.5 718.4V734.2M343.5 718.0V734.0M344.5 720.1V734.3M345.5 719.9V733.6M346.5 720.5V734.2M347.5 720.2V735.3M348.5 718.8V734.1M349.5 720.6V734.8M350.5 718.0V733.9M351.5 719.3V734.0M352.5 719.7V734.7M353.5 717.9V734.9M354.5 718.6V734.7M355.5 720.0V734.9M356.5 718.9V735.7M357.5 719.1V735.0M358.5 720.2V736.0M359.5 720.1V734.3M360.5 720.2V734.4M361.5 718.2V734.6M362.5 719.4V734.2M363.5 719.8V734.1M364.5 719.2V733.7M365.5 718.3V734.3M366.5 720.0V735.2M367.5 718.4V734.3M368.5 720.5V734.3M369.5 716.1V734.6M370.5 721.0V734.4M371.5 719.8V734.8M372.5 719.0V735.1M373.5 718.0V735.0M374.5 717.1V735.0M375.5 720.1V734.2M376.5 720.2V734.3M377.5 718.7V733.9M378.5 718.7V734.4M379.5 720.3V734.0M380.5 718.4V734.7M381.5 717.0V735.4M382.5 719.0V734.5M383.5 717.8V734.8M384.5 719.7V735.4M385.5 718.5V734.4M386.5 721.2V734.2M387.5 721.0V735.1M388.5 720.3V734.0M389.5 720.7V734.4M390.5 719.2V734.1M391.5 720.4V736.0M392.5 720.4V734.2M393.5 720.0V734.5M394.5 719.3V734.6M395.5 718.2V734.0M396.5 720.7V734.9M397.5 719.8V733.6M398.5 720.0V734.1M399.5 719.2V734.2M400.5 720.5V734.3M401.5 718.9V734.5M402.5 719.1V734.5M403.5 719.8V734.9M404.5 718.7V734.7M405.5 720.1V736.1M406.5 720.1V734.1M407.5 719.9V734.2M408.5 718.3V734.7M409.5 720.3V734.4M410.5 719.8V734.6M411.5 719.3V735.4M412.5 719.7V735.6M413.5 718.2V735.1M414.5 719.9V735.0M415.5 717.2V736.5M416.5 720.4V735.9M417.5 718.1V734.5M418.5 718.7V734.5M419.5 717.5V735.1M420.5 720.2V735.7M421.5 719.5V735.1M422.5 717.5V734.8M423.5 715.5V735.0M424.5 718.4V734.8M425.5 719.0V735.8M426.5 716.9V735.4M427.5 719.7V735.6M428.5 719.2V735.1M429.5 718.8V734.6M430.5 717.3V735.4M431.5 718.6V735.1M432.5 719.5V735.0M433.5 720.1V735.0M434.5 719.3V734.9M435.5 718.8V734.6M436.5 718.4V735.1M437.5 719.2V734.7M438.5 720.2V735.1M439.5 719.1V734.0M440.5 713.5V734.7M441.5 718.8V734.5M442.5 718.6V734.7M443.5 716.9V734.3M444.5 718.2V735.5M445.5 719.5V736.2M446.5 718.8V737.0M447.5 718.5V735.5M448.5 718.9V735.0M449.5 717.5V734.4M450.5 719.3V734.7M451.5 718.9V736.8M452.5 717.2V735.4M453.5 716.9V734.4M454.5 718.3V734.2M455.5 718.3V735.2M456.5 719.0V735.5M457.5 719.3V735.1M458.5 719.0V734.8M459.5 715.8V734.7M460.5 718.4V734.7M461.5 717.0V734.6M462.5 719.0V733.7M463.5 719.4V734.8M464.5 720.4V735.0M465.5 720.1V735.7M466.5 719.4V737.4M467.5 720.1V735.3M468.5 719.8V734.5M469.5 717.3V734.4M470.5 719.4V735.3M471.5 719.0V735.1M472.5 719.7V735.4M473.5 720.0V736.5M474.5 720.3V735.8M475.5 718.2V735.5M476.5 718.2V734.9M477.5 718.6V735.0M478.5 719.5V734.2M479.5 719.7V735.3M480.5 718.3V734.6M481.5 718.6V734.6M482.5 717.1V734.5M483.5 719.6V734.2M484.5 720.0V734.1M485.5 720.5V734.4M486.5 716.3V734.2M487.5 718.3V734.7M488.5 719.7V734.7M489.5 719.1V736.1M490.5 720.6V735.2M491.5 719.4V735.1M492.5 720.1V735.7M493.5 719.7V735.5M494.5 720.0V733.8M495.5 717.9V734.3M496.5 717.8V735.1M497.5 719.4V735.1M498.5 718.6V734.2M499.5 720.4V734.6M500.5 718.7V734.2M501.5 719.6V734.7M502.5 718.0V733.8M503.5 719.3V734.8M504.5 719.2V734.5M505.5 719.9V734.5M506.5 719.8V734.4M507.5 719.5V735.0M508.5 718.3V735.8M509.5 717.8V735.5M510.5 719.8V735.3M511.5 717.3V734.5M512.5 716.6V734.7M513.5 716.1V734.8M514.5 719.8V734.0M515.5 718.6V735.1M516.5 718.4V735.7M517.5 720.5V735.0M518.5 718.0V734.7M519.5 718.9V734.2M520.5 720.2V734.2M521.5 720.5V735.3M522.5 718.9V734.3M523.5 718.0V735.1M524.5 718.7V734.4M525.5 719.6V734.5M526.5 718.4V735.3M527.5 718.8V734.4M528.5 717.7V734.2M529.5 717.4V733.8M530.5 719.9V733.9M531.5 720.0V734.8M532.5 720.1V734.5M533.5 717.5V733.8M534.5 719.9V733.8M535.5 718.7V733.3M536.5 720.1V733.3M537.5 720.5V733.6M538.5 717.8V733.7M539.5 719.1V735.0M540.5 719.5V734.7M541.5 720.1V735.4M542.5 720.2V734.7M543.5 720.1V735.4M544.5 718.5V734.6M545.5 719.5V734.8M546.5 720.3V734.3M547.5 720.1V735.0M548.5 720.2V734.5M549.5 719.0V735.2M550.5 719.9V734.4M551.5 718.6V736.1M552.5 719.8V735.0M553.5 718.6V735.4M554.5 720.4V735.2M555.5 718.0V734.8M556.5 718.9V734.5M557.5 718.7V734.2M558.5 719.5V735.0M559.5 719.9V733.2M560.5 720.0V733.3M561.5 719.4V733.9M562.5 717.1V734.7M563.5 717.4V735.1M564.5 718.9V734.5M565.5 718.7V735.3M566.5 717.9V734.9M567.5 719.4V734.5M568.5 717.9V734.1M569.5 718.7V734.7M570.5 718.1V733.9M571.5 720.6V733.6M572.5 717.3V734.2M573.5 719.0V733.9M574.5 719.8V734.1M575.5 718.9V734.5M576.5 720.1V735.0M577.5 717.3V735.3M578.5 719.4V735.9M579.5 720.3V735.7M580.5 720.3V735.0M581.5 718.2V734.6M582.5 720.0V735.0M583.5 719.2V735.8M584.5 718.9V735.4M585.5 720.2V734.6M586.5 718.7V735.5M587.5 719.9V734.0M588.5 719.4V734.3M589.5 719.5V735.9M590.5 720.6V735.3M591.5 720.4V734.6M592.5 716.9V733.8M593.5 718.4V734.5M594.5 719.9V734.2M595.5 717.7V734.3M596.5 719.9V733.9M597.5 719.0V734.4M598.5 718.2V733.6M599.5 718.1V733.7M600.5 718.6V734.8M601.5 718.7V734.7M602.5 720.1V734.4M603.5 716.8V734.3M604.5 721.1V733.9M605.5 719.7V734.0M606.5 720.0V734.3M607.5 717.8V734.5M608.5 717.9V734.5M609.5 718.7V734.4M610.5 720.0V734.9M611.5 719.7V734.7M612.5 719.6V734.2M613.5 717.1V733.9M614.5 719.5V734.3M615.5 718.8V734.5M616.5 717.8V733.3M617.5 720.7V733.6M618.5 718.8V734.6M619.5 721.0V734.6M620.5 720.2V734.6M621.5 719.8V734.8M622.5 718.6V734.8M623.5 718.0V735.1M624.5 719.7V734.9M625.5 719.6V734.4M626.5 718.6V734.7M627.5 718.5V734.5M628.5 719.3V734.2M629.5 716.7V734.3M630.5 720.3V733.9M631.5 718.9V734.8M632.5 719.9V734.5M633.5 719.1V734.6M634.5 718.3V735.3M635.5 719.9V735.2M636.5 720.5V736.1M637.5 720.4V734.7M638.5 719.5V734.1M639.5 717.8V733.5M640.5 717.9V733.1M641.5 718.6V732.6M642.5 718.9V733.1M643.5 717.3V734.6M644.5 718.8V735.1M645.5 717.3V734.7" stroke="#0000ff" stroke-opacity="0.55" stroke-width="1" fill="none"/>
<path d="M43.5 721.3V734.3M44.5 721.1V733.9M45.5 720.6V733.6M46.5 720.5V733.6M47.5 720.8V733.9M48.5 721.0V734.2M49.5 721.0V734.2M50.5 721.0V734.2M51.5 721.3V734.2M52.5 721.6V734.2M53.5 721.3V734.2M54.5 720.8V734.2M55.5 720.4V734.0M56.5 720.2V734.3M57.5 720.2V734.8M58.5 720.5V735.1M59.5 720.7V734.9M60.5 720.4V734.6M61.5 720.3V734.7M62.5 720.3V735.1M63.5 720.2V735.3M64.5 720.3V735.2M65.5 720.6V734.9M66.5 720.9V734.8M67.5 720.9V734.6M68.5 720.8V734.2M69.5 720.7V733.6M70.5 720.6V733.6M71.5 720.7V733.9M72.5 720.8V734.3M73.5 720.8V734.4M74.5 720.7V734.3M75.5 720.2V734.2M76.5 719.7V734.3M77.5 719.6V734.4M78.5 719.8V734.5M79.5 720.1V734.4M80.5 720.2V734.3M81.5 720.2V734.2M82.5 720.2V734.2M83.5 720.1V734.3M84.5 720.0V734.5M85.5 719.9V734.5M86.5 719.9V734.3M87.5 720.1V734.0M88.5 720.5V733.9M89.5 720.8V733.9M90.5 721.0V733.9M91.5 721.0V733.8M92.5 720.8V733.6M93.5 720.5V733.7M94.5 720.3V734.0M95.5 719.9V734.3M96.5 719.7V734.4M97.5 719.8V734.1M98.5 720.1V733.6M99.5 720.7V733.3M100.5 720.9V733.2M101.5 720.8V733.3M102.5 720.8V733.7M103.5 720.9V734.1M104.5 720.9V734.0M105.5 720.9V733.8M106.5 720.9V733.6M107.5 721.0V733.5M108.5 721.0V733.7M109.5 720.9V734.0M110.5 720.7V734.3M111.5 720.2V734.3M112.5 719.6V734.2M113.5 719.4V734.1M114.5 719.8V734.1M115.5 720.3V734.1M116.5 720.5V734.0M117.5 720.5V733.9M118.5 720.1V733.8M119.5 720.0V733.8M120.5 720.0V734.1M121.5 720.0V734.4M122.5 720.0V734.6M123.5 720.2V734.4M124.5 720.4V733.8M125.5 720.4V733.2M126.5 720.4V733.1M127.5 720.8V733.3M128.5 721.1V733.6M129.5 721.0V733.6M130.5 720.9V733.5M131.5 721.0V733.6M132.5 721.0V734.0M133.5 720.7V734.4M134.5 720.4V734.6M135.5 720.5V734.6M136.5 720.7V734.6M137.5 720.6V734.4M138.5 720.2V734.1M139.5 719.9V733.9M140.5 719.9V734.0M141.5 719.9V734.4M142.5 719.6V734.6M143.5 719.7V734.4M144.5 720.2V734.0M145.5 720.7V733.6M146.5 720.9V733.5M147.5 720.9V733.7M148.5 721.1V733.9M149.5 721.1V733.6M150.5 721.0V733.2M151.5 720.9V733.4M152.5 720.8V733.7M153.5 721.0V733.8M154.5 721.2V733.9M155.5 721.0V734.3M156.5 720.3V734.9M157.5 719.6V735.4M158.5 719.7V735.7M159.5 720.4V736.0M160.5 720.8V736.1M161.5 720.6V736.3M162.5 720.4V735.9M163.5 720.6V735.0M164.5 720.7V734.2M165.5 720.5V733.9M166.5 720.0V733.9M167.5 719.8V733.9M168.5 720.0V734.0M169.5 720.4V734.1M170.5 720.6V734.2M171.5 720.6V734.2M172.5 720.6V734.2M173.5 720.5V734.2M174.5 720.2V734.1M175.5 720.0V734.3M176.5 719.9V734.5M177.5 720.0V734.5M178.5 720.2V734.6M179.5 720.7V734.6M180.5 721.2V734.6M181.5 721.3V734.4M182.5 720.9V734.0M183.5 720.5V733.7M184.5 720.3V733.6M185.5 720.4V733.8M186.5 720.6V734.1M187.5 720.5V734.3M188.5 720.2V734.2M189.5 720.2V734.1M190.5 720.2V734.3M191.5 720.1V734.7M192.5 720.1V734.6M193.5 720.5V734.2M194.5 720.8V733.8M195.5 720.7V733.9M196.5 720.3V734.2M197.5 720.3V734.5M198.5 720.6V734.6M199.5 720.9V734.4M200.5 720.9V734.3M201.5 720.7V734.2M202.5 720.4V734.0M203.5 720.4V733.9M204.5 720.3V733.9M205.5 720.2V733.9M206.5 720.2V733.8M207.5 720.3V733.6M208.5 720.4V733.4M209.5 720.2V733.6M210.5 720.3V733.9M211.5 720.7V733.9M212.5 720.9V733.8M213.5 720.8V733.9M214.5 720.9V734.2M215.5 721.1V734.3M216.5 721.1V734.3M217.5 720.8V734.3M218.5 720.7V734.2M219.5 720.9V734.2M220.5 721.2V734.2M221.5 721.1V734.4M222.5 720.6V734.6M223.5 720.3V734.5M224.5 720.4V734.4M225.5 720.4V734.7M226.5 720.4V735.1M227.5 720.2V735.0M228.5 720.0V734.7M229.5 720.2V734.5M230.5 720.8V734.6M231.5 721.4V734.7M232.5 721.7V734.6M233.5 721.4V734.3M234.5 720.6V734.4M235.5 719.9V734.9M236.5 719.5V735.3M237.5 719.6V735.4M238.5 719.8V735.2M239.5 719.8V735.2M240.5 719.5V735.0M241.5 719.6V734.7M242.5 719.8V734.8M243.5 719.9V735.0M244.5 719.9V735.2M245.5 719.9V735.3M246.5 719.9V735.1M247.5 720.1V734.7M248.5 719.9V734.6M249.5 719.6V735.1M250.5 719.6V735.6M251.5 719.5V735.8M252.5 719.4V735.5M253.5 719.3V735.3M254.5 719.1V735.2M255.5 718.9V734.8M256.5 718.6V734.7M257.5 718.5V735.0M258.5 718.8V735.5M259.5 719.3V735.7M260.5 719.7V735.2M261.5 719.8V734.3M262.5 719.5V733.8M263.5 719.3V733.8M264.5 719.6V733.9M265.5 719.8V734.2M266.5 720.2V734.3M267.5 720.7V734.1M268.5 720.9V733.6M269.5 720.9V733.5M270.5 720.9V734.1M271.5 720.6V734.7M272.5 719.9V734.5M273.5 719.5V734.1M274.5 719.5V734.3M275.5 719.9V734.9M276.5 720.2V735.4M277.5 720.1V735.4M278.5 720.0V735.2M279.5 720.1V735.1M280.5 720.2V734.9M281.5 720.3V734.9M282.5 720.5V734.8M283.5 720.8V734.3M284.5 720.9V733.8M285.5 720.9V733.6M286.5 720.6V733.8M287.5 720.4V734.1M288.5 720.3V734.2M289.5 720.4V734.4M290.5 720.4V734.8M291.5 720.3V734.7M292.5 720.4V734.1M293.5 720.4V733.6M294.5 720.3V733.5M295.5 720.4V733.4M296.5 720.6V733.3M297.5 720.9V733.5M298.5 721.1V733.8M299.5 721.3V734.0M300.5 721.3V734.1M301.5 721.1V734.4M302.5 720.8V734.8M303.5 720.7V734.7M304.5 721.2V734.5M305.5 721.6V734.5M306.5 721.3V734.6M307.5 720.7V734.7M308.5 720.4V734.7M309.5 720.2V734.4M310.5 720.1V734.2M311.5 719.8V734.4M312.5 719.7V734.7M313.5 719.8V734.6M314.5 720.2V734.3M315.5 720.7V734.1M316.5 720.9V733.9M317.5 720.8V733.8M318.5 720.3V733.7M319.5 719.7V733.8M320.5 719.8V733.9M321.5 720.3V734.0M322.5 720.7V734.1M323.5 720.6V734.3M324.5 720.4V734.5M325.5 720.2V734.7M326.5 720.2V734.8M327.5 720.6V734.8M328.5 720.8V734.6M329.5 720.6V734.4M330.5 720.5V734.2M331.5 720.4V734.0M332.5 720.5V733.9M333.5 720.9V734.1M334.5 721.2V734.2M335.5 720.9V734.2M336.5 720.4V734.1M337.5 720.0V734.1M338.5 720.1V734.2M339.5 720.3V734.2M340.5 720.2V734.2M341.5 720.1V734.3M342.5 720.0V734.1M343.5 720.1V733.6M344.5 720.2V733.3M345.5 720.4V733.3M346.5 720.5V733.5M347.5 720.7V733.9M348.5 720.8V734.1M349.5 720.8V733.8M350.5 720.8V733.5M351.5 720.7V733.7M352.5 720.6V734.2M353.5 720.6V734.5M354.5 720.6V734.5M355.5 720.5V734.5M356.5 720.2V734.6M357.5 720.2V734.7M358.5 720.4V734.6M359.5 720.6V734.1M360.5 720.5V733.8M361.5 720.5V733.8M362.5 720.6V733.8M363.5 720.6V733.7M364.5 720.5V733.7M365.5 720.4V733.8M366.5 720.5V733.9M367.5 720.9V733.9M368.5 721.4V733.7M369.5 721.5V733.7M370.5 721.1V734.0M371.5 720.3V734.5M372.5 719.9V734.8M373.5 719.8V734.8M374.5 720.0V734.5M375.5 720.2V733.9M376.5 720.6V733.6M377.5 721.0V733.5M378.5 721.2V733.4M379.5 720.9V733.5M380.5 720.4V733.8M381.5 720.0V733.9M382.5 720.1V733.9M383.5 720.3V734.1M384.5 720.5V734.2M385.5 720.8V733.9M386.5 721.2V733.7M387.5 721.4V733.7M388.5 721.4V733.9M389.5 721.2V734.1M390.5 720.9V734.1M391.5 720.7V734.1M392.5 720.6V734.1M393.5 720.6V733.9M394.5 720.6V733.7M395.5 720.7V733.7M396.5 720.8V733.7M397.5 720.8V733.5M398.5 720.7V733.4M399.5 720.8V733.6M400.5 721.0V733.9M401.5 720.9V734.2M402.5 720.7V734.4M403.5 720.4V734.4M404.5 720.2V734.2M405.5 720.2V734.1M406.5 720.2V734.0M407.5 720.2V734.0M408.5 720.2V734.1M409.5 720.4V734.4M410.5 720.5V734.4M411.5 720.3V734.3M412.5 720.2V734.5M413.5 720.2V734.9M414.5 720.3V734.9M415.5 720.5V734.5M416.5 720.7V734.2M417.5 720.7V734.3M418.5 720.5V734.5M419.5 720.2V734.6M420.5 720.2V734.6M421.5 720.4V734.6M422.5 720.4V734.6M423.5 720.0V734.5M424.5 719.5V734.6M425.5 719.5V734.9M426.5 719.9V734.9M427.5 719.9V734.7M428.5 719.8V734.5M429.5 720.1V734.3M430.5 720.3V734.4M431.5 720.2V734.6M432.5 720.2V734.7M433.5 720.3V734.6M434.5 720.4V734.3M435.5 720.6V734.2M436.5 720.8V734.4M437.5 720.8V734.6M438.5 720.6V734.3M439.5 720.2V733.9M440.5 720.1V733.9M441.5 720.2V734.1M442.5 720.2V734.1M443.5 720.0V734.3M444.5 719.9V734.5M445.5 719.9V735.1M446.5 720.0V735.4M447.5 720.1V735.2M448.5 720.1V734.6M449.5 720.2V734.3M450.5 720.1V734.3M451.5 719.9V734.5M452.5 720.0V734.5M453.5 720.3V734.4M454.5 720.4V734.2M455.5 720.2V734.3M456.5 719.9V734.4M457.5 719.9V734.5M458.5 720.1V734.5M459.5 720.3V734.3M460.5 720.3V734.0M461.5 720.3V733.6M462.5 720.5V733.3M463.5 720.7V733.6M464.5 720.7V734.2M465.5 720.5V734.8M466.5 720.5V734.9M467.5 720.4V734.6M468.5 720.0V734.1M469.5 719.8V733.9M470.5 719.9V734.2M471.5 720.2V734.8M472.5 720.5V735.4M473.5 720.7V735.7M474.5 720.5V735.6M475.5 720.0V735.1M476.5 719.8V734.5M477.5 719.9V734.1M478.5 720.0V734.0M479.5 720.1V734.1M480.5 720.3V734.1M481.5 720.5V733.9M482.5 720.6V733.9M483.5 720.8V733.9M484.5 720.7V734.1M485.5 720.6V734.2M486.5 720.7V734.2M487.5 720.8V734.2M488.5 720.8V734.3M489.5 720.7V734.5M490.5 720.8V734.7M491.5 721.1V734.7M492.5 721.1V734.2M493.5 720.8V733.7M494.5 720.7V733.7M495.5 720.6V734.2M496.5 720.4V734.3M497.5 720.4V734.2M498.5 720.5V734.1M499.5 720.6V734.0M500.5 720.5V733.9M501.5 720.0V733.7M502.5 719.5V733.3M503.5 719.4V733.2M504.5 719.6V733.7M505.5 719.9V734.2M506.5 720.1V734.4M507.5 720.3V734.6M508.5 720.5V735.0M509.5 720.5V734.9M510.5 720.4V734.6M511.5 720.1V734.4M512.5 720.1V734.2M513.5 720.4V734.0M514.5 720.7V733.9M515.5 720.8V734.2M516.5 720.9V734.5M517.5 721.0V734.6M518.5 720.8V734.4M519.5 720.6V734.0M520.5 720.8V734.0M521.5 721.1V734.1M522.5 721.0V734.1M523.5 720.6V734.1M524.5 720.4V734.2M525.5 720.4V734.4M526.5 720.4V734.5M527.5 720.4V734.4M528.5 720.3V733.9M529.5 720.2V733.6M530.5 720.1V733.6M531.5 720.2V733.9M532.5 720.5V733.9M533.5 720.7V733.7M534.5 720.7V733.4M535.5 720.6V733.2M536.5 720.6V733.0M537.5 720.7V733.1M538.5 720.7V733.6M539.5 720.6V734.2M540.5 720.6V734.5M541.5 720.7V734.4M542.5 720.6V734.2M543.5 720.3V734.2M544.5 720.3V734.1M545.5 720.5V733.9M546.5 720.7V734.1M547.5 720.6V734.5M548.5 720.3V734.5M549.5 720.1V734.1M550.5 720.2V734.1M551.5 720.6V734.6M552.5 720.9V734.9M553.5 720.8V735.1M554.5 720.4V735.0M555.5 719.9V734.7M556.5 719.6V734.2M557.5 719.7V733.8M558.5 720.0V733.5M559.5 720.2V733.2M560.5 720.2V733.2M561.5 719.9V733.5M562.5 719.7V733.8M563.5 719.7V733.9M564.5 719.8V734.0M565.5 719.9V734.0M566.5 720.1V733.9M567.5 720.2V733.9M568.5 720.2V733.9M569.5 720.5V733.9M570.5 720.8V733.8M571.5 720.7V733.6M572.5 720.5V733.4M573.5 720.3V733.4M574.5 720.2V733.8M575.5 720.4V734.4M576.5 720.4V734.8M577.5 720.3V734.8M578.5 720.3V734.7M579.5 720.6V734.6M580.5 720.7V734.5M581.5 720.4V734.5M582.5 720.1V734.3M583.5 720.1V734.2M584.5 720.3V734.2M585.5 720.3V734.4M586.5 720.4V734.2M587.5 720.7V734.0M588.5 721.0V734.0M589.5 721.0V734.3M590.5 720.7V734.6M591.5 720.4V734.3M592.5 720.2V733.7M593.5 720.2V733.5M594.5 720.3V733.8M595.5 720.4V733.7M596.5 720.3V733.6M597.5 720.0V733.5M598.5 720.0V733.5M599.5 720.0V733.6M600.5 719.9V734.0M601.5 720.0V734.1M602.5 720.2V733.8M603.5 720.7V733.6M604.5 721.2V733.6M605.5 721.0V733.8M606.5 720.7V734.0M607.5 720.6V734.2M608.5 720.4V734.2M609.5 720.3V734.0M610.5 720.5V734.0M611.5 720.7V734.2M612.5 720.5V734.1M613.5 720.2V733.8M614.5 720.4V733.5M615.5 720.7V733.3M616.5 720.9V733.1M617.5 721.1V733.3M618.5 721.2V733.9M619.5 721.2V734.4M620.5 720.9V734.3M621.5 720.4V734.0M622.5 720.0V734.0M623.5 719.9V734.2M624.5 719.9V734.2M625.5 720.0V734.2M626.5 720.2V734.0M627.5 720.5V733.8M628.5 720.6V733.7M629.5 720.6V733.7M630.5 720.5V733.7M631.5 720.5V733.5M632.5 720.2V733.6M633.5 720.0V734.0M634.5 720.2V734.3M635.5 720.5V734.5M636.5 720.5V734.4M637.5 720.4V734.3M638.5 720.4V733.9M639.5 720.4V733.3M640.5 720.2V732.7M641.5 719.9V732.6M642.5 719.5V733.0M643.5 719.2V733.5M644.5 719.3V733.8M645.5 719.4V733.9" stroke="#0000ff" stroke-width="1" fill="none"/>
<path d="M93.5 616.0V738.0M157.5 725.0V761.9M159.5 674.0V812.4M161.5 711.4V750.5M176.5 714.0V761.9M213.5 708.0V748.5M253.5 694.2V764.4M264.5 710.6V787.7M282.5 713.0V730.0M428.5 702.0V790.5M444.5 703.8V783.9M482.5 725.0V758.6M490.5 725.0V748.5M521.5 725.0V750.5M570.5 701.2V741.7M593.5 711.4V783.9M640.5 675.2V743.0" stroke="#0000ff" stroke-opacity="0.4" stroke-width="1" fill="none"/>
<path d="M93.5 676.7V725.0M253.5 725.0V765.0M444.5 735.0V770.0M640.5 690.0V725.0" stroke="#0000ff" stroke-opacity="0.45" stroke-width="1" fill="none"/>
<text x="39.20" y="618.20" text-anchor="end" font-weight="normal" font-size="12.3" >2</text>
<text x="39.20" y="647.34" text-anchor="end" font-weight="normal" font-size="12.3" >1.5</text>
<text x="39.20" y="676.49" text-anchor="end" font-weight="normal" font-size="12.3" >1</text>
<text x="39.20" y="705.63" text-anchor="end" font-weight="normal" font-size="12.3" >0.5</text>
<text x="39.20" y="734.77" text-anchor="end" font-weight="normal" font-size="12.3" >0</text>
<text x="39.20" y="763.91" text-anchor="end" font-weight="normal" font-size="12.3" >-0.5</text>
<text x="39.20" y="793.06" text-anchor="end" font-weight="normal" font-size="12.3" >-1</text>
<text x="39.20" y="822.20" text-anchor="end" font-weight="normal" font-size="12.3" >-1.5</text>
<text x="43.50" y="833.10" text-anchor="middle" font-weight="normal" font-size="12.3" >00:00</text>
<text x="118.75" y="833.10" text-anchor="middle" font-weight="normal" font-size="12.3" >03:00</text>
<text x="194.00" y="833.10" text-anchor="middle" font-weight="normal" font-size="12.3" >06:00</text>
<text x="269.25" y="833.10" text-anchor="middle" font-weight="normal" font-size="12.3" >09:00</text>
<text x="344.50" y="833.10" text-anchor="middle" font-weight="normal" font-size="12.3" >12:00</text>
<text x="419.75" y="833.10" text-anchor="middle" font-weight="normal" font-size="12.3" >15:00</text>
<text x="495.00" y="833.10" text-anchor="middle" font-weight="normal" font-size="12.3" >18:00</text>
<text x="570.25" y="833.10" text-anchor="middle" font-weight="normal" font-size="12.3" >21:00</text>
<text x="645.50" y="833.10" text-anchor="middle" font-weight="normal" font-size="12.3" >00:00</text>
<text transform="translate(9.6 716.00) rotate(-90)" text-anchor="middle" font-weight="bold" font-size="12.3">Z (nT)</text>
<rect x="836.1" y="46.0" width="603.50" height="204.40" fill="rgb(0,0,143)"/>
<rect x="948.00" y="46.00" width="1.0" height="204.40" fill="url(#g1)"/>
<rect x="949.00" y="46.00" width="1.0" height="204.40" fill="url(#g2)"/>
<rect x="950.00" y="46.00" width="1.0" height="204.40" fill="url(#g3)"/>
<rect x="1002.90" y="107.00" width="1.2" height="143.40" fill="url(#g4)"/>
<rect x="1006.70" y="195.00" width="1.0" height="55.40" fill="url(#g5)"/>
<rect x="1016.00" y="156.00" width="1.0" height="94.40" fill="url(#g6)"/>
<rect x="1023.00" y="195.00" width="1.0" height="55.40" fill="url(#g7)"/>
<rect x="1026.90" y="171.00" width="1.0" height="79.40" fill="url(#g8)"/>
<rect x="1028.80" y="201.00" width="1.2" height="49.40" fill="url(#g9)"/>
<rect x="1033.30" y="185.00" width="1.0" height="65.40" fill="url(#g10)"/>
<rect x="1034.20" y="171.00" width="1.2" height="79.40" fill="url(#g11)"/>
<rect x="1035.30" y="175.00" width="1.2" height="75.40" fill="url(#g12)"/>
<rect x="1036.50" y="190.00" width="1.0" height="60.40" fill="url(#g13)"/>
<rect x="1042.00" y="74.00" width="1.2" height="176.40" fill="url(#g14)"/>
<rect x="1047.00" y="195.00" width="1.0" height="55.40" fill="url(#g15)"/>
<rect x="1055.10" y="206.00" width="1.0" height="44.40" fill="url(#g16)"/>
<rect x="1060.20" y="215.00" width="1.0" height="35.40" fill="url(#g17)"/>
<rect x="1065.20" y="180.00" width="1.0" height="70.40" fill="url(#g18)"/>
<rect x="1068.70" y="176.00" width="1.2" height="74.40" fill="url(#g19)"/>
<rect x="1072.10" y="177.00" width="1.2" height="73.40" fill="url(#g20)"/>
<rect x="1093.50" y="222.00" width="1.0" height="28.40" fill="url(#g21)"/>
<rect x="1120.70" y="196.00" width="1.2" height="54.40" fill="url(#g22)"/>
<rect x="1123.80" y="189.00" width="1.0" height="61.40" fill="url(#g23)"/>
<rect x="1129.30" y="191.00" width="1.0" height="59.40" fill="url(#g24)"/>
<rect x="1155.30" y="191.00" width="1.0" height="59.40" fill="url(#g25)"/>
<rect x="1176.30" y="201.00" width="1.0" height="49.40" fill="url(#g26)"/>
<rect x="1179.30" y="204.00" width="1.0" height="46.40" fill="url(#g27)"/>
<rect x="1213.60" y="56.00" width="1.2" height="194.40" fill="url(#g28)"/>
<rect x="1266.95" y="84.00" width="1.3" height="166.40" fill="url(#g29)"/>
<rect x="1274.30" y="205.00" width="1.0" height="45.40" fill="url(#g30)"/>
<rect x="1353.50" y="186.00" width="1.0" height="64.40" fill="url(#g31)"/>
<rect x="1400.00" y="216.00" width="1.0" height="34.40" fill="url(#g32)"/>
<rect x="1422.70" y="47.00" width="1.2" height="203.40" fill="url(#g33)"/>
<path d="M836.6 46.5H1439.1V249.9H836.6Z" fill="none" stroke="#000" stroke-opacity="0.22" stroke-width="1"/>
<path d="M911.54 46.0v6M911.54 250.4v-6M986.98 46.0v6M986.98 250.4v-6M1062.41 46.0v6M1062.41 250.4v-6M1137.85 46.0v6M1137.85 250.4v-6M1213.29 46.0v6M1213.29 250.4v-6M1288.72 46.0v6M1288.72 250.4v-6M1364.16 46.0v6M1364.16 250.4v-6M836.1 48.20h6M1439.6 48.20h-6M836.1 107.00h6M1439.6 107.00h-6M836.1 153.30h6M1439.6 153.30h-6M836.1 198.70h6M1439.6 198.70h-6M836.1 248.30h6M1439.6 248.30h-6" stroke="#000" stroke-opacity="0.4" stroke-width="1" fill="none"/>
<text x="832.60" y="52.00" text-anchor="end" font-weight="normal" font-size="12.3" >100</text>
<text x="832.60" y="110.80" text-anchor="end" font-weight="normal" font-size="12.3" >64</text>
<text x="832.60" y="157.10" text-anchor="end" font-weight="normal" font-size="12.3" >45</text>
<text x="832.60" y="202.50" text-anchor="end" font-weight="normal" font-size="12.3" >32</text>
<text x="832.60" y="252.10" text-anchor="end" font-weight="normal" font-size="12.3" >22</text>
<text x="836.10" y="265.20" text-anchor="middle" font-weight="normal" font-size="12.3" >00:00</text>
<text x="911.54" y="265.20" text-anchor="middle" font-weight="normal" font-size="12.3" >03:00</text>
<text x="986.98" y="265.20" text-anchor="middle" font-weight="normal" font-size="12.3" >06:00</text>
<text x="1062.41" y="265.20" text-anchor="middle" font-weight="normal" font-size="12.3" >09:00</text>
<text x="1137.85" y="265.20" text-anchor="middle" font-weight="normal" font-size="12.3" >12:00</text>
<text x="1213.29" y="265.20" text-anchor="middle" font-weight="normal" font-size="12.3" >15:00</text>
<text x="1288.72" y="265.20" text-anchor="middle" font-weight="normal" font-size="12.3" >18:00</text>
<text x="1364.16" y="265.20" text-anchor="middle" font-weight="normal" font-size="12.3" >21:00</text>
<text x="1439.60" y="265.20" text-anchor="middle" font-weight="normal" font-size="12.3" >00:00</text>
<text transform="translate(803 148.20) rotate(-90)" text-anchor="middle" font-weight="bold" font-size="12.3">freq (mHz)</text>
<rect x="1458.4" y="46.05" width="25.20" height="204.55" fill="url(#cbar)"/>
<rect x="1458.4" y="46.05" width="25.20" height="204.55" fill="none" stroke="#404040" stroke-opacity="0.5" stroke-width="0.8"/>
<text x="1486.90" y="255.20" text-anchor="start" font-weight="normal" font-size="12.3" >-2</text>
<text x="1486.90" y="221.11" text-anchor="start" font-weight="normal" font-size="12.3" >-1</text>
<text x="1486.90" y="187.02" text-anchor="start" font-weight="normal" font-size="12.3" >0</text>
<text x="1486.90" y="152.93" text-anchor="start" font-weight="normal" font-size="12.3" >1</text>
<text x="1486.90" y="118.83" text-anchor="start" font-weight="normal" font-size="12.3" >2</text>
<text x="1486.90" y="84.74" text-anchor="start" font-weight="normal" font-size="12.3" >3</text>
<text x="1486.90" y="50.65" text-anchor="start" font-weight="normal" font-size="12.3" >4</text>
<path d="M1458.4 250.60h3M1483.6 250.60h-3M1458.4 216.51h3M1483.6 216.51h-3M1458.4 182.42h3M1483.6 182.42h-3M1458.4 148.33h3M1483.6 148.33h-3M1458.4 114.23h3M1483.6 114.23h-3M1458.4 80.14h3M1483.6 80.14h-3M1458.4 46.05h3M1483.6 46.05h-3" stroke="#303030" stroke-opacity="0.6" stroke-width="1" fill="none"/>
<text transform="translate(1518.4 148.20) rotate(-90)" text-anchor="middle" font-weight="bold" font-size="12.3">log<tspan font-size="9.23" dy="6.4">2</tspan><tspan dy="-6.4">(nT</tspan><tspan font-size="9.23" dy="-7">2</tspan><tspan dy="7">/Hz)</tspan></text>
<rect x="836.1" y="329.9" width="603.50" height="204.60" fill="rgb(0,0,143)"/>
<rect x="948.20" y="329.90" width="1.0" height="204.60" fill="url(#g34)"/>
<rect x="949.30" y="329.90" width="1.0" height="204.60" fill="url(#g35)"/>
<rect x="950.40" y="329.90" width="1.0" height="204.60" fill="url(#g36)"/>
<rect x="982.30" y="490.90" width="1.0" height="43.60" fill="url(#g37)"/>
<rect x="993.20" y="487.40" width="1.0" height="47.10" fill="url(#g38)"/>
<rect x="1002.80" y="434.50" width="1.2" height="100.00" fill="url(#g39)"/>
<rect x="1006.90" y="492.90" width="1.0" height="41.60" fill="url(#g40)"/>
<rect x="1028.80" y="487.40" width="1.0" height="47.10" fill="url(#g41)"/>
<rect x="1035.10" y="492.90" width="1.0" height="41.60" fill="url(#g42)"/>
<rect x="1041.90" y="348.90" width="1.2" height="185.60" fill="url(#g43)"/>
<rect x="1213.60" y="329.90" width="1.2" height="204.60" fill="url(#g44)"/>
<rect x="1229.00" y="409.50" width="1.2" height="125.00" fill="url(#g45)"/>
<rect x="1267.10" y="356.40" width="1.2" height="178.10" fill="url(#g46)"/>
<rect x="1306.00" y="397.90" width="1.0" height="136.60" fill="url(#g47)"/>
<path d="M836.6 330.4H1439.1V534.0H836.6Z" fill="none" stroke="#000" stroke-opacity="0.22" stroke-width="1"/>
<path d="M911.54 329.9v6M911.54 534.5v-6M986.98 329.9v6M986.98 534.5v-6M1062.41 329.9v6M1062.41 534.5v-6M1137.85 329.9v6M1137.85 534.5v-6M1213.29 329.9v6M1213.29 534.5v-6M1288.72 329.9v6M1288.72 534.5v-6M1364.16 329.9v6M1364.16 534.5v-6M836.1 332.10h6M1439.6 332.10h-6M836.1 390.90h6M1439.6 390.90h-6M836.1 437.20h6M1439.6 437.20h-6M836.1 482.60h6M1439.6 482.60h-6M836.1 532.20h6M1439.6 532.20h-6" stroke="#000" stroke-opacity="0.4" stroke-width="1" fill="none"/>
<text x="832.60" y="335.90" text-anchor="end" font-weight="normal" font-size="12.3" >100</text>
<text x="832.60" y="394.70" text-anchor="end" font-weight="normal" font-size="12.3" >64</text>
<text x="832.60" y="441.00" text-anchor="end" font-weight="normal" font-size="12.3" >45</text>
<text x="832.60" y="486.40" text-anchor="end" font-weight="normal" font-size="12.3" >32</text>
<text x="832.60" y="536.00" text-anchor="end" font-weight="normal" font-size="12.3" >22</text>
<text x="836.10" y="549.30" text-anchor="middle" font-weight="normal" font-size="12.3" >00:00</text>
<text x="911.54" y="549.30" text-anchor="middle" font-weight="normal" font-size="12.3" >03:00</text>
<text x="986.98" y="549.30" text-anchor="middle" font-weight="normal" font-size="12.3" >06:00</text>
<text x="1062.41" y="549.30" text-anchor="middle" font-weight="normal" font-size="12.3" >09:00</text>
<text x="1137.85" y="549.30" text-anchor="middle" font-weight="normal" font-size="12.3" >12:00</text>
<text x="1213.29" y="549.30" text-anchor="middle" font-weight="normal" font-size="12.3" >15:00</text>
<text x="1288.72" y="549.30" text-anchor="middle" font-weight="normal" font-size="12.3" >18:00</text>
<text x="1364.16" y="549.30" text-anchor="middle" font-weight="normal" font-size="12.3" >21:00</text>
<text x="1439.60" y="549.30" text-anchor="middle" font-weight="normal" font-size="12.3" >00:00</text>
<text transform="translate(803 432.20) rotate(-90)" text-anchor="middle" font-weight="bold" font-size="12.3">freq (mHz)</text>
<rect x="1458.4" y="329.95" width="25.20" height="204.75" fill="url(#cbar)"/>
<rect x="1458.4" y="329.95" width="25.20" height="204.75" fill="none" stroke="#404040" stroke-opacity="0.5" stroke-width="0.8"/>
<text x="1486.90" y="539.30" text-anchor="start" font-weight="normal" font-size="12.3" >-2</text>
<text x="1486.90" y="505.18" text-anchor="start" font-weight="normal" font-size="12.3" >-1</text>
<text x="1486.90" y="471.05" text-anchor="start" font-weight="normal" font-size="12.3" >0</text>
<text x="1486.90" y="436.93" text-anchor="start" font-weight="normal" font-size="12.3" >1</text>
<text x="1486.90" y="402.80" text-anchor="start" font-weight="normal" font-size="12.3" >2</text>
<text x="1486.90" y="368.68" text-anchor="start" font-weight="normal" font-size="12.3" >3</text>
<text x="1486.90" y="334.55" text-anchor="start" font-weight="normal" font-size="12.3" >4</text>
<path d="M1458.4 534.70h3M1483.6 534.70h-3M1458.4 500.58h3M1483.6 500.58h-3M1458.4 466.45h3M1483.6 466.45h-3M1458.4 432.33h3M1483.6 432.33h-3M1458.4 398.20h3M1483.6 398.20h-3M1458.4 364.07h3M1483.6 364.07h-3M1458.4 329.95h3M1483.6 329.95h-3" stroke="#303030" stroke-opacity="0.6" stroke-width="1" fill="none"/>
<text transform="translate(1518.4 432.20) rotate(-90)" text-anchor="middle" font-weight="bold" font-size="12.3">log<tspan font-size="9.23" dy="6.4">2</tspan><tspan dy="-6.4">(nT</tspan><tspan font-size="9.23" dy="-7">2</tspan><tspan dy="7">/Hz)</tspan></text>
<rect x="836.2" y="613.6" width="603.40" height="204.50" fill="rgb(0,0,143)"/>
<rect x="949.70" y="630.60" width="1.4" height="187.50" fill="url(#g48)"/>
<rect x="966.80" y="749.10" width="1.0" height="69.00" fill="url(#g49)"/>
<rect x="1042.20" y="683.60" width="1.2" height="134.50" fill="url(#g50)"/>
<rect x="1053.20" y="717.60" width="1.0" height="100.50" fill="url(#g51)"/>
<rect x="1068.90" y="779.60" width="1.0" height="38.50" fill="url(#g52)"/>
<rect x="1213.60" y="650.30" width="1.2" height="167.80" fill="url(#g53)"/>
<rect x="1229.00" y="692.00" width="1.2" height="126.10" fill="url(#g54)"/>
<rect x="1267.30" y="709.60" width="1.0" height="108.50" fill="url(#g55)"/>
<rect x="1274.80" y="782.60" width="1.0" height="35.50" fill="url(#g56)"/>
<rect x="1375.70" y="649.00" width="1.2" height="169.10" fill="url(#g57)"/>
<rect x="1422.80" y="651.60" width="1.0" height="166.50" fill="url(#g58)"/>
<path d="M836.7 614.1H1439.1V817.6H836.7Z" fill="none" stroke="#000" stroke-opacity="0.22" stroke-width="1"/>
<path d="M911.62 613.6v6M911.62 818.1v-6M987.05 613.6v6M987.05 818.1v-6M1062.47 613.6v6M1062.47 818.1v-6M1137.90 613.6v6M1137.90 818.1v-6M1213.33 613.6v6M1213.33 818.1v-6M1288.75 613.6v6M1288.75 818.1v-6M1364.17 613.6v6M1364.17 818.1v-6M836.2 615.80h6M1439.6 615.80h-6M836.2 674.60h6M1439.6 674.60h-6M836.2 720.90h6M1439.6 720.90h-6M836.2 766.30h6M1439.6 766.30h-6M836.2 815.90h6M1439.6 815.90h-6" stroke="#000" stroke-opacity="0.4" stroke-width="1" fill="none"/>
<text x="832.70" y="619.60" text-anchor="end" font-weight="normal" font-size="12.3" >100</text>
<text x="832.70" y="678.40" text-anchor="end" font-weight="normal" font-size="12.3" >64</text>
<text x="832.70" y="724.70" text-anchor="end" font-weight="normal" font-size="12.3" >45</text>
<text x="832.70" y="770.10" text-anchor="end" font-weight="normal" font-size="12.3" >32</text>
<text x="832.70" y="819.70" text-anchor="end" font-weight="normal" font-size="12.3" >22</text>
<text x="836.20" y="832.90" text-anchor="middle" font-weight="normal" font-size="12.3" >00:00</text>
<text x="911.62" y="832.90" text-anchor="middle" font-weight="normal" font-size="12.3" >03:00</text>
<text x="987.05" y="832.90" text-anchor="middle" font-weight="normal" font-size="12.3" >06:00</text>
<text x="1062.47" y="832.90" text-anchor="middle" font-weight="normal" font-size="12.3" >09:00</text>
<text x="1137.90" y="832.90" text-anchor="middle" font-weight="normal" font-size="12.3" >12:00</text>
<text x="1213.33" y="832.90" text-anchor="middle" font-weight="normal" font-size="12.3" >15:00</text>
<text x="1288.75" y="832.90" text-anchor="middle" font-weight="normal" font-size="12.3" >18:00</text>
<text x="1364.17" y="832.90" text-anchor="middle" font-weight="normal" font-size="12.3" >21:00</text>
<text x="1439.60" y="832.90" text-anchor="middle" font-weight="normal" font-size="12.3" >00:00</text>
<text transform="translate(803 715.85) rotate(-90)" text-anchor="middle" font-weight="bold" font-size="12.3">freq (mHz)</text>
<rect x="1458.4" y="613.65" width="25.20" height="204.65" fill="url(#cbar)"/>
<rect x="1458.4" y="613.65" width="25.20" height="204.65" fill="none" stroke="#404040" stroke-opacity="0.5" stroke-width="0.8"/>
<text x="1486.90" y="822.90" text-anchor="start" font-weight="normal" font-size="12.3" >-2</text>
<text x="1486.90" y="788.79" text-anchor="start" font-weight="normal" font-size="12.3" >-1</text>
<text x="1486.90" y="754.68" text-anchor="start" font-weight="normal" font-size="12.3" >0</text>
<text x="1486.90" y="720.58" text-anchor="start" font-weight="normal" font-size="12.3" >1</text>
<text x="1486.90" y="686.47" text-anchor="start" font-weight="normal" font-size="12.3" >2</text>
<text x="1486.90" y="652.36" text-anchor="start" font-weight="normal" font-size="12.3" >3</text>
<text x="1486.90" y="618.25" text-anchor="start" font-weight="normal" font-size="12.3" >4</text>
<path d="M1458.4 818.30h3M1483.6 818.30h-3M1458.4 784.19h3M1483.6 784.19h-3M1458.4 750.08h3M1483.6 750.08h-3M1458.4 715.98h3M1483.6 715.98h-3M1458.4 681.87h3M1483.6 681.87h-3M1458.4 647.76h3M1483.6 647.76h-3M1458.4 613.65h3M1483.6 613.65h-3" stroke="#303030" stroke-opacity="0.6" stroke-width="1" fill="none"/>
<text transform="translate(1518.4 715.85) rotate(-90)" text-anchor="middle" font-weight="bold" font-size="12.3">log<tspan font-size="9.23" dy="6.4">2</tspan><tspan dy="-6.4">(nT</tspan><tspan font-size="9.23" dy="-7">2</tspan><tspan dy="7">/Hz)</tspan></text>
<text x="344.50" y="847.80" text-anchor="middle" font-weight="bold" font-size="12.3" >UT (hours)</text>
<text x="1137.80" y="847.80" text-anchor="middle" font-weight="bold" font-size="12.3" >UT (hours)</text></svg>
</body></html>
